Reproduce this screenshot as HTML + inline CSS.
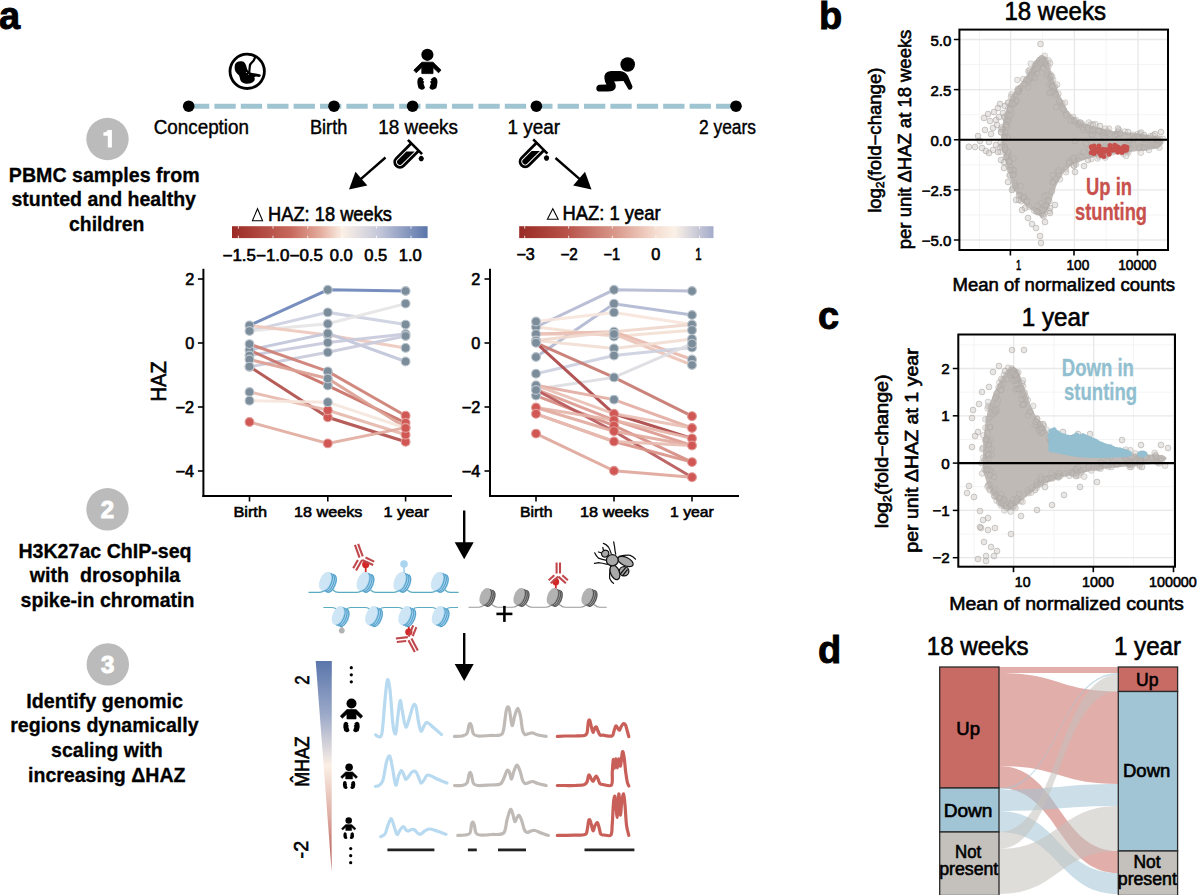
<!DOCTYPE html>
<html><head><meta charset="utf-8"><title>Figure</title>
<style>
html,body{margin:0;padding:0;background:#fff;width:1200px;height:895px;overflow:hidden}
svg{display:block;font-family:"Liberation Sans", sans-serif}
</style></head>
<body>
<svg width="1200" height="895" viewBox="0 0 1200 895">
<rect x="0" y="0" width="1200" height="895" fill="#fff"/>
<text x="-1.0" y="29.0" font-size="38" text-anchor="start" fill="#000" stroke="#000" stroke-width="0.9" font-weight="bold" >a</text>
<text x="819.0" y="29.0" font-size="38" text-anchor="start" fill="#000" stroke="#000" stroke-width="0.9" font-weight="bold" >b</text>
<text x="818.0" y="329.0" font-size="38" text-anchor="start" fill="#000" stroke="#000" stroke-width="0.9" font-weight="bold" >c</text>
<text x="818.0" y="663.0" font-size="38" text-anchor="start" fill="#000" stroke="#000" stroke-width="0.9" font-weight="bold" >d</text>
<line x1="188.00" y1="106.20" x2="736.00" y2="106.20" stroke="#9ec4d2" stroke-width="5" stroke-dasharray="21.3 5.1"/>
<circle cx="188.70" cy="106.20" r="5.8" fill="#000" />
<circle cx="334.00" cy="106.20" r="5.8" fill="#000" />
<circle cx="412.60" cy="106.20" r="5.8" fill="#000" />
<circle cx="536.40" cy="106.20" r="5.8" fill="#000" />
<circle cx="736.00" cy="106.20" r="5.8" fill="#000" />
<text x="153.7" y="134.0" font-size="19.5" text-anchor="start" fill="#000" stroke="#000" stroke-width="0.4" textLength="95.3" lengthAdjust="spacingAndGlyphs" >Conception</text>
<text x="310.0" y="134.0" font-size="19.5" text-anchor="start" fill="#000" stroke="#000" stroke-width="0.4" textLength="37.3" lengthAdjust="spacingAndGlyphs" >Birth</text>
<text x="378.3" y="134.0" font-size="19.5" text-anchor="start" fill="#000" stroke="#000" stroke-width="0.4" textLength="79.7" lengthAdjust="spacingAndGlyphs" >18 weeks</text>
<text x="507.5" y="134.0" font-size="19.5" text-anchor="start" fill="#000" stroke="#000" stroke-width="0.4" textLength="52.5" lengthAdjust="spacingAndGlyphs" >1 year</text>
<text x="699.0" y="134.0" font-size="19.5" text-anchor="start" fill="#000" stroke="#000" stroke-width="0.4" textLength="57.0" lengthAdjust="spacingAndGlyphs" >2 years</text>
<circle cx="247.2" cy="71.3" r="17.2" fill="none" stroke="#000" stroke-width="2.8"/>
<path d="M234.8,65.7 C235,62.5 238,61.2 241.8,61.3 C244.5,61.5 246,63.8 247,68.7 L248.1,70.9 L249.9,72.3 L252.1,73.1 L255.8,73.5 L259.5,74.2 C261.3,74.6 261.3,76.7 259.2,76.9 L255.8,76.5 L254.2,77.2 C255.2,78.6 254.8,80.5 253.6,81.6 C252,83.2 249,84 246.6,83.8 C244,83.7 241.5,82.5 240.7,80.8 C240,79.5 240,77.8 239.2,75.7 C238.5,74.8 236.5,73.5 235.5,71.6 C234.7,70 234.4,68 234.8,65.7 Z" fill="#000" stroke="none" stroke-width="1" />
<path d="M249.2,72.5 L249.8,66.1 C250,64.5 250.6,63.5 251.9,62.4 L253.7,60.5 L255.6,56.3" fill="none" stroke="#000" stroke-width="2.2" stroke-linejoin="round"/>
<circle cx="246.30" cy="72.60" r="0.5" fill="#fff" />
<circle cx="248.60" cy="74.40" r="0.45" fill="#fff" />
<g transform="translate(427.40 54.80) scale(1.0)"><circle cx="0" cy="0" r="6.1" fill="#000"/><path d="M-5.6,7.4 L5.6,7.4 L13.6,15.3 L11.2,18 L5.6,12.8 L5.6,18.8 L-5.6,18.8 L-5.6,12.8 L-11.2,18 L-13.6,15.3 Z" fill="#000" stroke="#000" stroke-width="0.8" stroke-linejoin="round"/><path d="M-9.6,24.3 Q-8,21.5 -5.6,22.6 L-3.6,24.6 L-4.6,25.4 L-3.2,27.3 L-4,28.4 L-2.4,33 Q-3.5,35.3 -6,35 L-8.8,33.4 Q-10.8,28 -9.6,24.3 Z" fill="#000"/><path d="M9.6,24.3 Q8,21.5 5.6,22.6 L3.2,24.6 L4.2,25.4 L2.6,27.3 L3.6,28.4 L2.0,33 Q3.1,35.3 5.6,35 L8.8,33.4 Q10.8,28 9.6,24.3 Z" fill="#000"/></g>
<circle cx="627.7" cy="64.5" r="7.3" fill="#000"/>
<path d="M604.5,79 Q603.5,71.5 611,71 L620,71 Q625.5,71.5 628,76 L632.5,86.5 Q632,90.5 628.5,89.5 L623.5,81 L614,81.5 Q616.5,84.5 615.5,88 Q614,91.5 608,91.5 L599,91.5 Q596.2,91.2 596.3,88 Q596.7,85 599.5,84.8 L606.5,84.6 Q604.8,82 604.5,79 Z" fill="#000" stroke="none" stroke-width="1" />
<g transform="translate(415.00 147.00) rotate(45)"><path d="M-5.2,0 L-5.2,21.3 A5.2,5.2 0 0 0 5.2,21.3 L5.2,0" fill="none" stroke="#000" stroke-width="2.8"/><path d="M-2.9,9.3 L2.9,3.5 L2.9,21.3 A2.9,2.9 0 0 1 -2.9,21.3 Z" fill="#000"/><line x1="-10" y1="0" x2="10" y2="0" stroke="#000" stroke-width="2.6"/><circle cx="12.6" cy="3.8" r="2.6" fill="#000"/></g>
<g transform="translate(540.30 146.50) rotate(45)"><path d="M-5.2,0 L-5.2,21.3 A5.2,5.2 0 0 0 5.2,21.3 L5.2,0" fill="none" stroke="#000" stroke-width="2.8"/><path d="M-2.9,9.3 L2.9,3.5 L2.9,21.3 A2.9,2.9 0 0 1 -2.9,21.3 Z" fill="#000"/><line x1="-10" y1="0" x2="10" y2="0" stroke="#000" stroke-width="2.6"/><circle cx="12.6" cy="3.8" r="2.6" fill="#000"/></g>
<line x1="385.50" y1="157.50" x2="359.90" y2="179.94" stroke="#000" stroke-width="2.4" />
<polygon points="349.00,189.50 355.47,171.86 367.34,185.39" fill="#000"/>
<line x1="555.50" y1="158.00" x2="580.59" y2="179.95" stroke="#000" stroke-width="2.4" />
<polygon points="591.50,189.50 573.16,185.41 585.01,171.86" fill="#000"/>
<line x1="464.20" y1="510.50" x2="464.20" y2="544.20" stroke="#000" stroke-width="2.4" />
<polygon points="464.20,559.20 454.70,542.20 473.70,542.20" fill="#000"/>
<line x1="464.20" y1="633.00" x2="464.20" y2="666.00" stroke="#000" stroke-width="2.4" />
<polygon points="464.20,681.00 454.70,664.00 473.70,664.00" fill="#000"/>
<circle cx="107.50" cy="139.00" r="21.2" fill="#bbbbbb" />
<path d="M107.7,130.1 L111.9,130.1 L111.9,147.6 L107.8,147.6 L107.8,135.8 L103.4,135.8 L103.4,132.6 Q107,132.3 107.7,130.1 Z" fill="#fff" stroke="none" stroke-width="1" />
<circle cx="107.50" cy="509.30" r="21.2" fill="#bbbbbb" />
<text x="107.5" y="517.9" font-size="24" text-anchor="middle" fill="#fff" stroke="#fff" stroke-width="1.0" font-weight="bold" >2</text>
<circle cx="107.80" cy="664.40" r="21.2" fill="#bbbbbb" />
<text x="107.8" y="673.0" font-size="24" text-anchor="middle" fill="#fff" stroke="#fff" stroke-width="1.0" font-weight="bold" >3</text>
<text x="8.8" y="181.9" font-size="20.5" text-anchor="start" fill="#000" stroke="#000" stroke-width="0.3" font-weight="bold" textLength="190.8" lengthAdjust="spacingAndGlyphs" >PBMC samples from</text>
<text x="11.4" y="206.4" font-size="20.5" text-anchor="start" fill="#000" stroke="#000" stroke-width="0.3" font-weight="bold" textLength="184.6" lengthAdjust="spacingAndGlyphs" >stunted and healthy</text>
<text x="69.1" y="231.4" font-size="20.5" text-anchor="start" fill="#000" stroke="#000" stroke-width="0.3" font-weight="bold" textLength="75.3" lengthAdjust="spacingAndGlyphs" >children</text>
<text x="18.4" y="557.8" font-size="20.5" text-anchor="start" fill="#000" stroke="#000" stroke-width="0.3" font-weight="bold" textLength="173.2" lengthAdjust="spacingAndGlyphs" >H3K27ac ChIP-seq</text>
<text x="29.8" y="582.2" font-size="20.5" text-anchor="start" fill="#000" stroke="#000" stroke-width="0.3" font-weight="bold" textLength="150.5" lengthAdjust="spacingAndGlyphs" >with&#160;&#160;drosophila</text>
<text x="20.6" y="606.8" font-size="20.5" text-anchor="start" fill="#000" stroke="#000" stroke-width="0.3" font-weight="bold" textLength="173.9" lengthAdjust="spacingAndGlyphs" >spike-in chromatin</text>
<text x="26.2" y="707.9" font-size="20.5" text-anchor="start" fill="#000" stroke="#000" stroke-width="0.3" font-weight="bold" textLength="156.7" lengthAdjust="spacingAndGlyphs" >Identify genomic</text>
<text x="10.2" y="732.4" font-size="20.5" text-anchor="start" fill="#000" stroke="#000" stroke-width="0.3" font-weight="bold" textLength="188.4" lengthAdjust="spacingAndGlyphs" >regions dynamically</text>
<text x="51.1" y="757.4" font-size="20.5" text-anchor="start" fill="#000" stroke="#000" stroke-width="0.3" font-weight="bold" textLength="111.7" lengthAdjust="spacingAndGlyphs" >scaling with</text>
<text x="28.0" y="781.9" font-size="20.5" text-anchor="start" fill="#000" stroke="#000" stroke-width="0.3" font-weight="bold" textLength="157.5" lengthAdjust="spacingAndGlyphs" >increasing &#916;HAZ</text>
<defs>
<linearGradient id="cb1" x1="0" x2="1" y1="0" y2="0">
<stop offset="0" stop-color="#9b2a25"/><stop offset="0.3" stop-color="#c7695c"/><stop offset="0.45" stop-color="#e3ab9c"/>
<stop offset="0.565" stop-color="#fbf0e6"/><stop offset="0.75" stop-color="#c5c8da"/><stop offset="1" stop-color="#5a75aa"/></linearGradient>
<linearGradient id="cb2" x1="0" x2="1" y1="0" y2="0">
<stop offset="0" stop-color="#992a24"/><stop offset="0.25" stop-color="#b8544b"/><stop offset="0.5" stop-color="#d99a8c"/>
<stop offset="0.7" stop-color="#f5dccf"/><stop offset="0.8" stop-color="#fbf1e7"/><stop offset="1" stop-color="#a4accb"/></linearGradient>
<linearGradient id="wedge" x1="0" x2="0" y1="0" y2="1">
<stop offset="0" stop-color="#5a76ab"/><stop offset="0.25" stop-color="#9aa8c8"/><stop offset="0.5" stop-color="#fbefe5"/>
<stop offset="0.75" stop-color="#dcaaa0"/><stop offset="1" stop-color="#b04a45"/></linearGradient>
</defs>
<rect x="232" y="226.2" width="195.6" height="11.9" fill="url(#cb1)"/>
<line x1="238.40" y1="226.20" x2="238.40" y2="228.60" stroke="#fff" stroke-width="0.8" />
<line x1="238.40" y1="235.70" x2="238.40" y2="238.10" stroke="#fff" stroke-width="0.8" />
<line x1="273.00" y1="226.20" x2="273.00" y2="228.60" stroke="#fff" stroke-width="0.8" />
<line x1="273.00" y1="235.70" x2="273.00" y2="238.10" stroke="#fff" stroke-width="0.8" />
<line x1="307.80" y1="226.20" x2="307.80" y2="228.60" stroke="#fff" stroke-width="0.8" />
<line x1="307.80" y1="235.70" x2="307.80" y2="238.10" stroke="#fff" stroke-width="0.8" />
<line x1="342.00" y1="226.20" x2="342.00" y2="228.60" stroke="#fff" stroke-width="0.8" />
<line x1="342.00" y1="235.70" x2="342.00" y2="238.10" stroke="#fff" stroke-width="0.8" />
<line x1="376.50" y1="226.20" x2="376.50" y2="228.60" stroke="#fff" stroke-width="0.8" />
<line x1="376.50" y1="235.70" x2="376.50" y2="238.10" stroke="#fff" stroke-width="0.8" />
<line x1="411.00" y1="226.20" x2="411.00" y2="228.60" stroke="#fff" stroke-width="0.8" />
<line x1="411.00" y1="235.70" x2="411.00" y2="238.10" stroke="#fff" stroke-width="0.8" />
<rect x="519.2" y="226.2" width="194.3" height="11.9" fill="url(#cb2)"/>
<line x1="524.70" y1="226.20" x2="524.70" y2="228.60" stroke="#fff" stroke-width="0.8" />
<line x1="524.70" y1="235.70" x2="524.70" y2="238.10" stroke="#fff" stroke-width="0.8" />
<line x1="568.70" y1="226.20" x2="568.70" y2="228.60" stroke="#fff" stroke-width="0.8" />
<line x1="568.70" y1="235.70" x2="568.70" y2="238.10" stroke="#fff" stroke-width="0.8" />
<line x1="612.30" y1="226.20" x2="612.30" y2="228.60" stroke="#fff" stroke-width="0.8" />
<line x1="612.30" y1="235.70" x2="612.30" y2="238.10" stroke="#fff" stroke-width="0.8" />
<line x1="655.90" y1="226.20" x2="655.90" y2="228.60" stroke="#fff" stroke-width="0.8" />
<line x1="655.90" y1="235.70" x2="655.90" y2="238.10" stroke="#fff" stroke-width="0.8" />
<line x1="699.60" y1="226.20" x2="699.60" y2="228.60" stroke="#fff" stroke-width="0.8" />
<line x1="699.60" y1="235.70" x2="699.60" y2="238.10" stroke="#fff" stroke-width="0.8" />
<path d="M257.5,208.7 L252.4,220.7 L262.6,220.7 Z" fill="none" stroke="#000" stroke-width="1.05" stroke-linejoin="miter"/>
<text x="268.1" y="220.6" font-size="20.9" text-anchor="start" fill="#000" stroke="#000" stroke-width="0.6" textLength="123.8" lengthAdjust="spacingAndGlyphs" >HAZ: 18 weeks</text>
<path d="M552.8,208.7 L547.4,219.2 L558.2,219.2 Z" fill="none" stroke="#000" stroke-width="1.05" stroke-linejoin="miter"/>
<text x="562.5" y="219.8" font-size="20.5" text-anchor="start" fill="#000" stroke="#000" stroke-width="0.6" textLength="98.1" lengthAdjust="spacingAndGlyphs" >HAZ: 1 year</text>
<text x="222.5" y="260.5" font-size="15.8" text-anchor="start" fill="#000" stroke="#000" stroke-width="0.6" textLength="33.5" lengthAdjust="spacingAndGlyphs" >&#8722;1.5</text>
<text x="256.0" y="260.5" font-size="15.8" text-anchor="start" fill="#000" stroke="#000" stroke-width="0.6" textLength="33.5" lengthAdjust="spacingAndGlyphs" >&#8722;1.0</text>
<text x="289.5" y="260.5" font-size="15.8" text-anchor="start" fill="#000" stroke="#000" stroke-width="0.6" textLength="33.5" lengthAdjust="spacingAndGlyphs" >&#8722;0.5</text>
<text x="329.8" y="260.5" font-size="15.8" text-anchor="start" fill="#000" stroke="#000" stroke-width="0.6" textLength="23.0" lengthAdjust="spacingAndGlyphs" >0.0</text>
<text x="364.3" y="260.5" font-size="15.8" text-anchor="start" fill="#000" stroke="#000" stroke-width="0.6" textLength="23.0" lengthAdjust="spacingAndGlyphs" >0.5</text>
<text x="398.8" y="260.5" font-size="15.8" text-anchor="start" fill="#000" stroke="#000" stroke-width="0.6" textLength="23.0" lengthAdjust="spacingAndGlyphs" >1.0</text>
<text x="516.4" y="260.0" font-size="15.8" text-anchor="start" fill="#000" stroke="#000" stroke-width="0.6" textLength="18.4" lengthAdjust="spacingAndGlyphs" >&#8722;3</text>
<text x="560.4" y="260.0" font-size="15.8" text-anchor="start" fill="#000" stroke="#000" stroke-width="0.6" textLength="17.4" lengthAdjust="spacingAndGlyphs" >&#8722;2</text>
<text x="603.5" y="260.0" font-size="15.8" text-anchor="start" fill="#000" stroke="#000" stroke-width="0.6" textLength="16.5" lengthAdjust="spacingAndGlyphs" >&#8722;1</text>
<text x="651.3" y="260.0" font-size="15.8" text-anchor="start" fill="#000" stroke="#000" stroke-width="0.6" textLength="9.1" lengthAdjust="spacingAndGlyphs" >0</text>
<text x="695.3" y="260.0" font-size="15.8" text-anchor="start" fill="#000" stroke="#000" stroke-width="0.6" textLength="6.4" lengthAdjust="spacingAndGlyphs" >1</text>
<line x1="203.40" y1="268.80" x2="203.40" y2="497.00" stroke="#000" stroke-width="2" />
<line x1="202.40" y1="496.00" x2="452.00" y2="496.00" stroke="#000" stroke-width="2" />
<line x1="197.90" y1="279.00" x2="203.40" y2="279.00" stroke="#000" stroke-width="1.6" />
<text x="194.2" y="285.0" font-size="16.3" text-anchor="end" fill="#000" stroke="#000" stroke-width="0.6" >2</text>
<line x1="197.90" y1="343.00" x2="203.40" y2="343.00" stroke="#000" stroke-width="1.6" />
<text x="194.2" y="349.0" font-size="16.3" text-anchor="end" fill="#000" stroke="#000" stroke-width="0.6" >0</text>
<line x1="197.90" y1="407.00" x2="203.40" y2="407.00" stroke="#000" stroke-width="1.6" />
<text x="194.2" y="413.0" font-size="16.3" text-anchor="end" fill="#000" stroke="#000" stroke-width="0.6" >&#8722;2</text>
<line x1="197.90" y1="471.00" x2="203.40" y2="471.00" stroke="#000" stroke-width="1.6" />
<text x="194.2" y="477.0" font-size="16.3" text-anchor="end" fill="#000" stroke="#000" stroke-width="0.6" >&#8722;4</text>
<line x1="249.50" y1="496.00" x2="249.50" y2="501.50" stroke="#000" stroke-width="1.6" />
<line x1="327.80" y1="496.00" x2="327.80" y2="501.50" stroke="#000" stroke-width="1.6" />
<line x1="405.60" y1="496.00" x2="405.60" y2="501.50" stroke="#000" stroke-width="1.6" />
<polyline points="249.5,325.4 327.8,289.8 405.6,291" fill="none" stroke="#6b84b8" stroke-width="3" stroke-opacity="0.92"/>
<polyline points="249.5,331 327.8,312.4 405.6,324.6" fill="none" stroke="#cdd0e0" stroke-width="3" stroke-opacity="0.92"/>
<polyline points="249.5,331 327.8,323.8 405.6,303.6" fill="none" stroke="#e6e4e4" stroke-width="3" stroke-opacity="0.92"/>
<polyline points="249.5,325.4 327.8,335 405.6,347.9" fill="none" stroke="#efc9bd" stroke-width="3" stroke-opacity="0.92"/>
<polyline points="249.5,350 327.8,333.3 405.6,361.5" fill="none" stroke="#c1c5da" stroke-width="3" stroke-opacity="0.92"/>
<polyline points="249.5,355.5 327.8,342.5 405.6,334" fill="none" stroke="#c8cadc" stroke-width="3" stroke-opacity="0.92"/>
<polyline points="249.5,366.9 327.8,352.3 405.6,336" fill="none" stroke="#c9cbdc" stroke-width="3" stroke-opacity="0.92"/>
<polyline points="249.5,344.1 327.8,371.4 405.6,415.7" fill="none" stroke="#cd7f74" stroke-width="3" stroke-opacity="0.92"/>
<polyline points="249.5,350 327.8,385.6 405.6,422.8" fill="none" stroke="#c87066" stroke-width="3" stroke-opacity="0.92"/>
<polyline points="249.5,359.5 327.8,378.5 405.6,427.6" fill="none" stroke="#dc9f93" stroke-width="3" stroke-opacity="0.92"/>
<polyline points="249.5,366.6 327.8,417.3 405.6,441.8" fill="none" stroke="#b04e4b" stroke-width="3" stroke-opacity="0.92"/>
<polyline points="249.5,392 327.8,410.2 405.6,434.7" fill="none" stroke="#e6b8ad" stroke-width="3" stroke-opacity="0.92"/>
<polyline points="249.5,400.7 327.8,402.2 405.6,428" fill="none" stroke="#f5e6dc" stroke-width="3" stroke-opacity="0.92"/>
<polyline points="249.5,422 327.8,443.4 405.6,427.6" fill="none" stroke="#e2aca1" stroke-width="3" stroke-opacity="0.92"/>
<circle cx="249.50" cy="325.40" r="4.4" fill="#7b8c9b" stroke="#bcc4cc" stroke-width="1.1"/>
<circle cx="327.80" cy="289.80" r="4.4" fill="#7b8c9b" stroke="#bcc4cc" stroke-width="1.1"/>
<circle cx="405.60" cy="291.00" r="4.4" fill="#7b8c9b" stroke="#bcc4cc" stroke-width="1.1"/>
<circle cx="249.50" cy="331.00" r="4.4" fill="#7b8c9b" stroke="#bcc4cc" stroke-width="1.1"/>
<circle cx="327.80" cy="312.40" r="4.4" fill="#7b8c9b" stroke="#bcc4cc" stroke-width="1.1"/>
<circle cx="405.60" cy="324.60" r="4.4" fill="#7b8c9b" stroke="#bcc4cc" stroke-width="1.1"/>
<circle cx="327.80" cy="323.80" r="4.4" fill="#7b8c9b" stroke="#bcc4cc" stroke-width="1.1"/>
<circle cx="405.60" cy="303.60" r="4.4" fill="#7b8c9b" stroke="#bcc4cc" stroke-width="1.1"/>
<circle cx="327.80" cy="335.00" r="4.4" fill="#7b8c9b" stroke="#bcc4cc" stroke-width="1.1"/>
<circle cx="405.60" cy="347.90" r="4.4" fill="#7b8c9b" stroke="#bcc4cc" stroke-width="1.1"/>
<circle cx="249.50" cy="350.00" r="4.4" fill="#7b8c9b" stroke="#bcc4cc" stroke-width="1.1"/>
<circle cx="327.80" cy="333.30" r="4.4" fill="#7b8c9b" stroke="#bcc4cc" stroke-width="1.1"/>
<circle cx="405.60" cy="361.50" r="4.4" fill="#7b8c9b" stroke="#bcc4cc" stroke-width="1.1"/>
<circle cx="249.50" cy="355.50" r="4.4" fill="#7b8c9b" stroke="#bcc4cc" stroke-width="1.1"/>
<circle cx="327.80" cy="342.50" r="4.4" fill="#7b8c9b" stroke="#bcc4cc" stroke-width="1.1"/>
<circle cx="405.60" cy="334.00" r="4.4" fill="#7b8c9b" stroke="#bcc4cc" stroke-width="1.1"/>
<circle cx="249.50" cy="366.90" r="4.4" fill="#7b8c9b" stroke="#bcc4cc" stroke-width="1.1"/>
<circle cx="327.80" cy="352.30" r="4.4" fill="#7b8c9b" stroke="#bcc4cc" stroke-width="1.1"/>
<circle cx="405.60" cy="336.00" r="4.4" fill="#7b8c9b" stroke="#bcc4cc" stroke-width="1.1"/>
<circle cx="249.50" cy="344.10" r="4.4" fill="#7b8c9b" stroke="#bcc4cc" stroke-width="1.1"/>
<circle cx="327.80" cy="371.40" r="4.4" fill="#7b8c9b" stroke="#bcc4cc" stroke-width="1.1"/>
<circle cx="405.60" cy="415.70" r="4.4" fill="#d05753" stroke="#e09a96" stroke-width="1.1"/>
<circle cx="327.80" cy="385.60" r="4.4" fill="#7b8c9b" stroke="#bcc4cc" stroke-width="1.1"/>
<circle cx="405.60" cy="422.80" r="4.4" fill="#d05753" stroke="#e09a96" stroke-width="1.1"/>
<circle cx="249.50" cy="359.50" r="4.4" fill="#7b8c9b" stroke="#bcc4cc" stroke-width="1.1"/>
<circle cx="327.80" cy="378.50" r="4.4" fill="#7b8c9b" stroke="#bcc4cc" stroke-width="1.1"/>
<circle cx="405.60" cy="427.60" r="4.4" fill="#d05753" stroke="#e09a96" stroke-width="1.1"/>
<circle cx="249.50" cy="366.60" r="4.4" fill="#7b8c9b" stroke="#bcc4cc" stroke-width="1.1"/>
<circle cx="327.80" cy="417.30" r="4.4" fill="#d05753" stroke="#e09a96" stroke-width="1.1"/>
<circle cx="405.60" cy="441.80" r="4.4" fill="#d05753" stroke="#e09a96" stroke-width="1.1"/>
<circle cx="249.50" cy="392.00" r="4.4" fill="#7b8c9b" stroke="#bcc4cc" stroke-width="1.1"/>
<circle cx="327.80" cy="410.20" r="4.4" fill="#d05753" stroke="#e09a96" stroke-width="1.1"/>
<circle cx="405.60" cy="434.70" r="4.4" fill="#d05753" stroke="#e09a96" stroke-width="1.1"/>
<circle cx="249.50" cy="400.70" r="4.4" fill="#7b8c9b" stroke="#bcc4cc" stroke-width="1.1"/>
<circle cx="327.80" cy="402.20" r="4.4" fill="#7b8c9b" stroke="#bcc4cc" stroke-width="1.1"/>
<circle cx="405.60" cy="428.00" r="4.4" fill="#d05753" stroke="#e09a96" stroke-width="1.1"/>
<circle cx="249.50" cy="422.00" r="4.4" fill="#d05753" stroke="#e09a96" stroke-width="1.1"/>
<circle cx="327.80" cy="443.40" r="4.4" fill="#d05753" stroke="#e09a96" stroke-width="1.1"/>
<line x1="490.00" y1="268.80" x2="490.00" y2="497.00" stroke="#000" stroke-width="2" />
<line x1="489.00" y1="496.00" x2="739.00" y2="496.00" stroke="#000" stroke-width="2" />
<line x1="484.50" y1="279.00" x2="490.00" y2="279.00" stroke="#000" stroke-width="1.6" />
<text x="480.3" y="285.0" font-size="16.3" text-anchor="end" fill="#000" stroke="#000" stroke-width="0.6" >2</text>
<line x1="484.50" y1="343.00" x2="490.00" y2="343.00" stroke="#000" stroke-width="1.6" />
<text x="480.3" y="349.0" font-size="16.3" text-anchor="end" fill="#000" stroke="#000" stroke-width="0.6" >0</text>
<line x1="484.50" y1="407.00" x2="490.00" y2="407.00" stroke="#000" stroke-width="1.6" />
<text x="480.3" y="413.0" font-size="16.3" text-anchor="end" fill="#000" stroke="#000" stroke-width="0.6" >&#8722;2</text>
<line x1="484.50" y1="471.00" x2="490.00" y2="471.00" stroke="#000" stroke-width="1.6" />
<text x="480.3" y="477.0" font-size="16.3" text-anchor="end" fill="#000" stroke="#000" stroke-width="0.6" >&#8722;4</text>
<line x1="536.00" y1="496.00" x2="536.00" y2="501.50" stroke="#000" stroke-width="1.6" />
<line x1="614.00" y1="496.00" x2="614.00" y2="501.50" stroke="#000" stroke-width="1.6" />
<line x1="692.00" y1="496.00" x2="692.00" y2="501.50" stroke="#000" stroke-width="1.6" />
<polyline points="536,327 614,289.8 692,291" fill="none" stroke="#b4bad3" stroke-width="3" stroke-opacity="0.92"/>
<polyline points="536,357 614,303.7 692,315" fill="none" stroke="#b0b7d1" stroke-width="3" stroke-opacity="0.92"/>
<polyline points="536,321.5 614,312.4 692,324.6" fill="none" stroke="#f6e5dc" stroke-width="3" stroke-opacity="0.92"/>
<polyline points="536,327 614,336.5 692,330.2" fill="none" stroke="#f3dfd4" stroke-width="3" stroke-opacity="0.92"/>
<polyline points="536,334 614,331.7 692,359.5" fill="none" stroke="#e8b9ab" stroke-width="3" stroke-opacity="0.92"/>
<polyline points="536,334 614,334 692,365" fill="none" stroke="#ebc3b7" stroke-width="3" stroke-opacity="0.92"/>
<polyline points="536,340.5 614,348.4 692,338.9" fill="none" stroke="#f2ddd4" stroke-width="3" stroke-opacity="0.92"/>
<polyline points="536,373.7 614,355.5 692,347.6" fill="none" stroke="#cdd0df" stroke-width="3" stroke-opacity="0.92"/>
<polyline points="536,389.3 614,377.4 692,343.6" fill="none" stroke="#dddde2" stroke-width="3" stroke-opacity="0.92"/>
<polyline points="536,342.8 614,377.4 692,416.2" fill="none" stroke="#c77a70" stroke-width="3" stroke-opacity="0.92"/>
<polyline points="536,342.8 614,413.8 692,438.4" fill="none" stroke="#ad4746" stroke-width="3" stroke-opacity="0.92"/>
<polyline points="536,385.3 614,399.6 692,428" fill="none" stroke="#e3ada2" stroke-width="3" stroke-opacity="0.92"/>
<polyline points="536,389.3 614,420.2 692,445.5" fill="none" stroke="#dc9a8f" stroke-width="3" stroke-opacity="0.92"/>
<polyline points="536,395.6 614,425.7 692,462.1" fill="none" stroke="#d68d83" stroke-width="3" stroke-opacity="0.92"/>
<polyline points="536,390 614,431.2 692,477.2" fill="none" stroke="#b9585a" stroke-width="3" stroke-opacity="0.92"/>
<polyline points="536,407.5 614,420.2 692,438.4" fill="none" stroke="#e6b5aa" stroke-width="3" stroke-opacity="0.92"/>
<polyline points="536,413.8 614,441.5 692,462.1" fill="none" stroke="#d99488" stroke-width="3" stroke-opacity="0.92"/>
<polyline points="536,407.5 614,431.2 692,445.5" fill="none" stroke="#e2aa9e" stroke-width="3" stroke-opacity="0.92"/>
<polyline points="536,433.6 614,470.8 692,477.2" fill="none" stroke="#e0a79c" stroke-width="3" stroke-opacity="0.92"/>
<polyline points="536,413.8 614,441.5 692,445.5" fill="none" stroke="#e8bcb1" stroke-width="3" stroke-opacity="0.92"/>
<polyline points="536,385.3 614,413.8 692,428" fill="none" stroke="#e9bfb4" stroke-width="3" stroke-opacity="0.92"/>
<polyline points="536,340.5 614,331.7 692,324.6" fill="none" stroke="#f0d8cd" stroke-width="3" stroke-opacity="0.92"/>
<circle cx="536.00" cy="327.00" r="4.4" fill="#7b8c9b" stroke="#bcc4cc" stroke-width="1.1"/>
<circle cx="614.00" cy="289.80" r="4.4" fill="#7b8c9b" stroke="#bcc4cc" stroke-width="1.1"/>
<circle cx="692.00" cy="291.00" r="4.4" fill="#7b8c9b" stroke="#bcc4cc" stroke-width="1.1"/>
<circle cx="536.00" cy="357.00" r="4.4" fill="#7b8c9b" stroke="#bcc4cc" stroke-width="1.1"/>
<circle cx="614.00" cy="303.70" r="4.4" fill="#7b8c9b" stroke="#bcc4cc" stroke-width="1.1"/>
<circle cx="692.00" cy="315.00" r="4.4" fill="#7b8c9b" stroke="#bcc4cc" stroke-width="1.1"/>
<circle cx="536.00" cy="321.50" r="4.4" fill="#7b8c9b" stroke="#bcc4cc" stroke-width="1.1"/>
<circle cx="614.00" cy="312.40" r="4.4" fill="#7b8c9b" stroke="#bcc4cc" stroke-width="1.1"/>
<circle cx="692.00" cy="324.60" r="4.4" fill="#7b8c9b" stroke="#bcc4cc" stroke-width="1.1"/>
<circle cx="614.00" cy="336.50" r="4.4" fill="#7b8c9b" stroke="#bcc4cc" stroke-width="1.1"/>
<circle cx="692.00" cy="330.20" r="4.4" fill="#7b8c9b" stroke="#bcc4cc" stroke-width="1.1"/>
<circle cx="536.00" cy="334.00" r="4.4" fill="#7b8c9b" stroke="#bcc4cc" stroke-width="1.1"/>
<circle cx="614.00" cy="331.70" r="4.4" fill="#7b8c9b" stroke="#bcc4cc" stroke-width="1.1"/>
<circle cx="692.00" cy="359.50" r="4.4" fill="#7b8c9b" stroke="#bcc4cc" stroke-width="1.1"/>
<circle cx="614.00" cy="334.00" r="4.4" fill="#7b8c9b" stroke="#bcc4cc" stroke-width="1.1"/>
<circle cx="692.00" cy="365.00" r="4.4" fill="#7b8c9b" stroke="#bcc4cc" stroke-width="1.1"/>
<circle cx="536.00" cy="340.50" r="4.4" fill="#7b8c9b" stroke="#bcc4cc" stroke-width="1.1"/>
<circle cx="614.00" cy="348.40" r="4.4" fill="#7b8c9b" stroke="#bcc4cc" stroke-width="1.1"/>
<circle cx="692.00" cy="338.90" r="4.4" fill="#7b8c9b" stroke="#bcc4cc" stroke-width="1.1"/>
<circle cx="536.00" cy="373.70" r="4.4" fill="#7b8c9b" stroke="#bcc4cc" stroke-width="1.1"/>
<circle cx="614.00" cy="355.50" r="4.4" fill="#7b8c9b" stroke="#bcc4cc" stroke-width="1.1"/>
<circle cx="692.00" cy="347.60" r="4.4" fill="#7b8c9b" stroke="#bcc4cc" stroke-width="1.1"/>
<circle cx="536.00" cy="389.30" r="4.4" fill="#7b8c9b" stroke="#bcc4cc" stroke-width="1.1"/>
<circle cx="614.00" cy="377.40" r="4.4" fill="#7b8c9b" stroke="#bcc4cc" stroke-width="1.1"/>
<circle cx="692.00" cy="343.60" r="4.4" fill="#7b8c9b" stroke="#bcc4cc" stroke-width="1.1"/>
<circle cx="536.00" cy="342.80" r="4.4" fill="#7b8c9b" stroke="#bcc4cc" stroke-width="1.1"/>
<circle cx="692.00" cy="416.20" r="4.4" fill="#d05753" stroke="#e09a96" stroke-width="1.1"/>
<circle cx="614.00" cy="413.80" r="4.4" fill="#d05753" stroke="#e09a96" stroke-width="1.1"/>
<circle cx="692.00" cy="438.40" r="4.4" fill="#d05753" stroke="#e09a96" stroke-width="1.1"/>
<circle cx="536.00" cy="385.30" r="4.4" fill="#7b8c9b" stroke="#bcc4cc" stroke-width="1.1"/>
<circle cx="614.00" cy="399.60" r="4.4" fill="#7b8c9b" stroke="#bcc4cc" stroke-width="1.1"/>
<circle cx="692.00" cy="428.00" r="4.4" fill="#d05753" stroke="#e09a96" stroke-width="1.1"/>
<circle cx="614.00" cy="420.20" r="4.4" fill="#d05753" stroke="#e09a96" stroke-width="1.1"/>
<circle cx="692.00" cy="445.50" r="4.4" fill="#d05753" stroke="#e09a96" stroke-width="1.1"/>
<circle cx="536.00" cy="395.60" r="4.4" fill="#7b8c9b" stroke="#bcc4cc" stroke-width="1.1"/>
<circle cx="614.00" cy="425.70" r="4.4" fill="#d05753" stroke="#e09a96" stroke-width="1.1"/>
<circle cx="692.00" cy="462.10" r="4.4" fill="#d05753" stroke="#e09a96" stroke-width="1.1"/>
<circle cx="536.00" cy="390.00" r="4.4" fill="#7b8c9b" stroke="#bcc4cc" stroke-width="1.1"/>
<circle cx="614.00" cy="431.20" r="4.4" fill="#d05753" stroke="#e09a96" stroke-width="1.1"/>
<circle cx="692.00" cy="477.20" r="4.4" fill="#d05753" stroke="#e09a96" stroke-width="1.1"/>
<circle cx="536.00" cy="407.50" r="4.4" fill="#d05753" stroke="#e09a96" stroke-width="1.1"/>
<circle cx="536.00" cy="413.80" r="4.4" fill="#d05753" stroke="#e09a96" stroke-width="1.1"/>
<circle cx="614.00" cy="441.50" r="4.4" fill="#d05753" stroke="#e09a96" stroke-width="1.1"/>
<circle cx="536.00" cy="433.60" r="4.4" fill="#d05753" stroke="#e09a96" stroke-width="1.1"/>
<circle cx="614.00" cy="470.80" r="4.4" fill="#d05753" stroke="#e09a96" stroke-width="1.1"/>
<text x="165.9" y="381.4" font-size="21.7" text-anchor="middle" fill="#000" stroke="#000" stroke-width="0.6" textLength="40.2" lengthAdjust="spacingAndGlyphs" transform="rotate(-90 165.9 381.4)" >HAZ</text>
<text x="233.4" y="517.4" font-size="15.5" text-anchor="start" fill="#000" stroke="#000" stroke-width="0.6" textLength="33.6" lengthAdjust="spacingAndGlyphs" >Birth</text>
<text x="294.1" y="517.4" font-size="15.5" text-anchor="start" fill="#000" stroke="#000" stroke-width="0.6" textLength="68.3" lengthAdjust="spacingAndGlyphs" >18 weeks</text>
<text x="383.4" y="517.4" font-size="15.5" text-anchor="start" fill="#000" stroke="#000" stroke-width="0.6" textLength="45.5" lengthAdjust="spacingAndGlyphs" >1 year</text>
<text x="520.0" y="517.4" font-size="15.5" text-anchor="start" fill="#000" stroke="#000" stroke-width="0.6" textLength="32.5" lengthAdjust="spacingAndGlyphs" >Birth</text>
<text x="580.0" y="517.4" font-size="15.5" text-anchor="start" fill="#000" stroke="#000" stroke-width="0.6" textLength="68.8" lengthAdjust="spacingAndGlyphs" >18 weeks</text>
<text x="670.0" y="517.4" font-size="15.5" text-anchor="start" fill="#000" stroke="#000" stroke-width="0.6" textLength="43.8" lengthAdjust="spacingAndGlyphs" >1 year</text>
<defs><clipPath id="clipb"><rect x="959.4" y="29.6" width="208.60000000000002" height="220.4"/></clipPath><clipPath id="clipc"><rect x="957.5" y="334.5" width="217.5" height="233"/></clipPath></defs>
<rect x="959.4" y="29.6" width="208.60000000000002" height="220.4" fill="#fff"/>
<line x1="979.40" y1="29.60" x2="979.40" y2="250.00" stroke="#f1f1f1" stroke-width="0.8" />
<line x1="1042.60" y1="29.60" x2="1042.60" y2="250.00" stroke="#f1f1f1" stroke-width="0.8" />
<line x1="1106.00" y1="29.60" x2="1106.00" y2="250.00" stroke="#f1f1f1" stroke-width="0.8" />
<line x1="959.40" y1="64.56" x2="1168.00" y2="64.56" stroke="#f1f1f1" stroke-width="0.8" />
<line x1="959.40" y1="114.69" x2="1168.00" y2="114.69" stroke="#f1f1f1" stroke-width="0.8" />
<line x1="959.40" y1="164.81" x2="1168.00" y2="164.81" stroke="#f1f1f1" stroke-width="0.8" />
<line x1="959.40" y1="214.94" x2="1168.00" y2="214.94" stroke="#f1f1f1" stroke-width="0.8" />
<line x1="1010.60" y1="29.60" x2="1010.60" y2="250.00" stroke="#e8e8e8" stroke-width="1.3" />
<line x1="1074.40" y1="29.60" x2="1074.40" y2="250.00" stroke="#e8e8e8" stroke-width="1.3" />
<line x1="1138.00" y1="29.60" x2="1138.00" y2="250.00" stroke="#e8e8e8" stroke-width="1.3" />
<line x1="959.40" y1="39.50" x2="1168.00" y2="39.50" stroke="#e8e8e8" stroke-width="1.3" />
<line x1="959.40" y1="89.62" x2="1168.00" y2="89.62" stroke="#e8e8e8" stroke-width="1.3" />
<line x1="959.40" y1="139.75" x2="1168.00" y2="139.75" stroke="#e8e8e8" stroke-width="1.3" />
<line x1="959.40" y1="189.88" x2="1168.00" y2="189.88" stroke="#e8e8e8" stroke-width="1.3" />
<line x1="959.40" y1="240.00" x2="1168.00" y2="240.00" stroke="#e8e8e8" stroke-width="1.3" />
<g clip-path="url(#clipb)">
<path d="M1003.0,139.0 L1003.5,128.0 L1005.0,120.0 L1008.0,110.0 L1011.0,100.0 L1016.0,92.0 L1021.0,85.0 L1026.0,79.0 L1031.0,71.0 L1035.0,64.0 L1039.0,58.5 L1042.0,56.5 L1045.0,58.0 L1048.0,66.0 L1052.6,81.7 L1058.0,95.0 L1066.0,111.0 L1076.7,122.0 L1090.0,127.0 L1114.0,132.6 L1141.0,135.3 L1158.0,138.0 L1162.0,143.0 L1158.0,147.0 L1130.0,150.5 L1100.0,154.0 L1085.0,158.0 L1072.0,163.0 L1062.0,172.0 L1055.0,185.0 L1050.0,200.0 L1046.0,210.0 L1042.0,216.0 L1037.0,212.0 L1030.0,207.0 L1022.0,200.0 L1015.0,188.0 L1010.0,172.0 L1006.0,158.0 L1003.0,146.0 Z" fill="#bfbab6" stroke="#bfbab6" stroke-width="3" stroke-linejoin="round"/>
<circle cx="1073.07" cy="117.03" r="2.9" fill="#bfbab6" fill-opacity="0.3" stroke="#aca7a3" stroke-opacity="0.55" stroke-width="0.8"/>
<circle cx="1008.28" cy="102.79" r="2.9" fill="#bfbab6" fill-opacity="0.3" stroke="#aca7a3" stroke-opacity="0.55" stroke-width="0.8"/>
<circle cx="1152.05" cy="145.58" r="2.9" fill="#bfbab6" fill-opacity="0.3" stroke="#aca7a3" stroke-opacity="0.55" stroke-width="0.8"/>
<circle cx="1159.53" cy="141.16" r="2.9" fill="#bfbab6" fill-opacity="0.3" stroke="#aca7a3" stroke-opacity="0.55" stroke-width="0.8"/>
<circle cx="1007.39" cy="120.67" r="2.9" fill="#bfbab6" fill-opacity="0.3" stroke="#aca7a3" stroke-opacity="0.55" stroke-width="0.8"/>
<circle cx="1014.97" cy="95.67" r="2.9" fill="#bfbab6" fill-opacity="0.3" stroke="#aca7a3" stroke-opacity="0.55" stroke-width="0.8"/>
<circle cx="1119.79" cy="134.01" r="2.9" fill="#bfbab6" fill-opacity="0.3" stroke="#aca7a3" stroke-opacity="0.55" stroke-width="0.8"/>
<circle cx="1047.32" cy="73.55" r="2.9" fill="#bfbab6" fill-opacity="0.3" stroke="#aca7a3" stroke-opacity="0.55" stroke-width="0.8"/>
<circle cx="1106.65" cy="155.22" r="2.9" fill="#bfbab6" fill-opacity="0.3" stroke="#aca7a3" stroke-opacity="0.55" stroke-width="0.8"/>
<circle cx="1105.44" cy="133.36" r="2.9" fill="#bfbab6" fill-opacity="0.3" stroke="#aca7a3" stroke-opacity="0.55" stroke-width="0.8"/>
<circle cx="1000.52" cy="151.76" r="2.9" fill="#bfbab6" fill-opacity="0.3" stroke="#aca7a3" stroke-opacity="0.55" stroke-width="0.8"/>
<circle cx="1062.50" cy="103.77" r="2.9" fill="#bfbab6" fill-opacity="0.3" stroke="#aca7a3" stroke-opacity="0.55" stroke-width="0.8"/>
<circle cx="1029.46" cy="72.94" r="2.9" fill="#bfbab6" fill-opacity="0.3" stroke="#aca7a3" stroke-opacity="0.55" stroke-width="0.8"/>
<circle cx="1043.56" cy="213.88" r="2.9" fill="#bfbab6" fill-opacity="0.3" stroke="#aca7a3" stroke-opacity="0.55" stroke-width="0.8"/>
<circle cx="1042.67" cy="62.04" r="2.9" fill="#bfbab6" fill-opacity="0.3" stroke="#aca7a3" stroke-opacity="0.55" stroke-width="0.8"/>
<circle cx="1093.33" cy="131.33" r="2.9" fill="#bfbab6" fill-opacity="0.3" stroke="#aca7a3" stroke-opacity="0.55" stroke-width="0.8"/>
<circle cx="1146.30" cy="147.86" r="2.9" fill="#bfbab6" fill-opacity="0.3" stroke="#aca7a3" stroke-opacity="0.55" stroke-width="0.8"/>
<circle cx="1046.36" cy="64.83" r="2.9" fill="#bfbab6" fill-opacity="0.3" stroke="#aca7a3" stroke-opacity="0.55" stroke-width="0.8"/>
<circle cx="1079.23" cy="156.27" r="2.9" fill="#bfbab6" fill-opacity="0.3" stroke="#aca7a3" stroke-opacity="0.55" stroke-width="0.8"/>
<circle cx="1127.37" cy="150.37" r="2.9" fill="#bfbab6" fill-opacity="0.3" stroke="#aca7a3" stroke-opacity="0.55" stroke-width="0.8"/>
<circle cx="1133.97" cy="137.64" r="2.9" fill="#bfbab6" fill-opacity="0.3" stroke="#aca7a3" stroke-opacity="0.55" stroke-width="0.8"/>
<circle cx="1074.00" cy="165.56" r="2.9" fill="#bfbab6" fill-opacity="0.3" stroke="#aca7a3" stroke-opacity="0.55" stroke-width="0.8"/>
<circle cx="1048.85" cy="84.55" r="2.9" fill="#bfbab6" fill-opacity="0.3" stroke="#aca7a3" stroke-opacity="0.55" stroke-width="0.8"/>
<circle cx="1023.86" cy="197.15" r="2.9" fill="#bfbab6" fill-opacity="0.3" stroke="#aca7a3" stroke-opacity="0.55" stroke-width="0.8"/>
<circle cx="1058.03" cy="172.30" r="2.9" fill="#bfbab6" fill-opacity="0.3" stroke="#aca7a3" stroke-opacity="0.55" stroke-width="0.8"/>
<circle cx="1017.39" cy="79.96" r="2.9" fill="#bfbab6" fill-opacity="0.3" stroke="#aca7a3" stroke-opacity="0.55" stroke-width="0.8"/>
<circle cx="1116.51" cy="134.29" r="2.9" fill="#bfbab6" fill-opacity="0.3" stroke="#aca7a3" stroke-opacity="0.55" stroke-width="0.8"/>
<circle cx="1151.68" cy="140.14" r="2.9" fill="#bfbab6" fill-opacity="0.3" stroke="#aca7a3" stroke-opacity="0.55" stroke-width="0.8"/>
<circle cx="1008.87" cy="120.48" r="2.9" fill="#bfbab6" fill-opacity="0.3" stroke="#aca7a3" stroke-opacity="0.55" stroke-width="0.8"/>
<circle cx="1133.00" cy="144.43" r="2.9" fill="#bfbab6" fill-opacity="0.3" stroke="#aca7a3" stroke-opacity="0.55" stroke-width="0.8"/>
<circle cx="1023.89" cy="196.93" r="2.9" fill="#bfbab6" fill-opacity="0.3" stroke="#aca7a3" stroke-opacity="0.55" stroke-width="0.8"/>
<circle cx="1123.29" cy="153.78" r="2.9" fill="#bfbab6" fill-opacity="0.3" stroke="#aca7a3" stroke-opacity="0.55" stroke-width="0.8"/>
<circle cx="1129.43" cy="143.86" r="2.9" fill="#bfbab6" fill-opacity="0.3" stroke="#aca7a3" stroke-opacity="0.55" stroke-width="0.8"/>
<circle cx="1008.40" cy="166.22" r="2.9" fill="#bfbab6" fill-opacity="0.3" stroke="#aca7a3" stroke-opacity="0.55" stroke-width="0.8"/>
<circle cx="1144.44" cy="137.88" r="2.9" fill="#bfbab6" fill-opacity="0.3" stroke="#aca7a3" stroke-opacity="0.55" stroke-width="0.8"/>
<circle cx="1069.32" cy="162.25" r="2.9" fill="#bfbab6" fill-opacity="0.3" stroke="#aca7a3" stroke-opacity="0.55" stroke-width="0.8"/>
<circle cx="1097.58" cy="158.47" r="2.9" fill="#bfbab6" fill-opacity="0.3" stroke="#aca7a3" stroke-opacity="0.55" stroke-width="0.8"/>
<circle cx="1059.73" cy="102.32" r="2.9" fill="#bfbab6" fill-opacity="0.3" stroke="#aca7a3" stroke-opacity="0.55" stroke-width="0.8"/>
<circle cx="1100.29" cy="131.24" r="2.9" fill="#bfbab6" fill-opacity="0.3" stroke="#aca7a3" stroke-opacity="0.55" stroke-width="0.8"/>
<circle cx="1138.35" cy="137.07" r="2.9" fill="#bfbab6" fill-opacity="0.3" stroke="#aca7a3" stroke-opacity="0.55" stroke-width="0.8"/>
<circle cx="1036.50" cy="63.25" r="2.9" fill="#bfbab6" fill-opacity="0.3" stroke="#aca7a3" stroke-opacity="0.55" stroke-width="0.8"/>
<circle cx="1051.99" cy="191.35" r="2.9" fill="#bfbab6" fill-opacity="0.3" stroke="#aca7a3" stroke-opacity="0.55" stroke-width="0.8"/>
<circle cx="1026.76" cy="80.37" r="2.9" fill="#bfbab6" fill-opacity="0.3" stroke="#aca7a3" stroke-opacity="0.55" stroke-width="0.8"/>
<circle cx="1021.41" cy="201.20" r="2.9" fill="#bfbab6" fill-opacity="0.3" stroke="#aca7a3" stroke-opacity="0.55" stroke-width="0.8"/>
<circle cx="1015.47" cy="102.01" r="2.9" fill="#bfbab6" fill-opacity="0.3" stroke="#aca7a3" stroke-opacity="0.55" stroke-width="0.8"/>
<circle cx="1019.47" cy="194.88" r="2.9" fill="#bfbab6" fill-opacity="0.3" stroke="#aca7a3" stroke-opacity="0.55" stroke-width="0.8"/>
<circle cx="1042.57" cy="215.12" r="2.9" fill="#bfbab6" fill-opacity="0.3" stroke="#aca7a3" stroke-opacity="0.55" stroke-width="0.8"/>
<circle cx="1114.92" cy="135.91" r="2.9" fill="#bfbab6" fill-opacity="0.3" stroke="#aca7a3" stroke-opacity="0.55" stroke-width="0.8"/>
<circle cx="1088.83" cy="122.55" r="2.9" fill="#bfbab6" fill-opacity="0.3" stroke="#aca7a3" stroke-opacity="0.55" stroke-width="0.8"/>
<circle cx="1036.82" cy="73.28" r="2.9" fill="#bfbab6" fill-opacity="0.3" stroke="#aca7a3" stroke-opacity="0.55" stroke-width="0.8"/>
<circle cx="1039.33" cy="60.21" r="2.9" fill="#bfbab6" fill-opacity="0.3" stroke="#aca7a3" stroke-opacity="0.55" stroke-width="0.8"/>
<circle cx="1150.26" cy="136.24" r="2.9" fill="#bfbab6" fill-opacity="0.3" stroke="#aca7a3" stroke-opacity="0.55" stroke-width="0.8"/>
<circle cx="1125.46" cy="149.50" r="2.9" fill="#bfbab6" fill-opacity="0.3" stroke="#aca7a3" stroke-opacity="0.55" stroke-width="0.8"/>
<circle cx="1116.95" cy="134.15" r="2.9" fill="#bfbab6" fill-opacity="0.3" stroke="#aca7a3" stroke-opacity="0.55" stroke-width="0.8"/>
<circle cx="1090.98" cy="134.42" r="2.9" fill="#bfbab6" fill-opacity="0.3" stroke="#aca7a3" stroke-opacity="0.55" stroke-width="0.8"/>
<circle cx="1074.25" cy="157.52" r="2.9" fill="#bfbab6" fill-opacity="0.3" stroke="#aca7a3" stroke-opacity="0.55" stroke-width="0.8"/>
<circle cx="1157.97" cy="140.51" r="2.9" fill="#bfbab6" fill-opacity="0.3" stroke="#aca7a3" stroke-opacity="0.55" stroke-width="0.8"/>
<circle cx="1011.48" cy="113.47" r="2.9" fill="#bfbab6" fill-opacity="0.3" stroke="#aca7a3" stroke-opacity="0.55" stroke-width="0.8"/>
<circle cx="1015.39" cy="187.82" r="2.9" fill="#bfbab6" fill-opacity="0.3" stroke="#aca7a3" stroke-opacity="0.55" stroke-width="0.8"/>
<circle cx="1041.22" cy="203.09" r="2.9" fill="#bfbab6" fill-opacity="0.3" stroke="#aca7a3" stroke-opacity="0.55" stroke-width="0.8"/>
<circle cx="1103.36" cy="132.74" r="2.9" fill="#bfbab6" fill-opacity="0.3" stroke="#aca7a3" stroke-opacity="0.55" stroke-width="0.8"/>
<circle cx="1102.89" cy="152.93" r="2.9" fill="#bfbab6" fill-opacity="0.3" stroke="#aca7a3" stroke-opacity="0.55" stroke-width="0.8"/>
<circle cx="1008.29" cy="108.16" r="2.9" fill="#bfbab6" fill-opacity="0.3" stroke="#aca7a3" stroke-opacity="0.55" stroke-width="0.8"/>
<circle cx="1034.92" cy="65.58" r="2.9" fill="#bfbab6" fill-opacity="0.3" stroke="#aca7a3" stroke-opacity="0.55" stroke-width="0.8"/>
<circle cx="1078.16" cy="124.09" r="2.9" fill="#bfbab6" fill-opacity="0.3" stroke="#aca7a3" stroke-opacity="0.55" stroke-width="0.8"/>
<circle cx="1032.82" cy="70.80" r="2.9" fill="#bfbab6" fill-opacity="0.3" stroke="#aca7a3" stroke-opacity="0.55" stroke-width="0.8"/>
<circle cx="1018.59" cy="91.67" r="2.9" fill="#bfbab6" fill-opacity="0.3" stroke="#aca7a3" stroke-opacity="0.55" stroke-width="0.8"/>
<circle cx="1022.31" cy="198.52" r="2.9" fill="#bfbab6" fill-opacity="0.3" stroke="#aca7a3" stroke-opacity="0.55" stroke-width="0.8"/>
<circle cx="1113.09" cy="152.24" r="2.9" fill="#bfbab6" fill-opacity="0.3" stroke="#aca7a3" stroke-opacity="0.55" stroke-width="0.8"/>
<circle cx="1082.21" cy="123.84" r="2.9" fill="#bfbab6" fill-opacity="0.3" stroke="#aca7a3" stroke-opacity="0.55" stroke-width="0.8"/>
<circle cx="1090.61" cy="124.68" r="2.9" fill="#bfbab6" fill-opacity="0.3" stroke="#aca7a3" stroke-opacity="0.55" stroke-width="0.8"/>
<circle cx="1000.70" cy="142.48" r="2.9" fill="#bfbab6" fill-opacity="0.3" stroke="#aca7a3" stroke-opacity="0.55" stroke-width="0.8"/>
<circle cx="1140.44" cy="137.94" r="2.9" fill="#bfbab6" fill-opacity="0.3" stroke="#aca7a3" stroke-opacity="0.55" stroke-width="0.8"/>
<circle cx="1018.37" cy="91.06" r="2.9" fill="#bfbab6" fill-opacity="0.3" stroke="#aca7a3" stroke-opacity="0.55" stroke-width="0.8"/>
<circle cx="1079.19" cy="125.06" r="2.9" fill="#bfbab6" fill-opacity="0.3" stroke="#aca7a3" stroke-opacity="0.55" stroke-width="0.8"/>
<circle cx="1030.84" cy="63.75" r="2.9" fill="#bfbab6" fill-opacity="0.3" stroke="#aca7a3" stroke-opacity="0.55" stroke-width="0.8"/>
<circle cx="1001.88" cy="127.03" r="2.9" fill="#bfbab6" fill-opacity="0.3" stroke="#aca7a3" stroke-opacity="0.55" stroke-width="0.8"/>
<circle cx="1032.48" cy="73.43" r="2.9" fill="#bfbab6" fill-opacity="0.3" stroke="#aca7a3" stroke-opacity="0.55" stroke-width="0.8"/>
<circle cx="1148.90" cy="150.03" r="2.9" fill="#bfbab6" fill-opacity="0.3" stroke="#aca7a3" stroke-opacity="0.55" stroke-width="0.8"/>
<circle cx="1004.83" cy="149.52" r="2.9" fill="#bfbab6" fill-opacity="0.3" stroke="#aca7a3" stroke-opacity="0.55" stroke-width="0.8"/>
<circle cx="1026.80" cy="201.25" r="2.9" fill="#bfbab6" fill-opacity="0.3" stroke="#aca7a3" stroke-opacity="0.55" stroke-width="0.8"/>
<circle cx="1090.50" cy="130.77" r="2.9" fill="#bfbab6" fill-opacity="0.3" stroke="#aca7a3" stroke-opacity="0.55" stroke-width="0.8"/>
<circle cx="1036.41" cy="63.81" r="2.9" fill="#bfbab6" fill-opacity="0.3" stroke="#aca7a3" stroke-opacity="0.55" stroke-width="0.8"/>
<circle cx="1046.40" cy="195.24" r="2.9" fill="#bfbab6" fill-opacity="0.3" stroke="#aca7a3" stroke-opacity="0.55" stroke-width="0.8"/>
<circle cx="1074.05" cy="120.19" r="2.9" fill="#bfbab6" fill-opacity="0.3" stroke="#aca7a3" stroke-opacity="0.55" stroke-width="0.8"/>
<circle cx="999.71" cy="147.45" r="2.9" fill="#bfbab6" fill-opacity="0.3" stroke="#aca7a3" stroke-opacity="0.55" stroke-width="0.8"/>
<circle cx="1029.22" cy="206.69" r="2.9" fill="#bfbab6" fill-opacity="0.3" stroke="#aca7a3" stroke-opacity="0.55" stroke-width="0.8"/>
<circle cx="1052.89" cy="175.52" r="2.9" fill="#bfbab6" fill-opacity="0.3" stroke="#aca7a3" stroke-opacity="0.55" stroke-width="0.8"/>
<circle cx="1046.54" cy="75.62" r="2.9" fill="#bfbab6" fill-opacity="0.3" stroke="#aca7a3" stroke-opacity="0.55" stroke-width="0.8"/>
<circle cx="1005.93" cy="124.77" r="2.9" fill="#bfbab6" fill-opacity="0.3" stroke="#aca7a3" stroke-opacity="0.55" stroke-width="0.8"/>
<circle cx="1005.94" cy="125.31" r="2.9" fill="#bfbab6" fill-opacity="0.3" stroke="#aca7a3" stroke-opacity="0.55" stroke-width="0.8"/>
<circle cx="1075.07" cy="162.50" r="2.9" fill="#bfbab6" fill-opacity="0.3" stroke="#aca7a3" stroke-opacity="0.55" stroke-width="0.8"/>
<circle cx="1013.44" cy="158.57" r="2.9" fill="#bfbab6" fill-opacity="0.3" stroke="#aca7a3" stroke-opacity="0.55" stroke-width="0.8"/>
<circle cx="1002.36" cy="145.04" r="2.9" fill="#bfbab6" fill-opacity="0.3" stroke="#aca7a3" stroke-opacity="0.55" stroke-width="0.8"/>
<circle cx="1009.62" cy="160.46" r="2.9" fill="#bfbab6" fill-opacity="0.3" stroke="#aca7a3" stroke-opacity="0.55" stroke-width="0.8"/>
<circle cx="1050.48" cy="74.52" r="2.9" fill="#bfbab6" fill-opacity="0.3" stroke="#aca7a3" stroke-opacity="0.55" stroke-width="0.8"/>
<circle cx="1045.41" cy="60.20" r="2.9" fill="#bfbab6" fill-opacity="0.3" stroke="#aca7a3" stroke-opacity="0.55" stroke-width="0.8"/>
<circle cx="1012.74" cy="188.34" r="2.9" fill="#bfbab6" fill-opacity="0.3" stroke="#aca7a3" stroke-opacity="0.55" stroke-width="0.8"/>
<circle cx="1037.58" cy="205.61" r="2.9" fill="#bfbab6" fill-opacity="0.3" stroke="#aca7a3" stroke-opacity="0.55" stroke-width="0.8"/>
<circle cx="1046.49" cy="206.16" r="2.9" fill="#bfbab6" fill-opacity="0.3" stroke="#aca7a3" stroke-opacity="0.55" stroke-width="0.8"/>
<circle cx="1016.52" cy="100.17" r="2.9" fill="#bfbab6" fill-opacity="0.3" stroke="#aca7a3" stroke-opacity="0.55" stroke-width="0.8"/>
<circle cx="1044.19" cy="196.24" r="2.9" fill="#bfbab6" fill-opacity="0.3" stroke="#aca7a3" stroke-opacity="0.55" stroke-width="0.8"/>
<circle cx="1053.17" cy="181.56" r="2.9" fill="#bfbab6" fill-opacity="0.3" stroke="#aca7a3" stroke-opacity="0.55" stroke-width="0.8"/>
<circle cx="1048.19" cy="201.13" r="2.9" fill="#bfbab6" fill-opacity="0.3" stroke="#aca7a3" stroke-opacity="0.55" stroke-width="0.8"/>
<circle cx="1076.12" cy="120.19" r="2.9" fill="#bfbab6" fill-opacity="0.3" stroke="#aca7a3" stroke-opacity="0.55" stroke-width="0.8"/>
<circle cx="1104.05" cy="137.47" r="2.9" fill="#bfbab6" fill-opacity="0.3" stroke="#aca7a3" stroke-opacity="0.55" stroke-width="0.8"/>
<circle cx="1108.99" cy="128.61" r="2.9" fill="#bfbab6" fill-opacity="0.3" stroke="#aca7a3" stroke-opacity="0.55" stroke-width="0.8"/>
<circle cx="1038.86" cy="63.75" r="2.9" fill="#bfbab6" fill-opacity="0.3" stroke="#aca7a3" stroke-opacity="0.55" stroke-width="0.8"/>
<circle cx="1023.33" cy="79.02" r="2.9" fill="#bfbab6" fill-opacity="0.3" stroke="#aca7a3" stroke-opacity="0.55" stroke-width="0.8"/>
<circle cx="1049.30" cy="211.01" r="2.9" fill="#bfbab6" fill-opacity="0.3" stroke="#aca7a3" stroke-opacity="0.55" stroke-width="0.8"/>
<circle cx="1028.40" cy="71.14" r="2.9" fill="#bfbab6" fill-opacity="0.3" stroke="#aca7a3" stroke-opacity="0.55" stroke-width="0.8"/>
<circle cx="1089.88" cy="149.45" r="2.9" fill="#bfbab6" fill-opacity="0.3" stroke="#aca7a3" stroke-opacity="0.55" stroke-width="0.8"/>
<circle cx="1082.53" cy="127.31" r="2.9" fill="#bfbab6" fill-opacity="0.3" stroke="#aca7a3" stroke-opacity="0.55" stroke-width="0.8"/>
<circle cx="1005.27" cy="131.90" r="2.9" fill="#bfbab6" fill-opacity="0.3" stroke="#aca7a3" stroke-opacity="0.55" stroke-width="0.8"/>
<circle cx="1008.28" cy="152.62" r="2.9" fill="#bfbab6" fill-opacity="0.3" stroke="#aca7a3" stroke-opacity="0.55" stroke-width="0.8"/>
<circle cx="1013.99" cy="170.43" r="2.9" fill="#bfbab6" fill-opacity="0.3" stroke="#aca7a3" stroke-opacity="0.55" stroke-width="0.8"/>
<circle cx="1124.75" cy="131.54" r="2.9" fill="#bfbab6" fill-opacity="0.3" stroke="#aca7a3" stroke-opacity="0.55" stroke-width="0.8"/>
<circle cx="1043.19" cy="68.34" r="2.9" fill="#bfbab6" fill-opacity="0.3" stroke="#aca7a3" stroke-opacity="0.55" stroke-width="0.8"/>
<circle cx="1052.63" cy="87.23" r="2.9" fill="#bfbab6" fill-opacity="0.3" stroke="#aca7a3" stroke-opacity="0.55" stroke-width="0.8"/>
<circle cx="1127.04" cy="151.35" r="2.9" fill="#bfbab6" fill-opacity="0.3" stroke="#aca7a3" stroke-opacity="0.55" stroke-width="0.8"/>
<circle cx="1053.37" cy="91.03" r="2.9" fill="#bfbab6" fill-opacity="0.3" stroke="#aca7a3" stroke-opacity="0.55" stroke-width="0.8"/>
<circle cx="1014.18" cy="182.76" r="2.9" fill="#bfbab6" fill-opacity="0.3" stroke="#aca7a3" stroke-opacity="0.55" stroke-width="0.8"/>
<circle cx="1083.37" cy="129.93" r="2.9" fill="#bfbab6" fill-opacity="0.3" stroke="#aca7a3" stroke-opacity="0.55" stroke-width="0.8"/>
<circle cx="1014.81" cy="185.58" r="2.9" fill="#bfbab6" fill-opacity="0.3" stroke="#aca7a3" stroke-opacity="0.55" stroke-width="0.8"/>
<circle cx="1118.05" cy="131.63" r="2.9" fill="#bfbab6" fill-opacity="0.3" stroke="#aca7a3" stroke-opacity="0.55" stroke-width="0.8"/>
<circle cx="1153.96" cy="144.35" r="2.9" fill="#bfbab6" fill-opacity="0.3" stroke="#aca7a3" stroke-opacity="0.55" stroke-width="0.8"/>
<circle cx="1159.43" cy="147.69" r="2.9" fill="#bfbab6" fill-opacity="0.3" stroke="#aca7a3" stroke-opacity="0.55" stroke-width="0.8"/>
<circle cx="1041.54" cy="58.18" r="2.9" fill="#bfbab6" fill-opacity="0.3" stroke="#aca7a3" stroke-opacity="0.55" stroke-width="0.8"/>
<circle cx="1004.07" cy="137.06" r="2.9" fill="#bfbab6" fill-opacity="0.3" stroke="#aca7a3" stroke-opacity="0.55" stroke-width="0.8"/>
<circle cx="1143.96" cy="138.95" r="2.9" fill="#bfbab6" fill-opacity="0.3" stroke="#aca7a3" stroke-opacity="0.55" stroke-width="0.8"/>
<circle cx="1058.62" cy="170.19" r="2.9" fill="#bfbab6" fill-opacity="0.3" stroke="#aca7a3" stroke-opacity="0.55" stroke-width="0.8"/>
<circle cx="1158.54" cy="143.12" r="2.9" fill="#bfbab6" fill-opacity="0.3" stroke="#aca7a3" stroke-opacity="0.55" stroke-width="0.8"/>
<circle cx="1142.36" cy="147.73" r="2.9" fill="#bfbab6" fill-opacity="0.3" stroke="#aca7a3" stroke-opacity="0.55" stroke-width="0.8"/>
<circle cx="1139.73" cy="146.47" r="2.9" fill="#bfbab6" fill-opacity="0.3" stroke="#aca7a3" stroke-opacity="0.55" stroke-width="0.8"/>
<circle cx="1051.76" cy="85.77" r="2.9" fill="#bfbab6" fill-opacity="0.3" stroke="#aca7a3" stroke-opacity="0.55" stroke-width="0.8"/>
<circle cx="1162.76" cy="138.75" r="2.9" fill="#bfbab6" fill-opacity="0.3" stroke="#aca7a3" stroke-opacity="0.55" stroke-width="0.8"/>
<circle cx="1139.23" cy="148.23" r="2.9" fill="#bfbab6" fill-opacity="0.3" stroke="#aca7a3" stroke-opacity="0.55" stroke-width="0.8"/>
<circle cx="1128.58" cy="141.09" r="2.9" fill="#bfbab6" fill-opacity="0.3" stroke="#aca7a3" stroke-opacity="0.55" stroke-width="0.8"/>
<circle cx="1113.33" cy="147.56" r="2.9" fill="#bfbab6" fill-opacity="0.3" stroke="#aca7a3" stroke-opacity="0.55" stroke-width="0.8"/>
<circle cx="1074.16" cy="160.44" r="2.9" fill="#bfbab6" fill-opacity="0.3" stroke="#aca7a3" stroke-opacity="0.55" stroke-width="0.8"/>
<circle cx="1133.39" cy="139.19" r="2.9" fill="#bfbab6" fill-opacity="0.3" stroke="#aca7a3" stroke-opacity="0.55" stroke-width="0.8"/>
<circle cx="1010.87" cy="167.19" r="2.9" fill="#bfbab6" fill-opacity="0.3" stroke="#aca7a3" stroke-opacity="0.55" stroke-width="0.8"/>
<circle cx="1073.94" cy="165.66" r="2.9" fill="#bfbab6" fill-opacity="0.3" stroke="#aca7a3" stroke-opacity="0.55" stroke-width="0.8"/>
<circle cx="1050.28" cy="92.41" r="2.9" fill="#bfbab6" fill-opacity="0.3" stroke="#aca7a3" stroke-opacity="0.55" stroke-width="0.8"/>
<circle cx="1140.91" cy="152.69" r="2.9" fill="#bfbab6" fill-opacity="0.3" stroke="#aca7a3" stroke-opacity="0.55" stroke-width="0.8"/>
<circle cx="1030.65" cy="77.93" r="2.9" fill="#bfbab6" fill-opacity="0.3" stroke="#aca7a3" stroke-opacity="0.55" stroke-width="0.8"/>
<circle cx="1025.08" cy="84.04" r="2.9" fill="#bfbab6" fill-opacity="0.3" stroke="#aca7a3" stroke-opacity="0.55" stroke-width="0.8"/>
<circle cx="1051.39" cy="81.52" r="2.9" fill="#bfbab6" fill-opacity="0.3" stroke="#aca7a3" stroke-opacity="0.55" stroke-width="0.8"/>
<circle cx="1013.82" cy="104.09" r="2.9" fill="#bfbab6" fill-opacity="0.3" stroke="#aca7a3" stroke-opacity="0.55" stroke-width="0.8"/>
<circle cx="1020.66" cy="186.21" r="2.9" fill="#bfbab6" fill-opacity="0.3" stroke="#aca7a3" stroke-opacity="0.55" stroke-width="0.8"/>
<circle cx="1034.39" cy="69.85" r="2.9" fill="#bfbab6" fill-opacity="0.3" stroke="#aca7a3" stroke-opacity="0.55" stroke-width="0.8"/>
<circle cx="1034.03" cy="76.56" r="2.9" fill="#bfbab6" fill-opacity="0.3" stroke="#aca7a3" stroke-opacity="0.55" stroke-width="0.8"/>
<circle cx="1018.90" cy="195.54" r="2.9" fill="#bfbab6" fill-opacity="0.3" stroke="#aca7a3" stroke-opacity="0.55" stroke-width="0.8"/>
<circle cx="1009.09" cy="161.92" r="2.9" fill="#bfbab6" fill-opacity="0.3" stroke="#aca7a3" stroke-opacity="0.55" stroke-width="0.8"/>
<circle cx="1105.24" cy="137.74" r="2.9" fill="#bfbab6" fill-opacity="0.3" stroke="#aca7a3" stroke-opacity="0.55" stroke-width="0.8"/>
<circle cx="1038.14" cy="211.86" r="2.9" fill="#bfbab6" fill-opacity="0.3" stroke="#aca7a3" stroke-opacity="0.55" stroke-width="0.8"/>
<circle cx="1038.05" cy="67.86" r="2.9" fill="#bfbab6" fill-opacity="0.3" stroke="#aca7a3" stroke-opacity="0.55" stroke-width="0.8"/>
<circle cx="1078.19" cy="122.66" r="2.9" fill="#bfbab6" fill-opacity="0.3" stroke="#aca7a3" stroke-opacity="0.55" stroke-width="0.8"/>
<circle cx="1042.45" cy="60.79" r="2.9" fill="#bfbab6" fill-opacity="0.3" stroke="#aca7a3" stroke-opacity="0.55" stroke-width="0.8"/>
<circle cx="1000.88" cy="129.05" r="2.9" fill="#bfbab6" fill-opacity="0.3" stroke="#aca7a3" stroke-opacity="0.55" stroke-width="0.8"/>
<circle cx="1142.96" cy="146.87" r="2.9" fill="#bfbab6" fill-opacity="0.3" stroke="#aca7a3" stroke-opacity="0.55" stroke-width="0.8"/>
<circle cx="1074.22" cy="121.32" r="2.9" fill="#bfbab6" fill-opacity="0.3" stroke="#aca7a3" stroke-opacity="0.55" stroke-width="0.8"/>
<circle cx="1107.88" cy="150.55" r="2.9" fill="#bfbab6" fill-opacity="0.3" stroke="#aca7a3" stroke-opacity="0.55" stroke-width="0.8"/>
<circle cx="1004.66" cy="146.13" r="2.9" fill="#bfbab6" fill-opacity="0.3" stroke="#aca7a3" stroke-opacity="0.55" stroke-width="0.8"/>
<circle cx="1049.32" cy="201.16" r="2.9" fill="#bfbab6" fill-opacity="0.3" stroke="#aca7a3" stroke-opacity="0.55" stroke-width="0.8"/>
<circle cx="1055.53" cy="93.54" r="2.9" fill="#bfbab6" fill-opacity="0.3" stroke="#aca7a3" stroke-opacity="0.55" stroke-width="0.8"/>
<circle cx="1006.29" cy="119.51" r="2.9" fill="#bfbab6" fill-opacity="0.3" stroke="#aca7a3" stroke-opacity="0.55" stroke-width="0.8"/>
<circle cx="1028.54" cy="81.71" r="2.9" fill="#bfbab6" fill-opacity="0.3" stroke="#aca7a3" stroke-opacity="0.55" stroke-width="0.8"/>
<circle cx="1119.02" cy="130.19" r="2.9" fill="#bfbab6" fill-opacity="0.3" stroke="#aca7a3" stroke-opacity="0.55" stroke-width="0.8"/>
<circle cx="1051.90" cy="91.22" r="2.9" fill="#bfbab6" fill-opacity="0.3" stroke="#aca7a3" stroke-opacity="0.55" stroke-width="0.8"/>
<circle cx="1029.60" cy="70.06" r="2.9" fill="#bfbab6" fill-opacity="0.3" stroke="#aca7a3" stroke-opacity="0.55" stroke-width="0.8"/>
<circle cx="1069.11" cy="161.20" r="2.9" fill="#bfbab6" fill-opacity="0.3" stroke="#aca7a3" stroke-opacity="0.55" stroke-width="0.8"/>
<circle cx="1011.61" cy="94.31" r="2.9" fill="#bfbab6" fill-opacity="0.3" stroke="#aca7a3" stroke-opacity="0.55" stroke-width="0.8"/>
<circle cx="1120.27" cy="133.22" r="2.9" fill="#bfbab6" fill-opacity="0.3" stroke="#aca7a3" stroke-opacity="0.55" stroke-width="0.8"/>
<circle cx="1007.92" cy="102.69" r="2.9" fill="#bfbab6" fill-opacity="0.3" stroke="#aca7a3" stroke-opacity="0.55" stroke-width="0.8"/>
<circle cx="1044.23" cy="206.34" r="2.9" fill="#bfbab6" fill-opacity="0.3" stroke="#aca7a3" stroke-opacity="0.55" stroke-width="0.8"/>
<circle cx="1012.92" cy="98.54" r="2.9" fill="#bfbab6" fill-opacity="0.3" stroke="#aca7a3" stroke-opacity="0.55" stroke-width="0.8"/>
<circle cx="1027.07" cy="201.36" r="2.9" fill="#bfbab6" fill-opacity="0.3" stroke="#aca7a3" stroke-opacity="0.55" stroke-width="0.8"/>
<circle cx="1134.23" cy="138.03" r="2.9" fill="#bfbab6" fill-opacity="0.3" stroke="#aca7a3" stroke-opacity="0.55" stroke-width="0.8"/>
<circle cx="1009.48" cy="175.41" r="2.9" fill="#bfbab6" fill-opacity="0.3" stroke="#aca7a3" stroke-opacity="0.55" stroke-width="0.8"/>
<circle cx="1058.37" cy="93.63" r="2.9" fill="#bfbab6" fill-opacity="0.3" stroke="#aca7a3" stroke-opacity="0.55" stroke-width="0.8"/>
<circle cx="1053.09" cy="79.86" r="2.9" fill="#bfbab6" fill-opacity="0.3" stroke="#aca7a3" stroke-opacity="0.55" stroke-width="0.8"/>
<circle cx="1020.21" cy="87.87" r="2.9" fill="#bfbab6" fill-opacity="0.3" stroke="#aca7a3" stroke-opacity="0.55" stroke-width="0.8"/>
<circle cx="1045.98" cy="62.71" r="2.9" fill="#bfbab6" fill-opacity="0.3" stroke="#aca7a3" stroke-opacity="0.55" stroke-width="0.8"/>
<circle cx="1066.06" cy="115.51" r="2.9" fill="#bfbab6" fill-opacity="0.3" stroke="#aca7a3" stroke-opacity="0.55" stroke-width="0.8"/>
<circle cx="1065.12" cy="102.66" r="2.9" fill="#bfbab6" fill-opacity="0.3" stroke="#aca7a3" stroke-opacity="0.55" stroke-width="0.8"/>
<circle cx="1157.66" cy="138.32" r="2.9" fill="#bfbab6" fill-opacity="0.3" stroke="#aca7a3" stroke-opacity="0.55" stroke-width="0.8"/>
<circle cx="1002.59" cy="129.80" r="2.9" fill="#bfbab6" fill-opacity="0.3" stroke="#aca7a3" stroke-opacity="0.55" stroke-width="0.8"/>
<circle cx="1057.08" cy="84.67" r="2.9" fill="#bfbab6" fill-opacity="0.3" stroke="#aca7a3" stroke-opacity="0.55" stroke-width="0.8"/>
<circle cx="1144.58" cy="147.61" r="2.9" fill="#bfbab6" fill-opacity="0.3" stroke="#aca7a3" stroke-opacity="0.55" stroke-width="0.8"/>
<circle cx="1040.56" cy="63.61" r="2.9" fill="#bfbab6" fill-opacity="0.3" stroke="#aca7a3" stroke-opacity="0.55" stroke-width="0.8"/>
<circle cx="1018.82" cy="88.85" r="2.9" fill="#bfbab6" fill-opacity="0.3" stroke="#aca7a3" stroke-opacity="0.55" stroke-width="0.8"/>
<circle cx="1038.95" cy="212.50" r="2.9" fill="#bfbab6" fill-opacity="0.3" stroke="#aca7a3" stroke-opacity="0.55" stroke-width="0.8"/>
<circle cx="1036.84" cy="211.71" r="2.9" fill="#bfbab6" fill-opacity="0.3" stroke="#aca7a3" stroke-opacity="0.55" stroke-width="0.8"/>
<circle cx="1102.98" cy="135.95" r="2.9" fill="#bfbab6" fill-opacity="0.3" stroke="#aca7a3" stroke-opacity="0.55" stroke-width="0.8"/>
<circle cx="1005.08" cy="147.40" r="2.9" fill="#bfbab6" fill-opacity="0.3" stroke="#aca7a3" stroke-opacity="0.55" stroke-width="0.8"/>
<circle cx="1080.15" cy="122.58" r="2.9" fill="#bfbab6" fill-opacity="0.3" stroke="#aca7a3" stroke-opacity="0.55" stroke-width="0.8"/>
<circle cx="1101.52" cy="148.47" r="2.9" fill="#bfbab6" fill-opacity="0.3" stroke="#aca7a3" stroke-opacity="0.55" stroke-width="0.8"/>
<circle cx="1109.53" cy="133.65" r="2.9" fill="#bfbab6" fill-opacity="0.3" stroke="#aca7a3" stroke-opacity="0.55" stroke-width="0.8"/>
<circle cx="1026.36" cy="79.72" r="2.9" fill="#bfbab6" fill-opacity="0.3" stroke="#aca7a3" stroke-opacity="0.55" stroke-width="0.8"/>
<circle cx="1011.31" cy="104.60" r="2.9" fill="#bfbab6" fill-opacity="0.3" stroke="#aca7a3" stroke-opacity="0.55" stroke-width="0.8"/>
<circle cx="1037.70" cy="66.62" r="2.9" fill="#bfbab6" fill-opacity="0.3" stroke="#aca7a3" stroke-opacity="0.55" stroke-width="0.8"/>
<circle cx="1011.06" cy="96.93" r="2.9" fill="#bfbab6" fill-opacity="0.3" stroke="#aca7a3" stroke-opacity="0.55" stroke-width="0.8"/>
<circle cx="1083.59" cy="151.90" r="2.9" fill="#bfbab6" fill-opacity="0.3" stroke="#aca7a3" stroke-opacity="0.55" stroke-width="0.8"/>
<circle cx="1059.44" cy="100.97" r="2.9" fill="#bfbab6" fill-opacity="0.3" stroke="#aca7a3" stroke-opacity="0.55" stroke-width="0.8"/>
<circle cx="1137.51" cy="134.12" r="2.9" fill="#bfbab6" fill-opacity="0.3" stroke="#aca7a3" stroke-opacity="0.55" stroke-width="0.8"/>
<circle cx="1036.20" cy="69.09" r="2.9" fill="#bfbab6" fill-opacity="0.3" stroke="#aca7a3" stroke-opacity="0.55" stroke-width="0.8"/>
<circle cx="1006.73" cy="157.74" r="2.9" fill="#bfbab6" fill-opacity="0.3" stroke="#aca7a3" stroke-opacity="0.55" stroke-width="0.8"/>
<circle cx="1008.06" cy="151.77" r="2.9" fill="#bfbab6" fill-opacity="0.3" stroke="#aca7a3" stroke-opacity="0.55" stroke-width="0.8"/>
<circle cx="1007.56" cy="155.52" r="2.9" fill="#bfbab6" fill-opacity="0.3" stroke="#aca7a3" stroke-opacity="0.55" stroke-width="0.8"/>
<circle cx="1066.29" cy="113.56" r="2.9" fill="#bfbab6" fill-opacity="0.3" stroke="#aca7a3" stroke-opacity="0.55" stroke-width="0.8"/>
<circle cx="1098.33" cy="130.38" r="2.9" fill="#bfbab6" fill-opacity="0.3" stroke="#aca7a3" stroke-opacity="0.55" stroke-width="0.8"/>
<circle cx="1144.50" cy="139.27" r="2.9" fill="#bfbab6" fill-opacity="0.3" stroke="#aca7a3" stroke-opacity="0.55" stroke-width="0.8"/>
<circle cx="1158.09" cy="140.57" r="2.9" fill="#bfbab6" fill-opacity="0.3" stroke="#aca7a3" stroke-opacity="0.55" stroke-width="0.8"/>
<circle cx="1004.72" cy="136.58" r="2.9" fill="#bfbab6" fill-opacity="0.3" stroke="#aca7a3" stroke-opacity="0.55" stroke-width="0.8"/>
<circle cx="1107.38" cy="131.35" r="2.9" fill="#bfbab6" fill-opacity="0.3" stroke="#aca7a3" stroke-opacity="0.55" stroke-width="0.8"/>
<circle cx="1004.72" cy="117.94" r="2.9" fill="#bfbab6" fill-opacity="0.3" stroke="#aca7a3" stroke-opacity="0.55" stroke-width="0.8"/>
<circle cx="1050.23" cy="77.74" r="2.9" fill="#bfbab6" fill-opacity="0.3" stroke="#aca7a3" stroke-opacity="0.55" stroke-width="0.8"/>
<circle cx="1126.70" cy="144.76" r="2.9" fill="#bfbab6" fill-opacity="0.3" stroke="#aca7a3" stroke-opacity="0.55" stroke-width="0.8"/>
<circle cx="1090.94" cy="153.98" r="2.9" fill="#bfbab6" fill-opacity="0.3" stroke="#aca7a3" stroke-opacity="0.55" stroke-width="0.8"/>
<circle cx="1065.80" cy="169.28" r="2.9" fill="#bfbab6" fill-opacity="0.3" stroke="#aca7a3" stroke-opacity="0.55" stroke-width="0.8"/>
<circle cx="1070.81" cy="120.85" r="2.9" fill="#bfbab6" fill-opacity="0.3" stroke="#aca7a3" stroke-opacity="0.55" stroke-width="0.8"/>
<circle cx="1002.05" cy="146.97" r="2.9" fill="#bfbab6" fill-opacity="0.3" stroke="#aca7a3" stroke-opacity="0.55" stroke-width="0.8"/>
<circle cx="1099.09" cy="156.44" r="2.9" fill="#bfbab6" fill-opacity="0.3" stroke="#aca7a3" stroke-opacity="0.55" stroke-width="0.8"/>
<circle cx="1004.40" cy="116.73" r="2.9" fill="#bfbab6" fill-opacity="0.3" stroke="#aca7a3" stroke-opacity="0.55" stroke-width="0.8"/>
<circle cx="1105.70" cy="146.71" r="2.9" fill="#bfbab6" fill-opacity="0.3" stroke="#aca7a3" stroke-opacity="0.55" stroke-width="0.8"/>
<circle cx="1059.12" cy="175.42" r="2.9" fill="#bfbab6" fill-opacity="0.3" stroke="#aca7a3" stroke-opacity="0.55" stroke-width="0.8"/>
<circle cx="1156.22" cy="144.66" r="2.9" fill="#bfbab6" fill-opacity="0.3" stroke="#aca7a3" stroke-opacity="0.55" stroke-width="0.8"/>
<circle cx="1160.01" cy="138.79" r="2.9" fill="#bfbab6" fill-opacity="0.3" stroke="#aca7a3" stroke-opacity="0.55" stroke-width="0.8"/>
<circle cx="1043.66" cy="209.83" r="2.9" fill="#bfbab6" fill-opacity="0.3" stroke="#aca7a3" stroke-opacity="0.55" stroke-width="0.8"/>
<circle cx="1128.38" cy="152.52" r="2.9" fill="#bfbab6" fill-opacity="0.3" stroke="#aca7a3" stroke-opacity="0.55" stroke-width="0.8"/>
<circle cx="1072.97" cy="158.18" r="2.9" fill="#bfbab6" fill-opacity="0.3" stroke="#aca7a3" stroke-opacity="0.55" stroke-width="0.8"/>
<circle cx="1050.90" cy="76.03" r="2.9" fill="#bfbab6" fill-opacity="0.3" stroke="#aca7a3" stroke-opacity="0.55" stroke-width="0.8"/>
<circle cx="1088.00" cy="127.54" r="2.9" fill="#bfbab6" fill-opacity="0.3" stroke="#aca7a3" stroke-opacity="0.55" stroke-width="0.8"/>
<circle cx="1017.77" cy="88.94" r="2.9" fill="#bfbab6" fill-opacity="0.3" stroke="#aca7a3" stroke-opacity="0.55" stroke-width="0.8"/>
<circle cx="1105.72" cy="148.73" r="2.9" fill="#bfbab6" fill-opacity="0.3" stroke="#aca7a3" stroke-opacity="0.55" stroke-width="0.8"/>
<circle cx="1106.69" cy="150.33" r="2.9" fill="#bfbab6" fill-opacity="0.3" stroke="#aca7a3" stroke-opacity="0.55" stroke-width="0.8"/>
<circle cx="1007.51" cy="137.53" r="2.9" fill="#bfbab6" fill-opacity="0.3" stroke="#aca7a3" stroke-opacity="0.55" stroke-width="0.8"/>
<circle cx="1046.33" cy="205.04" r="2.9" fill="#bfbab6" fill-opacity="0.3" stroke="#aca7a3" stroke-opacity="0.55" stroke-width="0.8"/>
<circle cx="1152.06" cy="142.89" r="2.9" fill="#bfbab6" fill-opacity="0.3" stroke="#aca7a3" stroke-opacity="0.55" stroke-width="0.8"/>
<circle cx="1091.38" cy="159.08" r="2.9" fill="#bfbab6" fill-opacity="0.3" stroke="#aca7a3" stroke-opacity="0.55" stroke-width="0.8"/>
<circle cx="1054.92" cy="86.50" r="2.9" fill="#bfbab6" fill-opacity="0.3" stroke="#aca7a3" stroke-opacity="0.55" stroke-width="0.8"/>
<circle cx="1012.16" cy="102.89" r="2.9" fill="#bfbab6" fill-opacity="0.3" stroke="#aca7a3" stroke-opacity="0.55" stroke-width="0.8"/>
<circle cx="1050.10" cy="63.03" r="2.9" fill="#bfbab6" fill-opacity="0.3" stroke="#aca7a3" stroke-opacity="0.55" stroke-width="0.8"/>
<circle cx="1060.02" cy="179.33" r="2.9" fill="#bfbab6" fill-opacity="0.3" stroke="#aca7a3" stroke-opacity="0.55" stroke-width="0.8"/>
<circle cx="1098.66" cy="131.07" r="2.9" fill="#bfbab6" fill-opacity="0.3" stroke="#aca7a3" stroke-opacity="0.55" stroke-width="0.8"/>
<circle cx="1146.67" cy="139.68" r="2.9" fill="#bfbab6" fill-opacity="0.3" stroke="#aca7a3" stroke-opacity="0.55" stroke-width="0.8"/>
<circle cx="1110.98" cy="146.81" r="2.9" fill="#bfbab6" fill-opacity="0.3" stroke="#aca7a3" stroke-opacity="0.55" stroke-width="0.8"/>
<circle cx="1098.74" cy="154.23" r="2.9" fill="#bfbab6" fill-opacity="0.3" stroke="#aca7a3" stroke-opacity="0.55" stroke-width="0.8"/>
<circle cx="1054.23" cy="87.73" r="2.9" fill="#bfbab6" fill-opacity="0.3" stroke="#aca7a3" stroke-opacity="0.55" stroke-width="0.8"/>
<circle cx="1055.29" cy="178.73" r="2.9" fill="#bfbab6" fill-opacity="0.3" stroke="#aca7a3" stroke-opacity="0.55" stroke-width="0.8"/>
<circle cx="1001.37" cy="132.62" r="2.9" fill="#bfbab6" fill-opacity="0.3" stroke="#aca7a3" stroke-opacity="0.55" stroke-width="0.8"/>
<circle cx="1010.21" cy="109.57" r="2.9" fill="#bfbab6" fill-opacity="0.3" stroke="#aca7a3" stroke-opacity="0.55" stroke-width="0.8"/>
<circle cx="1075.95" cy="164.32" r="2.9" fill="#bfbab6" fill-opacity="0.3" stroke="#aca7a3" stroke-opacity="0.55" stroke-width="0.8"/>
<circle cx="1081.92" cy="156.66" r="2.9" fill="#bfbab6" fill-opacity="0.3" stroke="#aca7a3" stroke-opacity="0.55" stroke-width="0.8"/>
<circle cx="1140.22" cy="133.45" r="2.9" fill="#bfbab6" fill-opacity="0.3" stroke="#aca7a3" stroke-opacity="0.55" stroke-width="0.8"/>
<circle cx="1141.17" cy="132.44" r="2.9" fill="#bfbab6" fill-opacity="0.3" stroke="#aca7a3" stroke-opacity="0.55" stroke-width="0.8"/>
<circle cx="1048.58" cy="60.38" r="2.9" fill="#bfbab6" fill-opacity="0.3" stroke="#aca7a3" stroke-opacity="0.55" stroke-width="0.8"/>
<circle cx="1004.97" cy="149.68" r="2.9" fill="#bfbab6" fill-opacity="0.3" stroke="#aca7a3" stroke-opacity="0.55" stroke-width="0.8"/>
<circle cx="1137.01" cy="136.61" r="2.9" fill="#bfbab6" fill-opacity="0.3" stroke="#aca7a3" stroke-opacity="0.55" stroke-width="0.8"/>
<circle cx="1043.65" cy="216.22" r="2.9" fill="#bfbab6" fill-opacity="0.3" stroke="#aca7a3" stroke-opacity="0.55" stroke-width="0.8"/>
<circle cx="1055.77" cy="95.12" r="2.9" fill="#bfbab6" fill-opacity="0.3" stroke="#aca7a3" stroke-opacity="0.55" stroke-width="0.8"/>
<circle cx="1048.38" cy="66.19" r="2.9" fill="#bfbab6" fill-opacity="0.3" stroke="#aca7a3" stroke-opacity="0.55" stroke-width="0.8"/>
<circle cx="1129.22" cy="148.43" r="2.9" fill="#bfbab6" fill-opacity="0.3" stroke="#aca7a3" stroke-opacity="0.55" stroke-width="0.8"/>
<circle cx="1034.96" cy="77.88" r="2.9" fill="#bfbab6" fill-opacity="0.3" stroke="#aca7a3" stroke-opacity="0.55" stroke-width="0.8"/>
<circle cx="1028.73" cy="79.43" r="2.9" fill="#bfbab6" fill-opacity="0.3" stroke="#aca7a3" stroke-opacity="0.55" stroke-width="0.8"/>
<circle cx="1036.49" cy="211.64" r="2.9" fill="#bfbab6" fill-opacity="0.3" stroke="#aca7a3" stroke-opacity="0.55" stroke-width="0.8"/>
<circle cx="1068.98" cy="163.26" r="2.9" fill="#bfbab6" fill-opacity="0.3" stroke="#aca7a3" stroke-opacity="0.55" stroke-width="0.8"/>
<circle cx="1052.18" cy="76.41" r="2.9" fill="#bfbab6" fill-opacity="0.3" stroke="#aca7a3" stroke-opacity="0.55" stroke-width="0.8"/>
<circle cx="1007.16" cy="127.13" r="2.9" fill="#bfbab6" fill-opacity="0.3" stroke="#aca7a3" stroke-opacity="0.55" stroke-width="0.8"/>
<circle cx="1007.64" cy="137.40" r="2.9" fill="#bfbab6" fill-opacity="0.3" stroke="#aca7a3" stroke-opacity="0.55" stroke-width="0.8"/>
<circle cx="1064.00" cy="109.99" r="2.9" fill="#bfbab6" fill-opacity="0.3" stroke="#aca7a3" stroke-opacity="0.55" stroke-width="0.8"/>
<circle cx="1031.17" cy="76.12" r="2.9" fill="#bfbab6" fill-opacity="0.3" stroke="#aca7a3" stroke-opacity="0.55" stroke-width="0.8"/>
<circle cx="1034.14" cy="210.61" r="2.9" fill="#bfbab6" fill-opacity="0.3" stroke="#aca7a3" stroke-opacity="0.55" stroke-width="0.8"/>
<circle cx="1004.51" cy="138.19" r="2.9" fill="#bfbab6" fill-opacity="0.3" stroke="#aca7a3" stroke-opacity="0.55" stroke-width="0.8"/>
<circle cx="1027.90" cy="87.43" r="2.9" fill="#bfbab6" fill-opacity="0.3" stroke="#aca7a3" stroke-opacity="0.55" stroke-width="0.8"/>
<circle cx="1013.72" cy="174.23" r="2.9" fill="#bfbab6" fill-opacity="0.3" stroke="#aca7a3" stroke-opacity="0.55" stroke-width="0.8"/>
<circle cx="1056.20" cy="107.05" r="2.9" fill="#bfbab6" fill-opacity="0.3" stroke="#aca7a3" stroke-opacity="0.55" stroke-width="0.8"/>
<circle cx="1092.44" cy="134.76" r="2.9" fill="#bfbab6" fill-opacity="0.3" stroke="#aca7a3" stroke-opacity="0.55" stroke-width="0.8"/>
<circle cx="1126.17" cy="155.88" r="2.9" fill="#bfbab6" fill-opacity="0.3" stroke="#aca7a3" stroke-opacity="0.55" stroke-width="0.8"/>
<circle cx="1087.19" cy="129.70" r="2.9" fill="#bfbab6" fill-opacity="0.3" stroke="#aca7a3" stroke-opacity="0.55" stroke-width="0.8"/>
<circle cx="1007.00" cy="115.15" r="2.9" fill="#bfbab6" fill-opacity="0.3" stroke="#aca7a3" stroke-opacity="0.55" stroke-width="0.8"/>
<circle cx="1017.38" cy="90.65" r="2.9" fill="#bfbab6" fill-opacity="0.3" stroke="#aca7a3" stroke-opacity="0.55" stroke-width="0.8"/>
<circle cx="1012.96" cy="169.70" r="2.9" fill="#bfbab6" fill-opacity="0.3" stroke="#aca7a3" stroke-opacity="0.55" stroke-width="0.8"/>
<circle cx="1052.36" cy="85.97" r="2.9" fill="#bfbab6" fill-opacity="0.3" stroke="#aca7a3" stroke-opacity="0.55" stroke-width="0.8"/>
<circle cx="1044.69" cy="55.80" r="2.9" fill="#bfbab6" fill-opacity="0.3" stroke="#aca7a3" stroke-opacity="0.55" stroke-width="0.8"/>
<circle cx="1095.51" cy="124.08" r="2.9" fill="#bfbab6" fill-opacity="0.3" stroke="#aca7a3" stroke-opacity="0.55" stroke-width="0.8"/>
<circle cx="1042.06" cy="210.35" r="2.9" fill="#bfbab6" fill-opacity="0.3" stroke="#aca7a3" stroke-opacity="0.55" stroke-width="0.8"/>
<circle cx="1105.17" cy="157.62" r="2.9" fill="#bfbab6" fill-opacity="0.3" stroke="#aca7a3" stroke-opacity="0.55" stroke-width="0.8"/>
<circle cx="1145.01" cy="143.64" r="2.9" fill="#bfbab6" fill-opacity="0.3" stroke="#aca7a3" stroke-opacity="0.55" stroke-width="0.8"/>
<circle cx="1066.00" cy="172.21" r="2.9" fill="#bfbab6" fill-opacity="0.3" stroke="#aca7a3" stroke-opacity="0.55" stroke-width="0.8"/>
<circle cx="1133.10" cy="134.62" r="2.9" fill="#bfbab6" fill-opacity="0.3" stroke="#aca7a3" stroke-opacity="0.55" stroke-width="0.8"/>
<circle cx="1052.85" cy="182.84" r="2.9" fill="#bfbab6" fill-opacity="0.3" stroke="#aca7a3" stroke-opacity="0.55" stroke-width="0.8"/>
<circle cx="1009.78" cy="115.60" r="2.9" fill="#bfbab6" fill-opacity="0.3" stroke="#aca7a3" stroke-opacity="0.55" stroke-width="0.8"/>
<circle cx="1010.24" cy="175.12" r="2.9" fill="#bfbab6" fill-opacity="0.3" stroke="#aca7a3" stroke-opacity="0.55" stroke-width="0.8"/>
<circle cx="1080.64" cy="122.66" r="2.9" fill="#bfbab6" fill-opacity="0.3" stroke="#aca7a3" stroke-opacity="0.55" stroke-width="0.8"/>
<circle cx="1062.44" cy="108.41" r="2.9" fill="#bfbab6" fill-opacity="0.3" stroke="#aca7a3" stroke-opacity="0.55" stroke-width="0.8"/>
<circle cx="1049.63" cy="92.99" r="2.9" fill="#bfbab6" fill-opacity="0.3" stroke="#aca7a3" stroke-opacity="0.55" stroke-width="0.8"/>
<circle cx="1091.63" cy="153.52" r="2.9" fill="#bfbab6" fill-opacity="0.3" stroke="#aca7a3" stroke-opacity="0.55" stroke-width="0.8"/>
<circle cx="1105.35" cy="128.64" r="2.9" fill="#bfbab6" fill-opacity="0.3" stroke="#aca7a3" stroke-opacity="0.55" stroke-width="0.8"/>
<circle cx="1040.50" cy="44.00" r="2.9" fill="#bfbab6" fill-opacity="0.35" stroke="#aca7a3" stroke-opacity="0.75" stroke-width="0.8"/>
<circle cx="968.80" cy="146.80" r="2.9" fill="#bfbab6" fill-opacity="0.35" stroke="#aca7a3" stroke-opacity="0.75" stroke-width="0.8"/>
<circle cx="978.00" cy="136.00" r="2.9" fill="#bfbab6" fill-opacity="0.35" stroke="#aca7a3" stroke-opacity="0.75" stroke-width="0.8"/>
<circle cx="982.00" cy="148.00" r="2.9" fill="#bfbab6" fill-opacity="0.35" stroke="#aca7a3" stroke-opacity="0.75" stroke-width="0.8"/>
<circle cx="986.00" cy="151.00" r="2.9" fill="#bfbab6" fill-opacity="0.35" stroke="#aca7a3" stroke-opacity="0.75" stroke-width="0.8"/>
<circle cx="989.00" cy="142.00" r="2.9" fill="#bfbab6" fill-opacity="0.35" stroke="#aca7a3" stroke-opacity="0.75" stroke-width="0.8"/>
<circle cx="993.00" cy="128.00" r="2.9" fill="#bfbab6" fill-opacity="0.35" stroke="#aca7a3" stroke-opacity="0.75" stroke-width="0.8"/>
<circle cx="996.00" cy="120.00" r="2.9" fill="#bfbab6" fill-opacity="0.35" stroke="#aca7a3" stroke-opacity="0.75" stroke-width="0.8"/>
<circle cx="999.00" cy="117.00" r="2.9" fill="#bfbab6" fill-opacity="0.35" stroke="#aca7a3" stroke-opacity="0.75" stroke-width="0.8"/>
<circle cx="996.00" cy="145.00" r="2.9" fill="#bfbab6" fill-opacity="0.35" stroke="#aca7a3" stroke-opacity="0.75" stroke-width="0.8"/>
<circle cx="1001.00" cy="132.00" r="2.9" fill="#bfbab6" fill-opacity="0.35" stroke="#aca7a3" stroke-opacity="0.75" stroke-width="0.8"/>
<circle cx="1144.00" cy="135.00" r="2.9" fill="#bfbab6" fill-opacity="0.35" stroke="#aca7a3" stroke-opacity="0.75" stroke-width="0.8"/>
<circle cx="1153.00" cy="135.50" r="2.9" fill="#bfbab6" fill-opacity="0.35" stroke="#aca7a3" stroke-opacity="0.75" stroke-width="0.8"/>
<circle cx="1161.00" cy="132.00" r="2.9" fill="#bfbab6" fill-opacity="0.35" stroke="#aca7a3" stroke-opacity="0.75" stroke-width="0.8"/>
<circle cx="1155.00" cy="134.00" r="2.9" fill="#bfbab6" fill-opacity="0.35" stroke="#aca7a3" stroke-opacity="0.75" stroke-width="0.8"/>
<circle cx="1118.00" cy="128.50" r="2.9" fill="#bfbab6" fill-opacity="0.35" stroke="#aca7a3" stroke-opacity="0.75" stroke-width="0.8"/>
<circle cx="1093.00" cy="124.50" r="2.9" fill="#bfbab6" fill-opacity="0.35" stroke="#aca7a3" stroke-opacity="0.75" stroke-width="0.8"/>
<circle cx="1100.00" cy="126.00" r="2.9" fill="#bfbab6" fill-opacity="0.35" stroke="#aca7a3" stroke-opacity="0.75" stroke-width="0.8"/>
<circle cx="1128.00" cy="132.00" r="2.9" fill="#bfbab6" fill-opacity="0.35" stroke="#aca7a3" stroke-opacity="0.75" stroke-width="0.8"/>
<circle cx="1086.00" cy="143.50" r="2.9" fill="#bfbab6" fill-opacity="0.35" stroke="#aca7a3" stroke-opacity="0.75" stroke-width="0.8"/>
<circle cx="1075.00" cy="141.00" r="2.9" fill="#bfbab6" fill-opacity="0.35" stroke="#aca7a3" stroke-opacity="0.75" stroke-width="0.8"/>
<circle cx="1036.00" cy="228.00" r="2.9" fill="#bfbab6" fill-opacity="0.35" stroke="#aca7a3" stroke-opacity="0.75" stroke-width="0.8"/>
<circle cx="1040.00" cy="236.00" r="2.9" fill="#bfbab6" fill-opacity="0.35" stroke="#aca7a3" stroke-opacity="0.75" stroke-width="0.8"/>
<circle cx="1041.00" cy="243.00" r="2.9" fill="#bfbab6" fill-opacity="0.35" stroke="#aca7a3" stroke-opacity="0.75" stroke-width="0.8"/>
<circle cx="1013.00" cy="175.00" r="2.9" fill="#bfbab6" fill-opacity="0.35" stroke="#aca7a3" stroke-opacity="0.75" stroke-width="0.8"/>
<circle cx="1010.00" cy="170.00" r="2.9" fill="#bfbab6" fill-opacity="0.35" stroke="#aca7a3" stroke-opacity="0.75" stroke-width="0.8"/>
<circle cx="1006.00" cy="157.00" r="2.9" fill="#bfbab6" fill-opacity="0.35" stroke="#aca7a3" stroke-opacity="0.75" stroke-width="0.8"/>
<circle cx="1004.00" cy="162.00" r="2.9" fill="#bfbab6" fill-opacity="0.35" stroke="#aca7a3" stroke-opacity="0.75" stroke-width="0.8"/>
<circle cx="1075.00" cy="172.00" r="2.9" fill="#bfbab6" fill-opacity="0.35" stroke="#aca7a3" stroke-opacity="0.75" stroke-width="0.8"/>
<circle cx="1084.00" cy="166.00" r="2.9" fill="#bfbab6" fill-opacity="0.35" stroke="#aca7a3" stroke-opacity="0.75" stroke-width="0.8"/>
<circle cx="1088.00" cy="160.00" r="2.9" fill="#bfbab6" fill-opacity="0.35" stroke="#aca7a3" stroke-opacity="0.75" stroke-width="0.8"/>
<circle cx="1025.00" cy="208.00" r="2.9" fill="#bfbab6" fill-opacity="0.35" stroke="#aca7a3" stroke-opacity="0.75" stroke-width="0.8"/>
<circle cx="1019.00" cy="200.00" r="2.9" fill="#bfbab6" fill-opacity="0.35" stroke="#aca7a3" stroke-opacity="0.75" stroke-width="0.8"/>
<circle cx="1050.00" cy="208.00" r="2.9" fill="#bfbab6" fill-opacity="0.35" stroke="#aca7a3" stroke-opacity="0.75" stroke-width="0.8"/>
<circle cx="1032.00" cy="224.00" r="2.9" fill="#bfbab6" fill-opacity="0.35" stroke="#aca7a3" stroke-opacity="0.75" stroke-width="0.8"/>
<circle cx="984.00" cy="118.00" r="2.9" fill="#bfbab6" fill-opacity="0.35" stroke="#aca7a3" stroke-opacity="0.75" stroke-width="0.8"/>
<circle cx="988.00" cy="114.00" r="2.9" fill="#bfbab6" fill-opacity="0.35" stroke="#aca7a3" stroke-opacity="0.75" stroke-width="0.8"/>
<circle cx="990.00" cy="121.00" r="2.9" fill="#bfbab6" fill-opacity="0.35" stroke="#aca7a3" stroke-opacity="0.75" stroke-width="0.8"/>
<circle cx="994.00" cy="112.00" r="2.9" fill="#bfbab6" fill-opacity="0.35" stroke="#aca7a3" stroke-opacity="0.75" stroke-width="0.8"/>
<circle cx="998.00" cy="108.00" r="2.9" fill="#bfbab6" fill-opacity="0.35" stroke="#aca7a3" stroke-opacity="0.75" stroke-width="0.8"/>
<circle cx="1000.00" cy="104.00" r="2.9" fill="#bfbab6" fill-opacity="0.35" stroke="#aca7a3" stroke-opacity="0.75" stroke-width="0.8"/>
<circle cx="985.00" cy="130.00" r="2.9" fill="#bfbab6" fill-opacity="0.35" stroke="#aca7a3" stroke-opacity="0.75" stroke-width="0.8"/>
<circle cx="991.00" cy="134.00" r="2.9" fill="#bfbab6" fill-opacity="0.35" stroke="#aca7a3" stroke-opacity="0.75" stroke-width="0.8"/>
<circle cx="997.00" cy="125.00" r="2.9" fill="#bfbab6" fill-opacity="0.35" stroke="#aca7a3" stroke-opacity="0.75" stroke-width="0.8"/>
<circle cx="1003.00" cy="113.00" r="2.9" fill="#bfbab6" fill-opacity="0.35" stroke="#aca7a3" stroke-opacity="0.75" stroke-width="0.8"/>
<circle cx="1005.00" cy="106.00" r="2.9" fill="#bfbab6" fill-opacity="0.35" stroke="#aca7a3" stroke-opacity="0.75" stroke-width="0.8"/>
<circle cx="980.00" cy="141.00" r="2.9" fill="#bfbab6" fill-opacity="0.35" stroke="#aca7a3" stroke-opacity="0.75" stroke-width="0.8"/>
<circle cx="975.00" cy="147.00" r="2.9" fill="#bfbab6" fill-opacity="0.35" stroke="#aca7a3" stroke-opacity="0.75" stroke-width="0.8"/>
<circle cx="989.00" cy="153.00" r="2.9" fill="#bfbab6" fill-opacity="0.35" stroke="#aca7a3" stroke-opacity="0.75" stroke-width="0.8"/>
<circle cx="993.00" cy="150.00" r="2.9" fill="#bfbab6" fill-opacity="0.35" stroke="#aca7a3" stroke-opacity="0.75" stroke-width="0.8"/>
<circle cx="998.00" cy="152.00" r="2.9" fill="#bfbab6" fill-opacity="0.35" stroke="#aca7a3" stroke-opacity="0.75" stroke-width="0.8"/>
<circle cx="1001.00" cy="160.00" r="2.9" fill="#bfbab6" fill-opacity="0.35" stroke="#aca7a3" stroke-opacity="0.75" stroke-width="0.8"/>
<circle cx="1004.00" cy="168.00" r="2.9" fill="#bfbab6" fill-opacity="0.35" stroke="#aca7a3" stroke-opacity="0.75" stroke-width="0.8"/>
<circle cx="1008.00" cy="182.00" r="2.9" fill="#bfbab6" fill-opacity="0.35" stroke="#aca7a3" stroke-opacity="0.75" stroke-width="0.8"/>
<circle cx="1012.00" cy="190.00" r="2.9" fill="#bfbab6" fill-opacity="0.35" stroke="#aca7a3" stroke-opacity="0.75" stroke-width="0.8"/>
<circle cx="1016.00" cy="200.00" r="2.9" fill="#bfbab6" fill-opacity="0.35" stroke="#aca7a3" stroke-opacity="0.75" stroke-width="0.8"/>
<circle cx="1022.00" cy="210.00" r="2.9" fill="#bfbab6" fill-opacity="0.35" stroke="#aca7a3" stroke-opacity="0.75" stroke-width="0.8"/>
<circle cx="1028.00" cy="218.00" r="2.9" fill="#bfbab6" fill-opacity="0.35" stroke="#aca7a3" stroke-opacity="0.75" stroke-width="0.8"/>
<circle cx="1045.00" cy="222.00" r="2.9" fill="#bfbab6" fill-opacity="0.35" stroke="#aca7a3" stroke-opacity="0.75" stroke-width="0.8"/>
<circle cx="1050.00" cy="213.00" r="2.9" fill="#bfbab6" fill-opacity="0.35" stroke="#aca7a3" stroke-opacity="0.75" stroke-width="0.8"/>
<circle cx="1055.00" cy="205.00" r="2.9" fill="#bfbab6" fill-opacity="0.35" stroke="#aca7a3" stroke-opacity="0.75" stroke-width="0.8"/>
</g>
<circle cx="1096.36" cy="149.88" r="2.5" fill="#c8514d" />
<circle cx="1108.89" cy="150.30" r="2.5" fill="#c8514d" />
<circle cx="1124.44" cy="150.22" r="2.5" fill="#c8514d" />
<circle cx="1097.31" cy="149.24" r="2.5" fill="#c8514d" />
<circle cx="1102.99" cy="150.62" r="2.5" fill="#c8514d" />
<circle cx="1111.65" cy="149.49" r="2.5" fill="#c8514d" />
<circle cx="1118.49" cy="147.23" r="2.5" fill="#c8514d" />
<circle cx="1104.32" cy="150.61" r="2.5" fill="#c8514d" />
<circle cx="1092.36" cy="148.71" r="2.5" fill="#c8514d" />
<circle cx="1109.13" cy="154.31" r="2.5" fill="#c8514d" />
<circle cx="1122.79" cy="148.79" r="2.5" fill="#c8514d" />
<circle cx="1105.19" cy="151.18" r="2.5" fill="#c8514d" />
<circle cx="1126.25" cy="150.30" r="2.5" fill="#c8514d" />
<circle cx="1091.23" cy="146.82" r="2.5" fill="#c8514d" />
<circle cx="1124.04" cy="146.38" r="2.5" fill="#c8514d" />
<circle cx="1104.88" cy="151.26" r="2.5" fill="#c8514d" />
<circle cx="1121.37" cy="151.19" r="2.5" fill="#c8514d" />
<circle cx="1094.14" cy="146.00" r="2.5" fill="#c8514d" />
<circle cx="1109.85" cy="148.77" r="2.5" fill="#c8514d" />
<circle cx="1114.60" cy="145.29" r="2.5" fill="#c8514d" />
<circle cx="1107.38" cy="150.11" r="2.5" fill="#c8514d" />
<circle cx="1098.84" cy="149.09" r="2.5" fill="#c8514d" />
<circle cx="1114.53" cy="148.49" r="2.5" fill="#c8514d" />
<circle cx="1114.18" cy="149.56" r="2.5" fill="#c8514d" />
<circle cx="1094.26" cy="151.14" r="2.5" fill="#c8514d" />
<circle cx="1104.75" cy="150.34" r="2.5" fill="#c8514d" />
<circle cx="1112.84" cy="150.17" r="2.5" fill="#c8514d" />
<circle cx="1126.44" cy="148.50" r="2.5" fill="#c8514d" />
<circle cx="1123.58" cy="147.34" r="2.5" fill="#c8514d" />
<circle cx="1126.50" cy="148.59" r="2.5" fill="#c8514d" />
<circle cx="1101.68" cy="152.36" r="2.5" fill="#c8514d" />
<circle cx="1105.96" cy="149.79" r="2.5" fill="#c8514d" />
<circle cx="1115.36" cy="149.76" r="2.5" fill="#c8514d" />
<circle cx="1102.85" cy="149.44" r="2.5" fill="#c8514d" />
<circle cx="1115.94" cy="149.64" r="2.5" fill="#c8514d" />
<circle cx="1109.19" cy="152.04" r="2.5" fill="#c8514d" />
<circle cx="1126.85" cy="147.27" r="2.5" fill="#c8514d" />
<circle cx="1098.41" cy="151.99" r="2.5" fill="#c8514d" />
<circle cx="1101.21" cy="151.33" r="2.5" fill="#c8514d" />
<circle cx="1098.49" cy="148.69" r="2.5" fill="#c8514d" />
<circle cx="1115.28" cy="149.60" r="2.5" fill="#c8514d" />
<circle cx="1098.09" cy="148.97" r="2.5" fill="#c8514d" />
<circle cx="1095.39" cy="149.87" r="2.5" fill="#c8514d" />
<circle cx="1124.13" cy="148.66" r="2.5" fill="#c8514d" />
<circle cx="1117.84" cy="152.37" r="2.5" fill="#c8514d" />
<circle cx="1097.05" cy="149.23" r="2.5" fill="#c8514d" />
<circle cx="1118.36" cy="150.97" r="2.5" fill="#c8514d" />
<circle cx="1104.21" cy="150.21" r="2.5" fill="#c8514d" />
<circle cx="1096.43" cy="150.60" r="2.5" fill="#c8514d" />
<circle cx="1126.31" cy="148.43" r="2.5" fill="#c8514d" />
<circle cx="1126.64" cy="148.80" r="2.5" fill="#c8514d" />
<circle cx="1121.24" cy="150.01" r="2.5" fill="#c8514d" />
<circle cx="1091.87" cy="147.92" r="2.5" fill="#c8514d" />
<circle cx="1097.33" cy="149.54" r="2.5" fill="#c8514d" />
<circle cx="1124.09" cy="150.09" r="2.5" fill="#c8514d" />
<circle cx="1119.13" cy="148.94" r="2.5" fill="#c8514d" />
<circle cx="1091.32" cy="152.78" r="2.5" fill="#c8514d" />
<circle cx="1118.40" cy="150.03" r="2.5" fill="#c8514d" />
<circle cx="1102.88" cy="149.79" r="2.5" fill="#c8514d" />
<circle cx="1099.96" cy="153.19" r="2.5" fill="#c8514d" />
<circle cx="1094.00" cy="153.50" r="2.5" fill="#c8514d" />
<circle cx="1101.00" cy="155.50" r="2.5" fill="#c8514d" />
<circle cx="1104.00" cy="156.50" r="2.5" fill="#c8514d" />
<circle cx="1099.00" cy="146.00" r="2.5" fill="#c8514d" />
<circle cx="1110.00" cy="145.50" r="2.5" fill="#c8514d" />
<circle cx="1116.00" cy="146.00" r="2.5" fill="#c8514d" />
<circle cx="1122.00" cy="152.50" r="2.5" fill="#c8514d" />
<circle cx="1126.00" cy="147.00" r="2.5" fill="#c8514d" />
<line x1="959.40" y1="139.80" x2="1168.00" y2="139.80" stroke="#000" stroke-width="2.1" />
<rect x="959.4" y="29.6" width="208.60000000000002" height="220.4" fill="none" stroke="#000" stroke-width="2"/>
<line x1="953.90" y1="39.50" x2="959.40" y2="39.50" stroke="#000" stroke-width="1.5" />
<text x="951.3" y="45.5" font-size="15" text-anchor="end" fill="#000" stroke="#000" stroke-width="0.6" >5.0</text>
<line x1="953.90" y1="89.62" x2="959.40" y2="89.62" stroke="#000" stroke-width="1.5" />
<text x="951.3" y="95.6" font-size="15" text-anchor="end" fill="#000" stroke="#000" stroke-width="0.6" >2.5</text>
<line x1="953.90" y1="139.75" x2="959.40" y2="139.75" stroke="#000" stroke-width="1.5" />
<text x="951.3" y="145.8" font-size="15" text-anchor="end" fill="#000" stroke="#000" stroke-width="0.6" >0.0</text>
<line x1="953.90" y1="189.88" x2="959.40" y2="189.88" stroke="#000" stroke-width="1.5" />
<text x="951.3" y="195.9" font-size="15" text-anchor="end" fill="#000" stroke="#000" stroke-width="0.6" >&#8722;2.5</text>
<line x1="953.90" y1="240.00" x2="959.40" y2="240.00" stroke="#000" stroke-width="1.5" />
<text x="951.3" y="246.0" font-size="15" text-anchor="end" fill="#000" stroke="#000" stroke-width="0.6" >&#8722;5.0</text>
<line x1="1010.40" y1="250.00" x2="1010.40" y2="255.50" stroke="#000" stroke-width="1.6" />
<text x="1016.0" y="269.5" font-size="15.2" text-anchor="start" fill="#000" stroke="#000" stroke-width="0.6" textLength="5.2" lengthAdjust="spacingAndGlyphs" >1</text>
<line x1="1074.00" y1="250.00" x2="1074.00" y2="255.50" stroke="#000" stroke-width="1.6" />
<text x="1066.5" y="269.5" font-size="15.2" text-anchor="start" fill="#000" stroke="#000" stroke-width="0.6" textLength="22.7" lengthAdjust="spacingAndGlyphs" >100</text>
<line x1="1137.50" y1="250.00" x2="1137.50" y2="255.50" stroke="#000" stroke-width="1.6" />
<text x="1118.2" y="269.5" font-size="15.2" text-anchor="start" fill="#000" stroke="#000" stroke-width="0.6" textLength="38.3" lengthAdjust="spacingAndGlyphs" >10000</text>
<text x="1004.4" y="20.0" font-size="25" text-anchor="start" fill="#000" stroke="#000" stroke-width="0.6" textLength="101.6" lengthAdjust="spacingAndGlyphs" >18 weeks</text>
<text x="952.5" y="290.5" font-size="18.8" text-anchor="start" fill="#000" stroke="#000" stroke-width="0.6" textLength="222.5" lengthAdjust="spacingAndGlyphs" >Mean of normalized counts</text>
<text x="880.9" y="140.2" font-size="17.5" text-anchor="middle" fill="#000" stroke="#000" stroke-width="0.6" textLength="145.3" lengthAdjust="spacingAndGlyphs" transform="rotate(-90 880.9 140.2)" >log<tspan font-size="11" dy="3">2</tspan><tspan dy="-3">(fold&#8722;change)</tspan></text>
<text x="910.6" y="139.4" font-size="17.5" text-anchor="middle" fill="#000" stroke="#000" stroke-width="0.6" textLength="219.5" lengthAdjust="spacingAndGlyphs" transform="rotate(-90 910.6 139.4)" >per unit &#916;HAZ at 18 weeks</text>
<text x="1086.0" y="195.0" font-size="23" text-anchor="start" fill="#c8514d" stroke="#c8514d" stroke-width="0.3" font-weight="bold" textLength="46.0" lengthAdjust="spacingAndGlyphs" >Up in</text>
<text x="1075.0" y="219.7" font-size="23" text-anchor="start" fill="#c8514d" stroke="#c8514d" stroke-width="0.3" font-weight="bold" textLength="72.0" lengthAdjust="spacingAndGlyphs" >stunting</text>
<rect x="958.3" y="334.5" width="216.70000000000005" height="232.20000000000005" fill="#fff"/>
<line x1="974.00" y1="334.50" x2="974.00" y2="566.70" stroke="#f1f1f1" stroke-width="0.8" />
<line x1="1054.00" y1="334.50" x2="1054.00" y2="566.70" stroke="#f1f1f1" stroke-width="0.8" />
<line x1="1133.50" y1="334.50" x2="1133.50" y2="566.70" stroke="#f1f1f1" stroke-width="0.8" />
<line x1="958.30" y1="344.85" x2="1175.00" y2="344.85" stroke="#f1f1f1" stroke-width="0.8" />
<line x1="958.30" y1="392.15" x2="1175.00" y2="392.15" stroke="#f1f1f1" stroke-width="0.8" />
<line x1="958.30" y1="439.45" x2="1175.00" y2="439.45" stroke="#f1f1f1" stroke-width="0.8" />
<line x1="958.30" y1="486.75" x2="1175.00" y2="486.75" stroke="#f1f1f1" stroke-width="0.8" />
<line x1="958.30" y1="534.05" x2="1175.00" y2="534.05" stroke="#f1f1f1" stroke-width="0.8" />
<line x1="1013.70" y1="334.50" x2="1013.70" y2="566.70" stroke="#e8e8e8" stroke-width="1.3" />
<line x1="1093.70" y1="334.50" x2="1093.70" y2="566.70" stroke="#e8e8e8" stroke-width="1.3" />
<line x1="1173.50" y1="334.50" x2="1173.50" y2="566.70" stroke="#e8e8e8" stroke-width="1.3" />
<line x1="958.30" y1="368.50" x2="1175.00" y2="368.50" stroke="#e8e8e8" stroke-width="1.3" />
<line x1="958.30" y1="415.80" x2="1175.00" y2="415.80" stroke="#e8e8e8" stroke-width="1.3" />
<line x1="958.30" y1="463.10" x2="1175.00" y2="463.10" stroke="#e8e8e8" stroke-width="1.3" />
<line x1="958.30" y1="510.40" x2="1175.00" y2="510.40" stroke="#e8e8e8" stroke-width="1.3" />
<line x1="958.30" y1="557.70" x2="1175.00" y2="557.70" stroke="#e8e8e8" stroke-width="1.3" />
<g clip-path="url(#clipc)">
<path d="M984.2,461.0 L985.0,440.0 L986.5,425.0 L989.0,412.0 L992.0,402.0 L996.0,392.0 L1000.0,384.0 L1004.0,377.0 L1007.5,371.5 L1010.5,368.5 L1013.0,368.0 L1016.0,370.5 L1019.0,377.0 L1022.0,386.0 L1025.0,395.0 L1029.0,405.0 L1033.0,414.0 L1038.0,421.0 L1045.0,430.0 L1050.0,438.0 L1070.0,445.0 L1088.0,448.0 L1110.0,452.0 L1128.0,454.5 L1150.0,456.0 L1162.4,456.5 L1165.0,458.3 L1160.0,462.0 L1141.0,463.6 L1101.0,467.6 L1061.4,475.6 L1040.0,483.6 L1024.0,496.9 L1012.0,507.0 L1008.2,509.0 L1000.2,504.8 L994.0,494.0 L989.6,486.2 L984.2,470.3 Z" fill="#bfbab6" stroke="#bfbab6" stroke-width="3" stroke-linejoin="round"/>
<circle cx="1040.41" cy="426.61" r="2.9" fill="#bfbab6" fill-opacity="0.3" stroke="#aca7a3" stroke-opacity="0.55" stroke-width="0.8"/>
<circle cx="1069.01" cy="472.78" r="2.9" fill="#bfbab6" fill-opacity="0.3" stroke="#aca7a3" stroke-opacity="0.55" stroke-width="0.8"/>
<circle cx="1003.55" cy="498.64" r="2.9" fill="#bfbab6" fill-opacity="0.3" stroke="#aca7a3" stroke-opacity="0.55" stroke-width="0.8"/>
<circle cx="991.18" cy="448.53" r="2.9" fill="#bfbab6" fill-opacity="0.3" stroke="#aca7a3" stroke-opacity="0.55" stroke-width="0.8"/>
<circle cx="1015.76" cy="389.43" r="2.9" fill="#bfbab6" fill-opacity="0.3" stroke="#aca7a3" stroke-opacity="0.55" stroke-width="0.8"/>
<circle cx="989.37" cy="484.26" r="2.9" fill="#bfbab6" fill-opacity="0.3" stroke="#aca7a3" stroke-opacity="0.55" stroke-width="0.8"/>
<circle cx="1070.37" cy="446.60" r="2.9" fill="#bfbab6" fill-opacity="0.3" stroke="#aca7a3" stroke-opacity="0.55" stroke-width="0.8"/>
<circle cx="1126.18" cy="452.76" r="2.9" fill="#bfbab6" fill-opacity="0.3" stroke="#aca7a3" stroke-opacity="0.55" stroke-width="0.8"/>
<circle cx="994.84" cy="496.60" r="2.9" fill="#bfbab6" fill-opacity="0.3" stroke="#aca7a3" stroke-opacity="0.55" stroke-width="0.8"/>
<circle cx="1078.70" cy="475.27" r="2.9" fill="#bfbab6" fill-opacity="0.3" stroke="#aca7a3" stroke-opacity="0.55" stroke-width="0.8"/>
<circle cx="1036.05" cy="485.64" r="2.9" fill="#bfbab6" fill-opacity="0.3" stroke="#aca7a3" stroke-opacity="0.55" stroke-width="0.8"/>
<circle cx="1040.75" cy="433.18" r="2.9" fill="#bfbab6" fill-opacity="0.3" stroke="#aca7a3" stroke-opacity="0.55" stroke-width="0.8"/>
<circle cx="1038.94" cy="429.80" r="2.9" fill="#bfbab6" fill-opacity="0.3" stroke="#aca7a3" stroke-opacity="0.55" stroke-width="0.8"/>
<circle cx="985.32" cy="419.31" r="2.9" fill="#bfbab6" fill-opacity="0.3" stroke="#aca7a3" stroke-opacity="0.55" stroke-width="0.8"/>
<circle cx="1014.10" cy="370.82" r="2.9" fill="#bfbab6" fill-opacity="0.3" stroke="#aca7a3" stroke-opacity="0.55" stroke-width="0.8"/>
<circle cx="989.88" cy="427.48" r="2.9" fill="#bfbab6" fill-opacity="0.3" stroke="#aca7a3" stroke-opacity="0.55" stroke-width="0.8"/>
<circle cx="988.73" cy="443.39" r="2.9" fill="#bfbab6" fill-opacity="0.3" stroke="#aca7a3" stroke-opacity="0.55" stroke-width="0.8"/>
<circle cx="986.72" cy="470.56" r="2.9" fill="#bfbab6" fill-opacity="0.3" stroke="#aca7a3" stroke-opacity="0.55" stroke-width="0.8"/>
<circle cx="1012.67" cy="507.34" r="2.9" fill="#bfbab6" fill-opacity="0.3" stroke="#aca7a3" stroke-opacity="0.55" stroke-width="0.8"/>
<circle cx="989.65" cy="417.44" r="2.9" fill="#bfbab6" fill-opacity="0.3" stroke="#aca7a3" stroke-opacity="0.55" stroke-width="0.8"/>
<circle cx="995.02" cy="412.49" r="2.9" fill="#bfbab6" fill-opacity="0.3" stroke="#aca7a3" stroke-opacity="0.55" stroke-width="0.8"/>
<circle cx="1101.60" cy="451.95" r="2.9" fill="#bfbab6" fill-opacity="0.3" stroke="#aca7a3" stroke-opacity="0.55" stroke-width="0.8"/>
<circle cx="1017.83" cy="388.92" r="2.9" fill="#bfbab6" fill-opacity="0.3" stroke="#aca7a3" stroke-opacity="0.55" stroke-width="0.8"/>
<circle cx="1111.39" cy="467.01" r="2.9" fill="#bfbab6" fill-opacity="0.3" stroke="#aca7a3" stroke-opacity="0.55" stroke-width="0.8"/>
<circle cx="1073.38" cy="474.07" r="2.9" fill="#bfbab6" fill-opacity="0.3" stroke="#aca7a3" stroke-opacity="0.55" stroke-width="0.8"/>
<circle cx="997.95" cy="400.29" r="2.9" fill="#bfbab6" fill-opacity="0.3" stroke="#aca7a3" stroke-opacity="0.55" stroke-width="0.8"/>
<circle cx="1027.77" cy="490.54" r="2.9" fill="#bfbab6" fill-opacity="0.3" stroke="#aca7a3" stroke-opacity="0.55" stroke-width="0.8"/>
<circle cx="1064.54" cy="440.98" r="2.9" fill="#bfbab6" fill-opacity="0.3" stroke="#aca7a3" stroke-opacity="0.55" stroke-width="0.8"/>
<circle cx="1078.14" cy="471.36" r="2.9" fill="#bfbab6" fill-opacity="0.3" stroke="#aca7a3" stroke-opacity="0.55" stroke-width="0.8"/>
<circle cx="1024.79" cy="392.76" r="2.9" fill="#bfbab6" fill-opacity="0.3" stroke="#aca7a3" stroke-opacity="0.55" stroke-width="0.8"/>
<circle cx="999.39" cy="382.56" r="2.9" fill="#bfbab6" fill-opacity="0.3" stroke="#aca7a3" stroke-opacity="0.55" stroke-width="0.8"/>
<circle cx="1041.69" cy="432.17" r="2.9" fill="#bfbab6" fill-opacity="0.3" stroke="#aca7a3" stroke-opacity="0.55" stroke-width="0.8"/>
<circle cx="1075.86" cy="444.12" r="2.9" fill="#bfbab6" fill-opacity="0.3" stroke="#aca7a3" stroke-opacity="0.55" stroke-width="0.8"/>
<circle cx="1020.42" cy="386.50" r="2.9" fill="#bfbab6" fill-opacity="0.3" stroke="#aca7a3" stroke-opacity="0.55" stroke-width="0.8"/>
<circle cx="1040.73" cy="476.49" r="2.9" fill="#bfbab6" fill-opacity="0.3" stroke="#aca7a3" stroke-opacity="0.55" stroke-width="0.8"/>
<circle cx="996.96" cy="409.84" r="2.9" fill="#bfbab6" fill-opacity="0.3" stroke="#aca7a3" stroke-opacity="0.55" stroke-width="0.8"/>
<circle cx="1116.35" cy="452.12" r="2.9" fill="#bfbab6" fill-opacity="0.3" stroke="#aca7a3" stroke-opacity="0.55" stroke-width="0.8"/>
<circle cx="1004.44" cy="499.39" r="2.9" fill="#bfbab6" fill-opacity="0.3" stroke="#aca7a3" stroke-opacity="0.55" stroke-width="0.8"/>
<circle cx="986.89" cy="440.03" r="2.9" fill="#bfbab6" fill-opacity="0.3" stroke="#aca7a3" stroke-opacity="0.55" stroke-width="0.8"/>
<circle cx="1011.65" cy="368.42" r="2.9" fill="#bfbab6" fill-opacity="0.3" stroke="#aca7a3" stroke-opacity="0.55" stroke-width="0.8"/>
<circle cx="992.40" cy="472.67" r="2.9" fill="#bfbab6" fill-opacity="0.3" stroke="#aca7a3" stroke-opacity="0.55" stroke-width="0.8"/>
<circle cx="1061.96" cy="447.19" r="2.9" fill="#bfbab6" fill-opacity="0.3" stroke="#aca7a3" stroke-opacity="0.55" stroke-width="0.8"/>
<circle cx="1016.90" cy="498.22" r="2.9" fill="#bfbab6" fill-opacity="0.3" stroke="#aca7a3" stroke-opacity="0.55" stroke-width="0.8"/>
<circle cx="1057.75" cy="476.09" r="2.9" fill="#bfbab6" fill-opacity="0.3" stroke="#aca7a3" stroke-opacity="0.55" stroke-width="0.8"/>
<circle cx="989.50" cy="489.01" r="2.9" fill="#bfbab6" fill-opacity="0.3" stroke="#aca7a3" stroke-opacity="0.55" stroke-width="0.8"/>
<circle cx="1139.70" cy="464.56" r="2.9" fill="#bfbab6" fill-opacity="0.3" stroke="#aca7a3" stroke-opacity="0.55" stroke-width="0.8"/>
<circle cx="1017.30" cy="379.95" r="2.9" fill="#bfbab6" fill-opacity="0.3" stroke="#aca7a3" stroke-opacity="0.55" stroke-width="0.8"/>
<circle cx="1016.61" cy="372.69" r="2.9" fill="#bfbab6" fill-opacity="0.3" stroke="#aca7a3" stroke-opacity="0.55" stroke-width="0.8"/>
<circle cx="1021.60" cy="399.41" r="2.9" fill="#bfbab6" fill-opacity="0.3" stroke="#aca7a3" stroke-opacity="0.55" stroke-width="0.8"/>
<circle cx="1013.30" cy="373.91" r="2.9" fill="#bfbab6" fill-opacity="0.3" stroke="#aca7a3" stroke-opacity="0.55" stroke-width="0.8"/>
<circle cx="987.89" cy="455.17" r="2.9" fill="#bfbab6" fill-opacity="0.3" stroke="#aca7a3" stroke-opacity="0.55" stroke-width="0.8"/>
<circle cx="1008.09" cy="367.76" r="2.9" fill="#bfbab6" fill-opacity="0.3" stroke="#aca7a3" stroke-opacity="0.55" stroke-width="0.8"/>
<circle cx="1040.20" cy="423.93" r="2.9" fill="#bfbab6" fill-opacity="0.3" stroke="#aca7a3" stroke-opacity="0.55" stroke-width="0.8"/>
<circle cx="1154.66" cy="452.91" r="2.9" fill="#bfbab6" fill-opacity="0.3" stroke="#aca7a3" stroke-opacity="0.55" stroke-width="0.8"/>
<circle cx="985.46" cy="427.81" r="2.9" fill="#bfbab6" fill-opacity="0.3" stroke="#aca7a3" stroke-opacity="0.55" stroke-width="0.8"/>
<circle cx="1155.63" cy="456.06" r="2.9" fill="#bfbab6" fill-opacity="0.3" stroke="#aca7a3" stroke-opacity="0.55" stroke-width="0.8"/>
<circle cx="1129.57" cy="464.65" r="2.9" fill="#bfbab6" fill-opacity="0.3" stroke="#aca7a3" stroke-opacity="0.55" stroke-width="0.8"/>
<circle cx="1100.12" cy="467.17" r="2.9" fill="#bfbab6" fill-opacity="0.3" stroke="#aca7a3" stroke-opacity="0.55" stroke-width="0.8"/>
<circle cx="1082.33" cy="449.08" r="2.9" fill="#bfbab6" fill-opacity="0.3" stroke="#aca7a3" stroke-opacity="0.55" stroke-width="0.8"/>
<circle cx="988.30" cy="485.02" r="2.9" fill="#bfbab6" fill-opacity="0.3" stroke="#aca7a3" stroke-opacity="0.55" stroke-width="0.8"/>
<circle cx="1037.22" cy="426.36" r="2.9" fill="#bfbab6" fill-opacity="0.3" stroke="#aca7a3" stroke-opacity="0.55" stroke-width="0.8"/>
<circle cx="1085.68" cy="450.22" r="2.9" fill="#bfbab6" fill-opacity="0.3" stroke="#aca7a3" stroke-opacity="0.55" stroke-width="0.8"/>
<circle cx="1020.69" cy="501.20" r="2.9" fill="#bfbab6" fill-opacity="0.3" stroke="#aca7a3" stroke-opacity="0.55" stroke-width="0.8"/>
<circle cx="1014.00" cy="370.86" r="2.9" fill="#bfbab6" fill-opacity="0.3" stroke="#aca7a3" stroke-opacity="0.55" stroke-width="0.8"/>
<circle cx="1083.18" cy="469.76" r="2.9" fill="#bfbab6" fill-opacity="0.3" stroke="#aca7a3" stroke-opacity="0.55" stroke-width="0.8"/>
<circle cx="1004.40" cy="505.64" r="2.9" fill="#bfbab6" fill-opacity="0.3" stroke="#aca7a3" stroke-opacity="0.55" stroke-width="0.8"/>
<circle cx="1089.83" cy="448.61" r="2.9" fill="#bfbab6" fill-opacity="0.3" stroke="#aca7a3" stroke-opacity="0.55" stroke-width="0.8"/>
<circle cx="1009.85" cy="503.47" r="2.9" fill="#bfbab6" fill-opacity="0.3" stroke="#aca7a3" stroke-opacity="0.55" stroke-width="0.8"/>
<circle cx="1108.83" cy="453.06" r="2.9" fill="#bfbab6" fill-opacity="0.3" stroke="#aca7a3" stroke-opacity="0.55" stroke-width="0.8"/>
<circle cx="1156.32" cy="457.34" r="2.9" fill="#bfbab6" fill-opacity="0.3" stroke="#aca7a3" stroke-opacity="0.55" stroke-width="0.8"/>
<circle cx="1128.75" cy="464.34" r="2.9" fill="#bfbab6" fill-opacity="0.3" stroke="#aca7a3" stroke-opacity="0.55" stroke-width="0.8"/>
<circle cx="1138.23" cy="461.72" r="2.9" fill="#bfbab6" fill-opacity="0.3" stroke="#aca7a3" stroke-opacity="0.55" stroke-width="0.8"/>
<circle cx="1061.82" cy="445.39" r="2.9" fill="#bfbab6" fill-opacity="0.3" stroke="#aca7a3" stroke-opacity="0.55" stroke-width="0.8"/>
<circle cx="1030.41" cy="411.98" r="2.9" fill="#bfbab6" fill-opacity="0.3" stroke="#aca7a3" stroke-opacity="0.55" stroke-width="0.8"/>
<circle cx="1140.43" cy="455.65" r="2.9" fill="#bfbab6" fill-opacity="0.3" stroke="#aca7a3" stroke-opacity="0.55" stroke-width="0.8"/>
<circle cx="1124.14" cy="456.09" r="2.9" fill="#bfbab6" fill-opacity="0.3" stroke="#aca7a3" stroke-opacity="0.55" stroke-width="0.8"/>
<circle cx="1044.86" cy="482.12" r="2.9" fill="#bfbab6" fill-opacity="0.3" stroke="#aca7a3" stroke-opacity="0.55" stroke-width="0.8"/>
<circle cx="996.23" cy="396.50" r="2.9" fill="#bfbab6" fill-opacity="0.3" stroke="#aca7a3" stroke-opacity="0.55" stroke-width="0.8"/>
<circle cx="989.99" cy="490.31" r="2.9" fill="#bfbab6" fill-opacity="0.3" stroke="#aca7a3" stroke-opacity="0.55" stroke-width="0.8"/>
<circle cx="987.68" cy="433.25" r="2.9" fill="#bfbab6" fill-opacity="0.3" stroke="#aca7a3" stroke-opacity="0.55" stroke-width="0.8"/>
<circle cx="1001.14" cy="494.15" r="2.9" fill="#bfbab6" fill-opacity="0.3" stroke="#aca7a3" stroke-opacity="0.55" stroke-width="0.8"/>
<circle cx="1139.65" cy="466.17" r="2.9" fill="#bfbab6" fill-opacity="0.3" stroke="#aca7a3" stroke-opacity="0.55" stroke-width="0.8"/>
<circle cx="1036.66" cy="487.84" r="2.9" fill="#bfbab6" fill-opacity="0.3" stroke="#aca7a3" stroke-opacity="0.55" stroke-width="0.8"/>
<circle cx="1022.97" cy="380.51" r="2.9" fill="#bfbab6" fill-opacity="0.3" stroke="#aca7a3" stroke-opacity="0.55" stroke-width="0.8"/>
<circle cx="1080.16" cy="445.18" r="2.9" fill="#bfbab6" fill-opacity="0.3" stroke="#aca7a3" stroke-opacity="0.55" stroke-width="0.8"/>
<circle cx="1012.98" cy="374.26" r="2.9" fill="#bfbab6" fill-opacity="0.3" stroke="#aca7a3" stroke-opacity="0.55" stroke-width="0.8"/>
<circle cx="1015.78" cy="380.72" r="2.9" fill="#bfbab6" fill-opacity="0.3" stroke="#aca7a3" stroke-opacity="0.55" stroke-width="0.8"/>
<circle cx="1069.30" cy="444.23" r="2.9" fill="#bfbab6" fill-opacity="0.3" stroke="#aca7a3" stroke-opacity="0.55" stroke-width="0.8"/>
<circle cx="995.09" cy="398.08" r="2.9" fill="#bfbab6" fill-opacity="0.3" stroke="#aca7a3" stroke-opacity="0.55" stroke-width="0.8"/>
<circle cx="1004.45" cy="510.42" r="2.9" fill="#bfbab6" fill-opacity="0.3" stroke="#aca7a3" stroke-opacity="0.55" stroke-width="0.8"/>
<circle cx="990.88" cy="440.04" r="2.9" fill="#bfbab6" fill-opacity="0.3" stroke="#aca7a3" stroke-opacity="0.55" stroke-width="0.8"/>
<circle cx="988.26" cy="441.14" r="2.9" fill="#bfbab6" fill-opacity="0.3" stroke="#aca7a3" stroke-opacity="0.55" stroke-width="0.8"/>
<circle cx="1031.26" cy="492.55" r="2.9" fill="#bfbab6" fill-opacity="0.3" stroke="#aca7a3" stroke-opacity="0.55" stroke-width="0.8"/>
<circle cx="1155.62" cy="455.17" r="2.9" fill="#bfbab6" fill-opacity="0.3" stroke="#aca7a3" stroke-opacity="0.55" stroke-width="0.8"/>
<circle cx="1135.66" cy="461.61" r="2.9" fill="#bfbab6" fill-opacity="0.3" stroke="#aca7a3" stroke-opacity="0.55" stroke-width="0.8"/>
<circle cx="1159.23" cy="463.31" r="2.9" fill="#bfbab6" fill-opacity="0.3" stroke="#aca7a3" stroke-opacity="0.55" stroke-width="0.8"/>
<circle cx="1090.34" cy="451.63" r="2.9" fill="#bfbab6" fill-opacity="0.3" stroke="#aca7a3" stroke-opacity="0.55" stroke-width="0.8"/>
<circle cx="1096.69" cy="453.71" r="2.9" fill="#bfbab6" fill-opacity="0.3" stroke="#aca7a3" stroke-opacity="0.55" stroke-width="0.8"/>
<circle cx="988.55" cy="448.89" r="2.9" fill="#bfbab6" fill-opacity="0.3" stroke="#aca7a3" stroke-opacity="0.55" stroke-width="0.8"/>
<circle cx="1019.12" cy="389.07" r="2.9" fill="#bfbab6" fill-opacity="0.3" stroke="#aca7a3" stroke-opacity="0.55" stroke-width="0.8"/>
<circle cx="1065.01" cy="473.93" r="2.9" fill="#bfbab6" fill-opacity="0.3" stroke="#aca7a3" stroke-opacity="0.55" stroke-width="0.8"/>
<circle cx="1010.81" cy="374.62" r="2.9" fill="#bfbab6" fill-opacity="0.3" stroke="#aca7a3" stroke-opacity="0.55" stroke-width="0.8"/>
<circle cx="1115.40" cy="453.11" r="2.9" fill="#bfbab6" fill-opacity="0.3" stroke="#aca7a3" stroke-opacity="0.55" stroke-width="0.8"/>
<circle cx="1093.31" cy="449.56" r="2.9" fill="#bfbab6" fill-opacity="0.3" stroke="#aca7a3" stroke-opacity="0.55" stroke-width="0.8"/>
<circle cx="993.31" cy="414.07" r="2.9" fill="#bfbab6" fill-opacity="0.3" stroke="#aca7a3" stroke-opacity="0.55" stroke-width="0.8"/>
<circle cx="985.34" cy="439.66" r="2.9" fill="#bfbab6" fill-opacity="0.3" stroke="#aca7a3" stroke-opacity="0.55" stroke-width="0.8"/>
<circle cx="1131.25" cy="467.05" r="2.9" fill="#bfbab6" fill-opacity="0.3" stroke="#aca7a3" stroke-opacity="0.55" stroke-width="0.8"/>
<circle cx="1058.37" cy="477.53" r="2.9" fill="#bfbab6" fill-opacity="0.3" stroke="#aca7a3" stroke-opacity="0.55" stroke-width="0.8"/>
<circle cx="1135.49" cy="453.38" r="2.9" fill="#bfbab6" fill-opacity="0.3" stroke="#aca7a3" stroke-opacity="0.55" stroke-width="0.8"/>
<circle cx="1066.18" cy="444.08" r="2.9" fill="#bfbab6" fill-opacity="0.3" stroke="#aca7a3" stroke-opacity="0.55" stroke-width="0.8"/>
<circle cx="987.49" cy="486.58" r="2.9" fill="#bfbab6" fill-opacity="0.3" stroke="#aca7a3" stroke-opacity="0.55" stroke-width="0.8"/>
<circle cx="981.53" cy="463.03" r="2.9" fill="#bfbab6" fill-opacity="0.3" stroke="#aca7a3" stroke-opacity="0.55" stroke-width="0.8"/>
<circle cx="1081.23" cy="470.81" r="2.9" fill="#bfbab6" fill-opacity="0.3" stroke="#aca7a3" stroke-opacity="0.55" stroke-width="0.8"/>
<circle cx="987.31" cy="469.55" r="2.9" fill="#bfbab6" fill-opacity="0.3" stroke="#aca7a3" stroke-opacity="0.55" stroke-width="0.8"/>
<circle cx="1125.76" cy="449.64" r="2.9" fill="#bfbab6" fill-opacity="0.3" stroke="#aca7a3" stroke-opacity="0.55" stroke-width="0.8"/>
<circle cx="1006.30" cy="379.38" r="2.9" fill="#bfbab6" fill-opacity="0.3" stroke="#aca7a3" stroke-opacity="0.55" stroke-width="0.8"/>
<circle cx="1052.63" cy="478.27" r="2.9" fill="#bfbab6" fill-opacity="0.3" stroke="#aca7a3" stroke-opacity="0.55" stroke-width="0.8"/>
<circle cx="1052.31" cy="440.86" r="2.9" fill="#bfbab6" fill-opacity="0.3" stroke="#aca7a3" stroke-opacity="0.55" stroke-width="0.8"/>
<circle cx="1069.33" cy="475.77" r="2.9" fill="#bfbab6" fill-opacity="0.3" stroke="#aca7a3" stroke-opacity="0.55" stroke-width="0.8"/>
<circle cx="1033.26" cy="405.95" r="2.9" fill="#bfbab6" fill-opacity="0.3" stroke="#aca7a3" stroke-opacity="0.55" stroke-width="0.8"/>
<circle cx="1039.89" cy="484.41" r="2.9" fill="#bfbab6" fill-opacity="0.3" stroke="#aca7a3" stroke-opacity="0.55" stroke-width="0.8"/>
<circle cx="996.52" cy="500.59" r="2.9" fill="#bfbab6" fill-opacity="0.3" stroke="#aca7a3" stroke-opacity="0.55" stroke-width="0.8"/>
<circle cx="1016.29" cy="375.35" r="2.9" fill="#bfbab6" fill-opacity="0.3" stroke="#aca7a3" stroke-opacity="0.55" stroke-width="0.8"/>
<circle cx="1043.90" cy="425.63" r="2.9" fill="#bfbab6" fill-opacity="0.3" stroke="#aca7a3" stroke-opacity="0.55" stroke-width="0.8"/>
<circle cx="985.75" cy="441.72" r="2.9" fill="#bfbab6" fill-opacity="0.3" stroke="#aca7a3" stroke-opacity="0.55" stroke-width="0.8"/>
<circle cx="993.16" cy="492.54" r="2.9" fill="#bfbab6" fill-opacity="0.3" stroke="#aca7a3" stroke-opacity="0.55" stroke-width="0.8"/>
<circle cx="1108.42" cy="466.70" r="2.9" fill="#bfbab6" fill-opacity="0.3" stroke="#aca7a3" stroke-opacity="0.55" stroke-width="0.8"/>
<circle cx="1053.66" cy="475.78" r="2.9" fill="#bfbab6" fill-opacity="0.3" stroke="#aca7a3" stroke-opacity="0.55" stroke-width="0.8"/>
<circle cx="997.25" cy="403.45" r="2.9" fill="#bfbab6" fill-opacity="0.3" stroke="#aca7a3" stroke-opacity="0.55" stroke-width="0.8"/>
<circle cx="1056.60" cy="442.71" r="2.9" fill="#bfbab6" fill-opacity="0.3" stroke="#aca7a3" stroke-opacity="0.55" stroke-width="0.8"/>
<circle cx="1013.25" cy="499.45" r="2.9" fill="#bfbab6" fill-opacity="0.3" stroke="#aca7a3" stroke-opacity="0.55" stroke-width="0.8"/>
<circle cx="1010.83" cy="504.38" r="2.9" fill="#bfbab6" fill-opacity="0.3" stroke="#aca7a3" stroke-opacity="0.55" stroke-width="0.8"/>
<circle cx="988.25" cy="405.98" r="2.9" fill="#bfbab6" fill-opacity="0.3" stroke="#aca7a3" stroke-opacity="0.55" stroke-width="0.8"/>
<circle cx="1074.35" cy="447.42" r="2.9" fill="#bfbab6" fill-opacity="0.3" stroke="#aca7a3" stroke-opacity="0.55" stroke-width="0.8"/>
<circle cx="1047.46" cy="478.37" r="2.9" fill="#bfbab6" fill-opacity="0.3" stroke="#aca7a3" stroke-opacity="0.55" stroke-width="0.8"/>
<circle cx="1165.08" cy="465.70" r="2.9" fill="#bfbab6" fill-opacity="0.3" stroke="#aca7a3" stroke-opacity="0.55" stroke-width="0.8"/>
<circle cx="1057.18" cy="441.81" r="2.9" fill="#bfbab6" fill-opacity="0.3" stroke="#aca7a3" stroke-opacity="0.55" stroke-width="0.8"/>
<circle cx="1010.59" cy="375.05" r="2.9" fill="#bfbab6" fill-opacity="0.3" stroke="#aca7a3" stroke-opacity="0.55" stroke-width="0.8"/>
<circle cx="1076.14" cy="476.14" r="2.9" fill="#bfbab6" fill-opacity="0.3" stroke="#aca7a3" stroke-opacity="0.55" stroke-width="0.8"/>
<circle cx="1025.85" cy="397.00" r="2.9" fill="#bfbab6" fill-opacity="0.3" stroke="#aca7a3" stroke-opacity="0.55" stroke-width="0.8"/>
<circle cx="1129.77" cy="466.93" r="2.9" fill="#bfbab6" fill-opacity="0.3" stroke="#aca7a3" stroke-opacity="0.55" stroke-width="0.8"/>
<circle cx="1116.59" cy="464.16" r="2.9" fill="#bfbab6" fill-opacity="0.3" stroke="#aca7a3" stroke-opacity="0.55" stroke-width="0.8"/>
<circle cx="1039.79" cy="424.55" r="2.9" fill="#bfbab6" fill-opacity="0.3" stroke="#aca7a3" stroke-opacity="0.55" stroke-width="0.8"/>
<circle cx="1000.83" cy="385.67" r="2.9" fill="#bfbab6" fill-opacity="0.3" stroke="#aca7a3" stroke-opacity="0.55" stroke-width="0.8"/>
<circle cx="1141.27" cy="459.00" r="2.9" fill="#bfbab6" fill-opacity="0.3" stroke="#aca7a3" stroke-opacity="0.55" stroke-width="0.8"/>
<circle cx="1006.71" cy="508.09" r="2.9" fill="#bfbab6" fill-opacity="0.3" stroke="#aca7a3" stroke-opacity="0.55" stroke-width="0.8"/>
<circle cx="996.38" cy="393.53" r="2.9" fill="#bfbab6" fill-opacity="0.3" stroke="#aca7a3" stroke-opacity="0.55" stroke-width="0.8"/>
<circle cx="982.11" cy="449.22" r="2.9" fill="#bfbab6" fill-opacity="0.3" stroke="#aca7a3" stroke-opacity="0.55" stroke-width="0.8"/>
<circle cx="986.56" cy="459.72" r="2.9" fill="#bfbab6" fill-opacity="0.3" stroke="#aca7a3" stroke-opacity="0.55" stroke-width="0.8"/>
<circle cx="1055.90" cy="440.54" r="2.9" fill="#bfbab6" fill-opacity="0.3" stroke="#aca7a3" stroke-opacity="0.55" stroke-width="0.8"/>
<circle cx="1016.32" cy="383.93" r="2.9" fill="#bfbab6" fill-opacity="0.3" stroke="#aca7a3" stroke-opacity="0.55" stroke-width="0.8"/>
<circle cx="1013.92" cy="374.05" r="2.9" fill="#bfbab6" fill-opacity="0.3" stroke="#aca7a3" stroke-opacity="0.55" stroke-width="0.8"/>
<circle cx="1137.24" cy="460.97" r="2.9" fill="#bfbab6" fill-opacity="0.3" stroke="#aca7a3" stroke-opacity="0.55" stroke-width="0.8"/>
<circle cx="994.22" cy="491.83" r="2.9" fill="#bfbab6" fill-opacity="0.3" stroke="#aca7a3" stroke-opacity="0.55" stroke-width="0.8"/>
<circle cx="1023.30" cy="392.29" r="2.9" fill="#bfbab6" fill-opacity="0.3" stroke="#aca7a3" stroke-opacity="0.55" stroke-width="0.8"/>
<circle cx="1130.03" cy="464.21" r="2.9" fill="#bfbab6" fill-opacity="0.3" stroke="#aca7a3" stroke-opacity="0.55" stroke-width="0.8"/>
<circle cx="1016.52" cy="501.98" r="2.9" fill="#bfbab6" fill-opacity="0.3" stroke="#aca7a3" stroke-opacity="0.55" stroke-width="0.8"/>
<circle cx="1023.89" cy="403.76" r="2.9" fill="#bfbab6" fill-opacity="0.3" stroke="#aca7a3" stroke-opacity="0.55" stroke-width="0.8"/>
<circle cx="988.13" cy="455.11" r="2.9" fill="#bfbab6" fill-opacity="0.3" stroke="#aca7a3" stroke-opacity="0.55" stroke-width="0.8"/>
<circle cx="1051.24" cy="443.04" r="2.9" fill="#bfbab6" fill-opacity="0.3" stroke="#aca7a3" stroke-opacity="0.55" stroke-width="0.8"/>
<circle cx="1125.53" cy="458.11" r="2.9" fill="#bfbab6" fill-opacity="0.3" stroke="#aca7a3" stroke-opacity="0.55" stroke-width="0.8"/>
<circle cx="1080.79" cy="472.48" r="2.9" fill="#bfbab6" fill-opacity="0.3" stroke="#aca7a3" stroke-opacity="0.55" stroke-width="0.8"/>
<circle cx="1024.06" cy="394.75" r="2.9" fill="#bfbab6" fill-opacity="0.3" stroke="#aca7a3" stroke-opacity="0.55" stroke-width="0.8"/>
<circle cx="1145.74" cy="457.69" r="2.9" fill="#bfbab6" fill-opacity="0.3" stroke="#aca7a3" stroke-opacity="0.55" stroke-width="0.8"/>
<circle cx="1080.46" cy="448.19" r="2.9" fill="#bfbab6" fill-opacity="0.3" stroke="#aca7a3" stroke-opacity="0.55" stroke-width="0.8"/>
<circle cx="1057.31" cy="476.56" r="2.9" fill="#bfbab6" fill-opacity="0.3" stroke="#aca7a3" stroke-opacity="0.55" stroke-width="0.8"/>
<circle cx="991.44" cy="454.79" r="2.9" fill="#bfbab6" fill-opacity="0.3" stroke="#aca7a3" stroke-opacity="0.55" stroke-width="0.8"/>
<circle cx="1001.05" cy="389.95" r="2.9" fill="#bfbab6" fill-opacity="0.3" stroke="#aca7a3" stroke-opacity="0.55" stroke-width="0.8"/>
<circle cx="1013.31" cy="373.58" r="2.9" fill="#bfbab6" fill-opacity="0.3" stroke="#aca7a3" stroke-opacity="0.55" stroke-width="0.8"/>
<circle cx="1127.97" cy="461.29" r="2.9" fill="#bfbab6" fill-opacity="0.3" stroke="#aca7a3" stroke-opacity="0.55" stroke-width="0.8"/>
<circle cx="1040.40" cy="483.02" r="2.9" fill="#bfbab6" fill-opacity="0.3" stroke="#aca7a3" stroke-opacity="0.55" stroke-width="0.8"/>
<circle cx="1037.02" cy="418.51" r="2.9" fill="#bfbab6" fill-opacity="0.3" stroke="#aca7a3" stroke-opacity="0.55" stroke-width="0.8"/>
<circle cx="983.19" cy="435.37" r="2.9" fill="#bfbab6" fill-opacity="0.3" stroke="#aca7a3" stroke-opacity="0.55" stroke-width="0.8"/>
<circle cx="1089.04" cy="465.29" r="2.9" fill="#bfbab6" fill-opacity="0.3" stroke="#aca7a3" stroke-opacity="0.55" stroke-width="0.8"/>
<circle cx="983.24" cy="457.63" r="2.9" fill="#bfbab6" fill-opacity="0.3" stroke="#aca7a3" stroke-opacity="0.55" stroke-width="0.8"/>
<circle cx="1110.58" cy="457.47" r="2.9" fill="#bfbab6" fill-opacity="0.3" stroke="#aca7a3" stroke-opacity="0.55" stroke-width="0.8"/>
<circle cx="1075.73" cy="469.22" r="2.9" fill="#bfbab6" fill-opacity="0.3" stroke="#aca7a3" stroke-opacity="0.55" stroke-width="0.8"/>
<circle cx="991.57" cy="406.61" r="2.9" fill="#bfbab6" fill-opacity="0.3" stroke="#aca7a3" stroke-opacity="0.55" stroke-width="0.8"/>
<circle cx="1023.05" cy="386.13" r="2.9" fill="#bfbab6" fill-opacity="0.3" stroke="#aca7a3" stroke-opacity="0.55" stroke-width="0.8"/>
<circle cx="1072.17" cy="472.52" r="2.9" fill="#bfbab6" fill-opacity="0.3" stroke="#aca7a3" stroke-opacity="0.55" stroke-width="0.8"/>
<circle cx="1100.59" cy="468.69" r="2.9" fill="#bfbab6" fill-opacity="0.3" stroke="#aca7a3" stroke-opacity="0.55" stroke-width="0.8"/>
<circle cx="1023.43" cy="404.94" r="2.9" fill="#bfbab6" fill-opacity="0.3" stroke="#aca7a3" stroke-opacity="0.55" stroke-width="0.8"/>
<circle cx="1157.29" cy="462.34" r="2.9" fill="#bfbab6" fill-opacity="0.3" stroke="#aca7a3" stroke-opacity="0.55" stroke-width="0.8"/>
<circle cx="1141.57" cy="454.99" r="2.9" fill="#bfbab6" fill-opacity="0.3" stroke="#aca7a3" stroke-opacity="0.55" stroke-width="0.8"/>
<circle cx="1022.45" cy="404.94" r="2.9" fill="#bfbab6" fill-opacity="0.3" stroke="#aca7a3" stroke-opacity="0.55" stroke-width="0.8"/>
<circle cx="1012.96" cy="381.03" r="2.9" fill="#bfbab6" fill-opacity="0.3" stroke="#aca7a3" stroke-opacity="0.55" stroke-width="0.8"/>
<circle cx="1014.03" cy="506.16" r="2.9" fill="#bfbab6" fill-opacity="0.3" stroke="#aca7a3" stroke-opacity="0.55" stroke-width="0.8"/>
<circle cx="1021.55" cy="388.74" r="2.9" fill="#bfbab6" fill-opacity="0.3" stroke="#aca7a3" stroke-opacity="0.55" stroke-width="0.8"/>
<circle cx="1075.88" cy="475.59" r="2.9" fill="#bfbab6" fill-opacity="0.3" stroke="#aca7a3" stroke-opacity="0.55" stroke-width="0.8"/>
<circle cx="1042.54" cy="431.86" r="2.9" fill="#bfbab6" fill-opacity="0.3" stroke="#aca7a3" stroke-opacity="0.55" stroke-width="0.8"/>
<circle cx="1011.96" cy="503.79" r="2.9" fill="#bfbab6" fill-opacity="0.3" stroke="#aca7a3" stroke-opacity="0.55" stroke-width="0.8"/>
<circle cx="1000.93" cy="505.55" r="2.9" fill="#bfbab6" fill-opacity="0.3" stroke="#aca7a3" stroke-opacity="0.55" stroke-width="0.8"/>
<circle cx="1133.71" cy="461.36" r="2.9" fill="#bfbab6" fill-opacity="0.3" stroke="#aca7a3" stroke-opacity="0.55" stroke-width="0.8"/>
<circle cx="989.84" cy="470.19" r="2.9" fill="#bfbab6" fill-opacity="0.3" stroke="#aca7a3" stroke-opacity="0.55" stroke-width="0.8"/>
<circle cx="1113.62" cy="451.68" r="2.9" fill="#bfbab6" fill-opacity="0.3" stroke="#aca7a3" stroke-opacity="0.55" stroke-width="0.8"/>
<circle cx="1019.32" cy="494.09" r="2.9" fill="#bfbab6" fill-opacity="0.3" stroke="#aca7a3" stroke-opacity="0.55" stroke-width="0.8"/>
<circle cx="1096.46" cy="451.65" r="2.9" fill="#bfbab6" fill-opacity="0.3" stroke="#aca7a3" stroke-opacity="0.55" stroke-width="0.8"/>
<circle cx="1034.80" cy="425.18" r="2.9" fill="#bfbab6" fill-opacity="0.3" stroke="#aca7a3" stroke-opacity="0.55" stroke-width="0.8"/>
<circle cx="1016.60" cy="377.31" r="2.9" fill="#bfbab6" fill-opacity="0.3" stroke="#aca7a3" stroke-opacity="0.55" stroke-width="0.8"/>
<circle cx="1001.83" cy="503.05" r="2.9" fill="#bfbab6" fill-opacity="0.3" stroke="#aca7a3" stroke-opacity="0.55" stroke-width="0.8"/>
<circle cx="998.55" cy="387.33" r="2.9" fill="#bfbab6" fill-opacity="0.3" stroke="#aca7a3" stroke-opacity="0.55" stroke-width="0.8"/>
<circle cx="996.22" cy="495.30" r="2.9" fill="#bfbab6" fill-opacity="0.3" stroke="#aca7a3" stroke-opacity="0.55" stroke-width="0.8"/>
<circle cx="1049.07" cy="438.54" r="2.9" fill="#bfbab6" fill-opacity="0.3" stroke="#aca7a3" stroke-opacity="0.55" stroke-width="0.8"/>
<circle cx="986.05" cy="439.27" r="2.9" fill="#bfbab6" fill-opacity="0.3" stroke="#aca7a3" stroke-opacity="0.55" stroke-width="0.8"/>
<circle cx="1101.24" cy="463.17" r="2.9" fill="#bfbab6" fill-opacity="0.3" stroke="#aca7a3" stroke-opacity="0.55" stroke-width="0.8"/>
<circle cx="1078.02" cy="467.42" r="2.9" fill="#bfbab6" fill-opacity="0.3" stroke="#aca7a3" stroke-opacity="0.55" stroke-width="0.8"/>
<circle cx="990.07" cy="426.95" r="2.9" fill="#bfbab6" fill-opacity="0.3" stroke="#aca7a3" stroke-opacity="0.55" stroke-width="0.8"/>
<circle cx="1036.88" cy="482.38" r="2.9" fill="#bfbab6" fill-opacity="0.3" stroke="#aca7a3" stroke-opacity="0.55" stroke-width="0.8"/>
<circle cx="1037.51" cy="484.77" r="2.9" fill="#bfbab6" fill-opacity="0.3" stroke="#aca7a3" stroke-opacity="0.55" stroke-width="0.8"/>
<circle cx="1017.14" cy="499.86" r="2.9" fill="#bfbab6" fill-opacity="0.3" stroke="#aca7a3" stroke-opacity="0.55" stroke-width="0.8"/>
<circle cx="999.12" cy="502.42" r="2.9" fill="#bfbab6" fill-opacity="0.3" stroke="#aca7a3" stroke-opacity="0.55" stroke-width="0.8"/>
<circle cx="1015.55" cy="374.19" r="2.9" fill="#bfbab6" fill-opacity="0.3" stroke="#aca7a3" stroke-opacity="0.55" stroke-width="0.8"/>
<circle cx="988.06" cy="401.89" r="2.9" fill="#bfbab6" fill-opacity="0.3" stroke="#aca7a3" stroke-opacity="0.55" stroke-width="0.8"/>
<circle cx="1041.10" cy="482.83" r="2.9" fill="#bfbab6" fill-opacity="0.3" stroke="#aca7a3" stroke-opacity="0.55" stroke-width="0.8"/>
<circle cx="1132.22" cy="464.78" r="2.9" fill="#bfbab6" fill-opacity="0.3" stroke="#aca7a3" stroke-opacity="0.55" stroke-width="0.8"/>
<circle cx="1028.10" cy="415.34" r="2.9" fill="#bfbab6" fill-opacity="0.3" stroke="#aca7a3" stroke-opacity="0.55" stroke-width="0.8"/>
<circle cx="987.63" cy="408.39" r="2.9" fill="#bfbab6" fill-opacity="0.3" stroke="#aca7a3" stroke-opacity="0.55" stroke-width="0.8"/>
<circle cx="1018.27" cy="372.51" r="2.9" fill="#bfbab6" fill-opacity="0.3" stroke="#aca7a3" stroke-opacity="0.55" stroke-width="0.8"/>
<circle cx="1040.90" cy="428.00" r="2.9" fill="#bfbab6" fill-opacity="0.3" stroke="#aca7a3" stroke-opacity="0.55" stroke-width="0.8"/>
<circle cx="1025.25" cy="398.96" r="2.9" fill="#bfbab6" fill-opacity="0.3" stroke="#aca7a3" stroke-opacity="0.55" stroke-width="0.8"/>
<circle cx="1029.78" cy="411.86" r="2.9" fill="#bfbab6" fill-opacity="0.3" stroke="#aca7a3" stroke-opacity="0.55" stroke-width="0.8"/>
<circle cx="1039.78" cy="430.00" r="2.9" fill="#bfbab6" fill-opacity="0.3" stroke="#aca7a3" stroke-opacity="0.55" stroke-width="0.8"/>
<circle cx="993.88" cy="477.14" r="2.9" fill="#bfbab6" fill-opacity="0.3" stroke="#aca7a3" stroke-opacity="0.55" stroke-width="0.8"/>
<circle cx="1140.33" cy="462.03" r="2.9" fill="#bfbab6" fill-opacity="0.3" stroke="#aca7a3" stroke-opacity="0.55" stroke-width="0.8"/>
<circle cx="988.88" cy="444.91" r="2.9" fill="#bfbab6" fill-opacity="0.3" stroke="#aca7a3" stroke-opacity="0.55" stroke-width="0.8"/>
<circle cx="1060.39" cy="476.04" r="2.9" fill="#bfbab6" fill-opacity="0.3" stroke="#aca7a3" stroke-opacity="0.55" stroke-width="0.8"/>
<circle cx="1050.10" cy="440.66" r="2.9" fill="#bfbab6" fill-opacity="0.3" stroke="#aca7a3" stroke-opacity="0.55" stroke-width="0.8"/>
<circle cx="1014.95" cy="380.14" r="2.9" fill="#bfbab6" fill-opacity="0.3" stroke="#aca7a3" stroke-opacity="0.55" stroke-width="0.8"/>
<circle cx="1022.59" cy="501.82" r="2.9" fill="#bfbab6" fill-opacity="0.3" stroke="#aca7a3" stroke-opacity="0.55" stroke-width="0.8"/>
<circle cx="1003.88" cy="374.76" r="2.9" fill="#bfbab6" fill-opacity="0.3" stroke="#aca7a3" stroke-opacity="0.55" stroke-width="0.8"/>
<circle cx="984.32" cy="460.32" r="2.9" fill="#bfbab6" fill-opacity="0.3" stroke="#aca7a3" stroke-opacity="0.55" stroke-width="0.8"/>
<circle cx="982.07" cy="473.46" r="2.9" fill="#bfbab6" fill-opacity="0.3" stroke="#aca7a3" stroke-opacity="0.55" stroke-width="0.8"/>
<circle cx="989.03" cy="458.89" r="2.9" fill="#bfbab6" fill-opacity="0.3" stroke="#aca7a3" stroke-opacity="0.55" stroke-width="0.8"/>
<circle cx="1048.24" cy="479.12" r="2.9" fill="#bfbab6" fill-opacity="0.3" stroke="#aca7a3" stroke-opacity="0.55" stroke-width="0.8"/>
<circle cx="1012.32" cy="372.45" r="2.9" fill="#bfbab6" fill-opacity="0.3" stroke="#aca7a3" stroke-opacity="0.55" stroke-width="0.8"/>
<circle cx="1032.10" cy="488.33" r="2.9" fill="#bfbab6" fill-opacity="0.3" stroke="#aca7a3" stroke-opacity="0.55" stroke-width="0.8"/>
<circle cx="1027.76" cy="400.15" r="2.9" fill="#bfbab6" fill-opacity="0.3" stroke="#aca7a3" stroke-opacity="0.55" stroke-width="0.8"/>
<circle cx="1017.05" cy="378.41" r="2.9" fill="#bfbab6" fill-opacity="0.3" stroke="#aca7a3" stroke-opacity="0.55" stroke-width="0.8"/>
<circle cx="1097.58" cy="465.38" r="2.9" fill="#bfbab6" fill-opacity="0.3" stroke="#aca7a3" stroke-opacity="0.55" stroke-width="0.8"/>
<circle cx="1130.81" cy="463.13" r="2.9" fill="#bfbab6" fill-opacity="0.3" stroke="#aca7a3" stroke-opacity="0.55" stroke-width="0.8"/>
<circle cx="988.17" cy="418.86" r="2.9" fill="#bfbab6" fill-opacity="0.3" stroke="#aca7a3" stroke-opacity="0.55" stroke-width="0.8"/>
<circle cx="1051.54" cy="473.19" r="2.9" fill="#bfbab6" fill-opacity="0.3" stroke="#aca7a3" stroke-opacity="0.55" stroke-width="0.8"/>
<circle cx="1135.12" cy="460.92" r="2.9" fill="#bfbab6" fill-opacity="0.3" stroke="#aca7a3" stroke-opacity="0.55" stroke-width="0.8"/>
<circle cx="1074.92" cy="445.08" r="2.9" fill="#bfbab6" fill-opacity="0.3" stroke="#aca7a3" stroke-opacity="0.55" stroke-width="0.8"/>
<circle cx="1010.69" cy="511.67" r="2.9" fill="#bfbab6" fill-opacity="0.3" stroke="#aca7a3" stroke-opacity="0.55" stroke-width="0.8"/>
<circle cx="983.18" cy="447.75" r="2.9" fill="#bfbab6" fill-opacity="0.3" stroke="#aca7a3" stroke-opacity="0.55" stroke-width="0.8"/>
<circle cx="1015.60" cy="374.39" r="2.9" fill="#bfbab6" fill-opacity="0.3" stroke="#aca7a3" stroke-opacity="0.55" stroke-width="0.8"/>
<circle cx="1130.30" cy="450.14" r="2.9" fill="#bfbab6" fill-opacity="0.3" stroke="#aca7a3" stroke-opacity="0.55" stroke-width="0.8"/>
<circle cx="1067.03" cy="443.93" r="2.9" fill="#bfbab6" fill-opacity="0.3" stroke="#aca7a3" stroke-opacity="0.55" stroke-width="0.8"/>
<circle cx="1108.55" cy="454.64" r="2.9" fill="#bfbab6" fill-opacity="0.3" stroke="#aca7a3" stroke-opacity="0.55" stroke-width="0.8"/>
<circle cx="1145.79" cy="457.08" r="2.9" fill="#bfbab6" fill-opacity="0.3" stroke="#aca7a3" stroke-opacity="0.55" stroke-width="0.8"/>
<circle cx="1125.25" cy="458.96" r="2.9" fill="#bfbab6" fill-opacity="0.3" stroke="#aca7a3" stroke-opacity="0.55" stroke-width="0.8"/>
<circle cx="1051.01" cy="440.74" r="2.9" fill="#bfbab6" fill-opacity="0.3" stroke="#aca7a3" stroke-opacity="0.55" stroke-width="0.8"/>
<circle cx="1028.42" cy="493.15" r="2.9" fill="#bfbab6" fill-opacity="0.3" stroke="#aca7a3" stroke-opacity="0.55" stroke-width="0.8"/>
<circle cx="1117.45" cy="464.36" r="2.9" fill="#bfbab6" fill-opacity="0.3" stroke="#aca7a3" stroke-opacity="0.55" stroke-width="0.8"/>
<circle cx="1097.07" cy="452.91" r="2.9" fill="#bfbab6" fill-opacity="0.3" stroke="#aca7a3" stroke-opacity="0.55" stroke-width="0.8"/>
<circle cx="1059.20" cy="473.46" r="2.9" fill="#bfbab6" fill-opacity="0.3" stroke="#aca7a3" stroke-opacity="0.55" stroke-width="0.8"/>
<circle cx="1109.24" cy="454.09" r="2.9" fill="#bfbab6" fill-opacity="0.3" stroke="#aca7a3" stroke-opacity="0.55" stroke-width="0.8"/>
<circle cx="1010.86" cy="506.06" r="2.9" fill="#bfbab6" fill-opacity="0.3" stroke="#aca7a3" stroke-opacity="0.55" stroke-width="0.8"/>
<circle cx="1037.13" cy="419.23" r="2.9" fill="#bfbab6" fill-opacity="0.3" stroke="#aca7a3" stroke-opacity="0.55" stroke-width="0.8"/>
<circle cx="1096.13" cy="467.97" r="2.9" fill="#bfbab6" fill-opacity="0.3" stroke="#aca7a3" stroke-opacity="0.55" stroke-width="0.8"/>
<circle cx="1003.64" cy="383.38" r="2.9" fill="#bfbab6" fill-opacity="0.3" stroke="#aca7a3" stroke-opacity="0.55" stroke-width="0.8"/>
<circle cx="1021.76" cy="395.01" r="2.9" fill="#bfbab6" fill-opacity="0.3" stroke="#aca7a3" stroke-opacity="0.55" stroke-width="0.8"/>
<circle cx="1001.13" cy="378.96" r="2.9" fill="#bfbab6" fill-opacity="0.3" stroke="#aca7a3" stroke-opacity="0.55" stroke-width="0.8"/>
<circle cx="1046.44" cy="429.79" r="2.9" fill="#bfbab6" fill-opacity="0.3" stroke="#aca7a3" stroke-opacity="0.55" stroke-width="0.8"/>
<circle cx="1084.20" cy="476.67" r="2.9" fill="#bfbab6" fill-opacity="0.3" stroke="#aca7a3" stroke-opacity="0.55" stroke-width="0.8"/>
<circle cx="990.40" cy="408.16" r="2.9" fill="#bfbab6" fill-opacity="0.3" stroke="#aca7a3" stroke-opacity="0.55" stroke-width="0.8"/>
<circle cx="1068.86" cy="446.51" r="2.9" fill="#bfbab6" fill-opacity="0.3" stroke="#aca7a3" stroke-opacity="0.55" stroke-width="0.8"/>
<circle cx="984.43" cy="469.48" r="2.9" fill="#bfbab6" fill-opacity="0.3" stroke="#aca7a3" stroke-opacity="0.55" stroke-width="0.8"/>
<circle cx="1094.60" cy="455.17" r="2.9" fill="#bfbab6" fill-opacity="0.3" stroke="#aca7a3" stroke-opacity="0.55" stroke-width="0.8"/>
<circle cx="1013.07" cy="371.14" r="2.9" fill="#bfbab6" fill-opacity="0.3" stroke="#aca7a3" stroke-opacity="0.55" stroke-width="0.8"/>
<circle cx="1015.20" cy="374.77" r="2.9" fill="#bfbab6" fill-opacity="0.3" stroke="#aca7a3" stroke-opacity="0.55" stroke-width="0.8"/>
<circle cx="1071.77" cy="444.02" r="2.9" fill="#bfbab6" fill-opacity="0.3" stroke="#aca7a3" stroke-opacity="0.55" stroke-width="0.8"/>
<circle cx="1051.22" cy="478.44" r="2.9" fill="#bfbab6" fill-opacity="0.3" stroke="#aca7a3" stroke-opacity="0.55" stroke-width="0.8"/>
<circle cx="1100.71" cy="462.14" r="2.9" fill="#bfbab6" fill-opacity="0.3" stroke="#aca7a3" stroke-opacity="0.55" stroke-width="0.8"/>
<circle cx="1110.08" cy="453.54" r="2.9" fill="#bfbab6" fill-opacity="0.3" stroke="#aca7a3" stroke-opacity="0.55" stroke-width="0.8"/>
<circle cx="1001.09" cy="390.24" r="2.9" fill="#bfbab6" fill-opacity="0.3" stroke="#aca7a3" stroke-opacity="0.55" stroke-width="0.8"/>
<circle cx="1076.18" cy="469.32" r="2.9" fill="#bfbab6" fill-opacity="0.3" stroke="#aca7a3" stroke-opacity="0.55" stroke-width="0.8"/>
<circle cx="1003.11" cy="500.89" r="2.9" fill="#bfbab6" fill-opacity="0.3" stroke="#aca7a3" stroke-opacity="0.55" stroke-width="0.8"/>
<circle cx="1072.64" cy="473.39" r="2.9" fill="#bfbab6" fill-opacity="0.3" stroke="#aca7a3" stroke-opacity="0.55" stroke-width="0.8"/>
<circle cx="1088.38" cy="448.98" r="2.9" fill="#bfbab6" fill-opacity="0.3" stroke="#aca7a3" stroke-opacity="0.55" stroke-width="0.8"/>
<circle cx="1015.49" cy="507.91" r="2.9" fill="#bfbab6" fill-opacity="0.3" stroke="#aca7a3" stroke-opacity="0.55" stroke-width="0.8"/>
<circle cx="1058.75" cy="473.18" r="2.9" fill="#bfbab6" fill-opacity="0.3" stroke="#aca7a3" stroke-opacity="0.55" stroke-width="0.8"/>
<circle cx="1107.81" cy="460.18" r="2.9" fill="#bfbab6" fill-opacity="0.3" stroke="#aca7a3" stroke-opacity="0.55" stroke-width="0.8"/>
<circle cx="1127.96" cy="461.06" r="2.9" fill="#bfbab6" fill-opacity="0.3" stroke="#aca7a3" stroke-opacity="0.55" stroke-width="0.8"/>
<circle cx="1135.19" cy="463.37" r="2.9" fill="#bfbab6" fill-opacity="0.3" stroke="#aca7a3" stroke-opacity="0.55" stroke-width="0.8"/>
<circle cx="995.11" cy="411.73" r="2.9" fill="#bfbab6" fill-opacity="0.3" stroke="#aca7a3" stroke-opacity="0.55" stroke-width="0.8"/>
<circle cx="1091.29" cy="470.45" r="2.9" fill="#bfbab6" fill-opacity="0.3" stroke="#aca7a3" stroke-opacity="0.55" stroke-width="0.8"/>
<circle cx="1134.42" cy="462.75" r="2.9" fill="#bfbab6" fill-opacity="0.3" stroke="#aca7a3" stroke-opacity="0.55" stroke-width="0.8"/>
<circle cx="1106.37" cy="449.88" r="2.9" fill="#bfbab6" fill-opacity="0.3" stroke="#aca7a3" stroke-opacity="0.55" stroke-width="0.8"/>
<circle cx="1138.27" cy="458.81" r="2.9" fill="#bfbab6" fill-opacity="0.3" stroke="#aca7a3" stroke-opacity="0.55" stroke-width="0.8"/>
<circle cx="994.12" cy="495.74" r="2.9" fill="#bfbab6" fill-opacity="0.3" stroke="#aca7a3" stroke-opacity="0.55" stroke-width="0.8"/>
<circle cx="1011.89" cy="373.11" r="2.9" fill="#bfbab6" fill-opacity="0.3" stroke="#aca7a3" stroke-opacity="0.55" stroke-width="0.8"/>
<circle cx="1070.85" cy="450.73" r="2.9" fill="#bfbab6" fill-opacity="0.3" stroke="#aca7a3" stroke-opacity="0.55" stroke-width="0.8"/>
<circle cx="1123.98" cy="454.68" r="2.9" fill="#bfbab6" fill-opacity="0.3" stroke="#aca7a3" stroke-opacity="0.55" stroke-width="0.8"/>
<circle cx="1152.01" cy="457.71" r="2.9" fill="#bfbab6" fill-opacity="0.3" stroke="#aca7a3" stroke-opacity="0.55" stroke-width="0.8"/>
<circle cx="1002.58" cy="379.84" r="2.9" fill="#bfbab6" fill-opacity="0.3" stroke="#aca7a3" stroke-opacity="0.55" stroke-width="0.8"/>
<circle cx="1138.96" cy="462.26" r="2.9" fill="#bfbab6" fill-opacity="0.3" stroke="#aca7a3" stroke-opacity="0.55" stroke-width="0.8"/>
<circle cx="994.49" cy="409.78" r="2.9" fill="#bfbab6" fill-opacity="0.3" stroke="#aca7a3" stroke-opacity="0.55" stroke-width="0.8"/>
<circle cx="1088.37" cy="467.01" r="2.9" fill="#bfbab6" fill-opacity="0.3" stroke="#aca7a3" stroke-opacity="0.55" stroke-width="0.8"/>
<circle cx="1135.42" cy="459.89" r="2.9" fill="#bfbab6" fill-opacity="0.3" stroke="#aca7a3" stroke-opacity="0.55" stroke-width="0.8"/>
<circle cx="1140.35" cy="460.89" r="2.9" fill="#bfbab6" fill-opacity="0.3" stroke="#aca7a3" stroke-opacity="0.55" stroke-width="0.8"/>
<circle cx="1083.00" cy="446.84" r="2.9" fill="#bfbab6" fill-opacity="0.3" stroke="#aca7a3" stroke-opacity="0.55" stroke-width="0.8"/>
<circle cx="1105.78" cy="464.99" r="2.9" fill="#bfbab6" fill-opacity="0.3" stroke="#aca7a3" stroke-opacity="0.55" stroke-width="0.8"/>
<circle cx="1073.48" cy="446.99" r="2.9" fill="#bfbab6" fill-opacity="0.3" stroke="#aca7a3" stroke-opacity="0.55" stroke-width="0.8"/>
<circle cx="987.13" cy="469.15" r="2.9" fill="#bfbab6" fill-opacity="0.3" stroke="#aca7a3" stroke-opacity="0.55" stroke-width="0.8"/>
<circle cx="1055.42" cy="439.26" r="2.9" fill="#bfbab6" fill-opacity="0.3" stroke="#aca7a3" stroke-opacity="0.55" stroke-width="0.8"/>
<circle cx="1077.31" cy="446.95" r="2.9" fill="#bfbab6" fill-opacity="0.3" stroke="#aca7a3" stroke-opacity="0.55" stroke-width="0.8"/>
<circle cx="988.51" cy="454.18" r="2.9" fill="#bfbab6" fill-opacity="0.3" stroke="#aca7a3" stroke-opacity="0.55" stroke-width="0.8"/>
<circle cx="1098.76" cy="467.98" r="2.9" fill="#bfbab6" fill-opacity="0.3" stroke="#aca7a3" stroke-opacity="0.55" stroke-width="0.8"/>
<circle cx="1053.00" cy="440.84" r="2.9" fill="#bfbab6" fill-opacity="0.3" stroke="#aca7a3" stroke-opacity="0.55" stroke-width="0.8"/>
<circle cx="1076.65" cy="473.02" r="2.9" fill="#bfbab6" fill-opacity="0.3" stroke="#aca7a3" stroke-opacity="0.55" stroke-width="0.8"/>
<circle cx="995.26" cy="489.23" r="2.9" fill="#bfbab6" fill-opacity="0.3" stroke="#aca7a3" stroke-opacity="0.55" stroke-width="0.8"/>
<circle cx="1045.75" cy="479.50" r="2.9" fill="#bfbab6" fill-opacity="0.3" stroke="#aca7a3" stroke-opacity="0.55" stroke-width="0.8"/>
<circle cx="1073.25" cy="446.71" r="2.9" fill="#bfbab6" fill-opacity="0.3" stroke="#aca7a3" stroke-opacity="0.55" stroke-width="0.8"/>
<circle cx="1058.59" cy="476.58" r="2.9" fill="#bfbab6" fill-opacity="0.3" stroke="#aca7a3" stroke-opacity="0.55" stroke-width="0.8"/>
<circle cx="1041.16" cy="479.33" r="2.9" fill="#bfbab6" fill-opacity="0.3" stroke="#aca7a3" stroke-opacity="0.55" stroke-width="0.8"/>
<circle cx="1161.71" cy="460.33" r="2.9" fill="#bfbab6" fill-opacity="0.3" stroke="#aca7a3" stroke-opacity="0.55" stroke-width="0.8"/>
<circle cx="1022.09" cy="382.96" r="2.9" fill="#bfbab6" fill-opacity="0.3" stroke="#aca7a3" stroke-opacity="0.55" stroke-width="0.8"/>
<circle cx="1129.57" cy="462.64" r="2.9" fill="#bfbab6" fill-opacity="0.3" stroke="#aca7a3" stroke-opacity="0.55" stroke-width="0.8"/>
<circle cx="1012.00" cy="350.00" r="2.9" fill="#bfbab6" fill-opacity="0.35" stroke="#aca7a3" stroke-opacity="0.75" stroke-width="0.8"/>
<circle cx="1024.00" cy="350.00" r="2.9" fill="#bfbab6" fill-opacity="0.35" stroke="#aca7a3" stroke-opacity="0.75" stroke-width="0.8"/>
<circle cx="999.00" cy="366.00" r="2.9" fill="#bfbab6" fill-opacity="0.35" stroke="#aca7a3" stroke-opacity="0.75" stroke-width="0.8"/>
<circle cx="993.00" cy="372.00" r="2.9" fill="#bfbab6" fill-opacity="0.35" stroke="#aca7a3" stroke-opacity="0.75" stroke-width="0.8"/>
<circle cx="989.00" cy="387.00" r="2.9" fill="#bfbab6" fill-opacity="0.35" stroke="#aca7a3" stroke-opacity="0.75" stroke-width="0.8"/>
<circle cx="982.00" cy="392.00" r="2.9" fill="#bfbab6" fill-opacity="0.35" stroke="#aca7a3" stroke-opacity="0.75" stroke-width="0.8"/>
<circle cx="979.00" cy="404.00" r="2.9" fill="#bfbab6" fill-opacity="0.35" stroke="#aca7a3" stroke-opacity="0.75" stroke-width="0.8"/>
<circle cx="973.00" cy="410.00" r="2.9" fill="#bfbab6" fill-opacity="0.35" stroke="#aca7a3" stroke-opacity="0.75" stroke-width="0.8"/>
<circle cx="972.00" cy="418.00" r="2.9" fill="#bfbab6" fill-opacity="0.35" stroke="#aca7a3" stroke-opacity="0.75" stroke-width="0.8"/>
<circle cx="978.00" cy="432.00" r="2.9" fill="#bfbab6" fill-opacity="0.35" stroke="#aca7a3" stroke-opacity="0.75" stroke-width="0.8"/>
<circle cx="975.00" cy="436.00" r="2.9" fill="#bfbab6" fill-opacity="0.35" stroke="#aca7a3" stroke-opacity="0.75" stroke-width="0.8"/>
<circle cx="972.00" cy="447.00" r="2.9" fill="#bfbab6" fill-opacity="0.35" stroke="#aca7a3" stroke-opacity="0.75" stroke-width="0.8"/>
<circle cx="1005.00" cy="371.00" r="2.9" fill="#bfbab6" fill-opacity="0.35" stroke="#aca7a3" stroke-opacity="0.75" stroke-width="0.8"/>
<circle cx="974.00" cy="497.00" r="2.9" fill="#bfbab6" fill-opacity="0.35" stroke="#aca7a3" stroke-opacity="0.75" stroke-width="0.8"/>
<circle cx="967.00" cy="493.00" r="2.9" fill="#bfbab6" fill-opacity="0.35" stroke="#aca7a3" stroke-opacity="0.75" stroke-width="0.8"/>
<circle cx="969.00" cy="486.00" r="2.9" fill="#bfbab6" fill-opacity="0.35" stroke="#aca7a3" stroke-opacity="0.75" stroke-width="0.8"/>
<circle cx="980.00" cy="511.00" r="2.9" fill="#bfbab6" fill-opacity="0.35" stroke="#aca7a3" stroke-opacity="0.75" stroke-width="0.8"/>
<circle cx="988.00" cy="518.00" r="2.9" fill="#bfbab6" fill-opacity="0.35" stroke="#aca7a3" stroke-opacity="0.75" stroke-width="0.8"/>
<circle cx="983.00" cy="520.00" r="2.9" fill="#bfbab6" fill-opacity="0.35" stroke="#aca7a3" stroke-opacity="0.75" stroke-width="0.8"/>
<circle cx="981.00" cy="528.00" r="2.9" fill="#bfbab6" fill-opacity="0.35" stroke="#aca7a3" stroke-opacity="0.75" stroke-width="0.8"/>
<circle cx="984.00" cy="542.00" r="2.9" fill="#bfbab6" fill-opacity="0.35" stroke="#aca7a3" stroke-opacity="0.75" stroke-width="0.8"/>
<circle cx="980.00" cy="527.00" r="2.9" fill="#bfbab6" fill-opacity="0.35" stroke="#aca7a3" stroke-opacity="0.75" stroke-width="0.8"/>
<circle cx="988.00" cy="530.00" r="2.9" fill="#bfbab6" fill-opacity="0.35" stroke="#aca7a3" stroke-opacity="0.75" stroke-width="0.8"/>
<circle cx="995.00" cy="528.00" r="2.9" fill="#bfbab6" fill-opacity="0.35" stroke="#aca7a3" stroke-opacity="0.75" stroke-width="0.8"/>
<circle cx="991.00" cy="547.00" r="2.9" fill="#bfbab6" fill-opacity="0.35" stroke="#aca7a3" stroke-opacity="0.75" stroke-width="0.8"/>
<circle cx="997.00" cy="551.00" r="2.9" fill="#bfbab6" fill-opacity="0.35" stroke="#aca7a3" stroke-opacity="0.75" stroke-width="0.8"/>
<circle cx="994.00" cy="556.00" r="2.9" fill="#bfbab6" fill-opacity="0.35" stroke="#aca7a3" stroke-opacity="0.75" stroke-width="0.8"/>
<circle cx="986.00" cy="556.00" r="2.9" fill="#bfbab6" fill-opacity="0.35" stroke="#aca7a3" stroke-opacity="0.75" stroke-width="0.8"/>
<circle cx="1011.00" cy="534.00" r="2.9" fill="#bfbab6" fill-opacity="0.35" stroke="#aca7a3" stroke-opacity="0.75" stroke-width="0.8"/>
<circle cx="1021.00" cy="516.00" r="2.9" fill="#bfbab6" fill-opacity="0.35" stroke="#aca7a3" stroke-opacity="0.75" stroke-width="0.8"/>
<circle cx="1037.00" cy="510.00" r="2.9" fill="#bfbab6" fill-opacity="0.35" stroke="#aca7a3" stroke-opacity="0.75" stroke-width="0.8"/>
<circle cx="1052.00" cy="505.00" r="2.9" fill="#bfbab6" fill-opacity="0.35" stroke="#aca7a3" stroke-opacity="0.75" stroke-width="0.8"/>
<circle cx="1064.00" cy="495.00" r="2.9" fill="#bfbab6" fill-opacity="0.35" stroke="#aca7a3" stroke-opacity="0.75" stroke-width="0.8"/>
<circle cx="1080.00" cy="487.00" r="2.9" fill="#bfbab6" fill-opacity="0.35" stroke="#aca7a3" stroke-opacity="0.75" stroke-width="0.8"/>
<circle cx="1097.00" cy="482.00" r="2.9" fill="#bfbab6" fill-opacity="0.35" stroke="#aca7a3" stroke-opacity="0.75" stroke-width="0.8"/>
<circle cx="1142.00" cy="467.00" r="2.9" fill="#bfbab6" fill-opacity="0.35" stroke="#aca7a3" stroke-opacity="0.75" stroke-width="0.8"/>
<circle cx="1168.00" cy="448.00" r="2.9" fill="#bfbab6" fill-opacity="0.35" stroke="#aca7a3" stroke-opacity="0.75" stroke-width="0.8"/>
<circle cx="1161.00" cy="445.00" r="2.9" fill="#bfbab6" fill-opacity="0.35" stroke="#aca7a3" stroke-opacity="0.75" stroke-width="0.8"/>
<circle cx="1122.00" cy="440.00" r="2.9" fill="#bfbab6" fill-opacity="0.35" stroke="#aca7a3" stroke-opacity="0.75" stroke-width="0.8"/>
<circle cx="1141.00" cy="445.00" r="2.9" fill="#bfbab6" fill-opacity="0.35" stroke="#aca7a3" stroke-opacity="0.75" stroke-width="0.8"/>
<circle cx="1075.00" cy="437.00" r="2.9" fill="#bfbab6" fill-opacity="0.35" stroke="#aca7a3" stroke-opacity="0.75" stroke-width="0.8"/>
<circle cx="1078.00" cy="434.00" r="2.9" fill="#bfbab6" fill-opacity="0.35" stroke="#aca7a3" stroke-opacity="0.75" stroke-width="0.8"/>
<circle cx="1090.00" cy="434.00" r="2.9" fill="#bfbab6" fill-opacity="0.35" stroke="#aca7a3" stroke-opacity="0.75" stroke-width="0.8"/>
<circle cx="1063.00" cy="432.00" r="2.9" fill="#bfbab6" fill-opacity="0.35" stroke="#aca7a3" stroke-opacity="0.75" stroke-width="0.8"/>
<circle cx="1042.00" cy="428.00" r="2.9" fill="#bfbab6" fill-opacity="0.35" stroke="#aca7a3" stroke-opacity="0.75" stroke-width="0.8"/>
<circle cx="1036.00" cy="422.00" r="2.9" fill="#bfbab6" fill-opacity="0.35" stroke="#aca7a3" stroke-opacity="0.75" stroke-width="0.8"/>
<circle cx="1043.00" cy="424.00" r="2.9" fill="#bfbab6" fill-opacity="0.35" stroke="#aca7a3" stroke-opacity="0.75" stroke-width="0.8"/>
<circle cx="986.00" cy="561.00" r="2.9" fill="#bfbab6" fill-opacity="0.35" stroke="#aca7a3" stroke-opacity="0.75" stroke-width="0.8"/>
<circle cx="978.00" cy="559.00" r="2.9" fill="#bfbab6" fill-opacity="0.35" stroke="#aca7a3" stroke-opacity="0.75" stroke-width="0.8"/>
<circle cx="1035.00" cy="490.00" r="2.9" fill="#bfbab6" fill-opacity="0.35" stroke="#aca7a3" stroke-opacity="0.75" stroke-width="0.8"/>
<circle cx="1045.00" cy="487.00" r="2.9" fill="#bfbab6" fill-opacity="0.35" stroke="#aca7a3" stroke-opacity="0.75" stroke-width="0.8"/>
<circle cx="1000.00" cy="498.00" r="2.9" fill="#bfbab6" fill-opacity="0.35" stroke="#aca7a3" stroke-opacity="0.75" stroke-width="0.8"/>
<circle cx="990.00" cy="475.00" r="2.9" fill="#bfbab6" fill-opacity="0.35" stroke="#aca7a3" stroke-opacity="0.75" stroke-width="0.8"/>
</g>
<path d="M1049.2,433.0 L1051.0,429.5 L1054.0,428.5 L1057.0,431.0 L1060.0,433.5 L1064.0,434.5 L1070.0,436.0 L1074.0,435.0 L1077.0,433.5 L1080.0,435.5 L1083.0,434.0 L1087.0,436.0 L1092.0,438.0 L1097.0,440.0 L1100.0,442.0 L1105.0,444.0 L1110.0,445.5 L1115.0,447.5 L1120.0,448.5 L1125.0,450.0 L1130.0,451.5 L1131.0,455.5 L1126.7,456.2 L1110.0,457.0 L1094.0,457.3 L1080.0,456.5 L1072.5,455.6 L1060.0,453.0 L1049.2,451.0 Z" fill="#93bfd0" stroke="#93bfd0" stroke-width="1.5" stroke-linejoin="round"/>
<ellipse cx="1142.3" cy="454" rx="5.2" ry="3.4" fill="#93bfd0"/>
<circle cx="1049.84" cy="435.18" r="2.5" fill="#93bfd0" />
<circle cx="1050.94" cy="431.05" r="2.5" fill="#93bfd0" />
<circle cx="1054.10" cy="429.85" r="2.5" fill="#93bfd0" />
<circle cx="1057.67" cy="432.63" r="2.5" fill="#93bfd0" />
<circle cx="1060.70" cy="435.02" r="2.5" fill="#93bfd0" />
<circle cx="1063.75" cy="436.00" r="2.5" fill="#93bfd0" />
<circle cx="1069.85" cy="437.42" r="2.5" fill="#93bfd0" />
<circle cx="1073.01" cy="437.07" r="2.5" fill="#93bfd0" />
<circle cx="1076.56" cy="434.99" r="2.5" fill="#93bfd0" />
<circle cx="1079.60" cy="437.28" r="2.5" fill="#93bfd0" />
<circle cx="1082.86" cy="435.96" r="2.5" fill="#93bfd0" />
<circle cx="1087.32" cy="437.63" r="2.5" fill="#93bfd0" />
<circle cx="1092.86" cy="440.23" r="2.5" fill="#93bfd0" />
<circle cx="1096.11" cy="442.19" r="2.5" fill="#93bfd0" />
<circle cx="1100.81" cy="444.14" r="2.5" fill="#93bfd0" />
<circle cx="1104.28" cy="446.20" r="2.5" fill="#93bfd0" />
<circle cx="1110.27" cy="446.72" r="2.5" fill="#93bfd0" />
<circle cx="1114.02" cy="449.84" r="2.5" fill="#93bfd0" />
<circle cx="1120.31" cy="450.00" r="2.5" fill="#93bfd0" />
<circle cx="1124.20" cy="451.37" r="2.5" fill="#93bfd0" />
<circle cx="1129.47" cy="453.63" r="2.5" fill="#93bfd0" />
<line x1="958.30" y1="463.10" x2="1175.00" y2="463.10" stroke="#000" stroke-width="2.1" />
<rect x="958.3" y="334.5" width="216.70000000000005" height="232.20000000000005" fill="none" stroke="#000" stroke-width="2"/>
<line x1="952.80" y1="368.50" x2="958.30" y2="368.50" stroke="#000" stroke-width="1.5" />
<text x="949.8" y="374.1" font-size="15.2" text-anchor="end" fill="#000" stroke="#000" stroke-width="0.6" >2</text>
<line x1="952.80" y1="415.80" x2="958.30" y2="415.80" stroke="#000" stroke-width="1.5" />
<text x="949.8" y="421.4" font-size="15.2" text-anchor="end" fill="#000" stroke="#000" stroke-width="0.6" >1</text>
<line x1="952.80" y1="463.10" x2="958.30" y2="463.10" stroke="#000" stroke-width="1.5" />
<text x="949.8" y="468.7" font-size="15.2" text-anchor="end" fill="#000" stroke="#000" stroke-width="0.6" >0</text>
<line x1="952.80" y1="510.40" x2="958.30" y2="510.40" stroke="#000" stroke-width="1.5" />
<text x="949.8" y="516.0" font-size="15.2" text-anchor="end" fill="#000" stroke="#000" stroke-width="0.6" >&#8722;1</text>
<line x1="952.80" y1="557.70" x2="958.30" y2="557.70" stroke="#000" stroke-width="1.5" />
<text x="949.8" y="563.3" font-size="15.2" text-anchor="end" fill="#000" stroke="#000" stroke-width="0.6" >&#8722;2</text>
<line x1="1013.50" y1="566.70" x2="1013.50" y2="572.20" stroke="#000" stroke-width="1.6" />
<text x="1014.8" y="587.1" font-size="15.2" text-anchor="start" fill="#000" stroke="#000" stroke-width="0.6" textLength="15.7" lengthAdjust="spacingAndGlyphs" >10</text>
<line x1="1093.30" y1="566.70" x2="1093.30" y2="572.20" stroke="#000" stroke-width="1.6" />
<text x="1081.9" y="587.1" font-size="15.2" text-anchor="start" fill="#000" stroke="#000" stroke-width="0.6" textLength="32.0" lengthAdjust="spacingAndGlyphs" >1000</text>
<line x1="1173.50" y1="566.70" x2="1173.50" y2="572.20" stroke="#000" stroke-width="1.6" />
<text x="1149.0" y="587.1" font-size="15.2" text-anchor="start" fill="#000" stroke="#000" stroke-width="0.6" textLength="47.8" lengthAdjust="spacingAndGlyphs" >100000</text>
<text x="1021.7" y="325.6" font-size="25" text-anchor="start" fill="#000" stroke="#000" stroke-width="0.6" textLength="67.3" lengthAdjust="spacingAndGlyphs" >1 year</text>
<text x="949.2" y="609.8" font-size="18.8" text-anchor="start" fill="#000" stroke="#000" stroke-width="0.6" textLength="234.6" lengthAdjust="spacingAndGlyphs" >Mean of normalized counts</text>
<text x="887.7" y="451.3" font-size="17.5" text-anchor="middle" fill="#000" stroke="#000" stroke-width="0.6" textLength="153.7" lengthAdjust="spacingAndGlyphs" transform="rotate(-90 887.7 451.3)" >log<tspan font-size="11" dy="3">2</tspan><tspan dy="-3">(fold&#8722;change)</tspan></text>
<text x="918.0" y="450.5" font-size="17.5" text-anchor="middle" fill="#000" stroke="#000" stroke-width="0.6" textLength="204.5" lengthAdjust="spacingAndGlyphs" transform="rotate(-90 918.0 450.5)" >per unit &#916;HAZ at 1 year</text>
<text x="1061.8" y="375.6" font-size="23" text-anchor="start" fill="#91bfd0" stroke="#91bfd0" stroke-width="0.3" font-weight="bold" textLength="72.1" lengthAdjust="spacingAndGlyphs" >Down in</text>
<text x="1064.0" y="400.1" font-size="23" text-anchor="start" fill="#91bfd0" stroke="#91bfd0" stroke-width="0.3" font-weight="bold" textLength="73.1" lengthAdjust="spacingAndGlyphs" >stunting</text>
<path d="M999,667 C1058.65,667 1058.65,667 1118.3,667 L1118.3,673 C1058.65,673 1058.65,673 999,673 Z" fill="#c86b65" stroke="none" stroke-width="1" fill-opacity="0.55"/>
<path d="M999,673 C1058.65,673 1058.65,691.5 1118.3,691.5 L1118.3,784 C1058.65,784 1058.65,766 999,766 Z" fill="#c86b65" stroke="none" stroke-width="1" fill-opacity="0.55"/>
<path d="M999,766 C1058.65,766 1058.65,851 1118.3,851 L1118.3,873 C1058.65,873 1058.65,788 999,788 Z" fill="#c86b65" stroke="none" stroke-width="1" fill-opacity="0.55"/>
<path d="M999,788 C1058.65,788 1058.65,673 1118.3,673 L1118.3,674.7 C1058.65,674.7 1058.65,789.7 999,789.7 Z" fill="#a2c5d5" stroke="none" stroke-width="1" fill-opacity="0.55"/>
<path d="M999,789.7 C1058.65,789.7 1058.65,784 1118.3,784 L1118.3,806 C1058.65,806 1058.65,811 999,811 Z" fill="#a2c5d5" stroke="none" stroke-width="1" fill-opacity="0.55"/>
<path d="M999,811 C1058.65,811 1058.65,873 1118.3,873 L1118.3,894 C1058.65,894 1058.65,832 999,832 Z" fill="#a2c5d5" stroke="none" stroke-width="1" fill-opacity="0.55"/>
<path d="M999,832 C1058.65,832 1058.65,674.7 1118.3,674.7 L1118.3,691.5 C1058.65,691.5 1058.65,849 999,849 Z" fill="#c4c1bc" stroke="none" stroke-width="1" fill-opacity="0.55"/>
<path d="M999,849 C1058.65,849 1058.65,806 1118.3,806 L1118.3,851 C1058.65,851 1058.65,894 999,894 Z" fill="#c4c1bc" stroke="none" stroke-width="1" fill-opacity="0.55"/>
<rect x="939.7" y="667" width="59.3" height="121.0" fill="#c86b65" stroke="#2a2a2a" stroke-width="1.3"/>
<rect x="939.7" y="788" width="59.3" height="44.0" fill="#a2c5d5" stroke="#2a2a2a" stroke-width="1.3"/>
<rect x="939.7" y="832" width="59.3" height="63.5" fill="#c4c1bc" stroke="#2a2a2a" stroke-width="1.3"/>
<rect x="1118.3" y="667" width="59.3" height="24.5" fill="#c86b65" stroke="#2a2a2a" stroke-width="1.3"/>
<rect x="1118.3" y="691.5" width="59.3" height="159.5" fill="#a2c5d5" stroke="#2a2a2a" stroke-width="1.3"/>
<rect x="1118.3" y="851" width="59.3" height="44.5" fill="#c4c1bc" stroke="#2a2a2a" stroke-width="1.3"/>
<text x="926.8" y="655.0" font-size="25.8" text-anchor="start" fill="#000" stroke="#000" stroke-width="0.6" textLength="101.7" lengthAdjust="spacingAndGlyphs" >18 weeks</text>
<text x="1114.0" y="655.0" font-size="25.8" text-anchor="start" fill="#000" stroke="#000" stroke-width="0.6" textLength="67.0" lengthAdjust="spacingAndGlyphs" >1 year</text>
<text x="956.3" y="734.8" font-size="17.5" text-anchor="start" fill="#000" stroke="#000" stroke-width="0.6" textLength="23.6" lengthAdjust="spacingAndGlyphs" >Up</text>
<text x="943.7" y="817.0" font-size="17.5" text-anchor="start" fill="#000" stroke="#000" stroke-width="0.6" textLength="48.8" lengthAdjust="spacingAndGlyphs" >Down</text>
<text x="955.0" y="858.3" font-size="17.5" text-anchor="start" fill="#000" stroke="#000" stroke-width="0.6" textLength="26.2" lengthAdjust="spacingAndGlyphs" >Not</text>
<text x="939.2" y="875.3" font-size="17.5" text-anchor="start" fill="#000" stroke="#000" stroke-width="0.6" textLength="59.1" lengthAdjust="spacingAndGlyphs" >present</text>
<text x="1136.1" y="686.3" font-size="17.5" text-anchor="start" fill="#000" stroke="#000" stroke-width="0.6" textLength="22.4" lengthAdjust="spacingAndGlyphs" >Up</text>
<text x="1123.0" y="776.9" font-size="17.5" text-anchor="start" fill="#000" stroke="#000" stroke-width="0.6" textLength="47.3" lengthAdjust="spacingAndGlyphs" >Down</text>
<text x="1133.5" y="867.5" font-size="17.5" text-anchor="start" fill="#000" stroke="#000" stroke-width="0.6" textLength="27.1" lengthAdjust="spacingAndGlyphs" >Not</text>
<text x="1117.8" y="884.5" font-size="17.5" text-anchor="start" fill="#000" stroke="#000" stroke-width="0.6" textLength="59.0" lengthAdjust="spacingAndGlyphs" >present</text>
<path d="M308.5,592.4 L319.3,592.4 C324.3,592.4 325.3,588.4 329.3,588.4 C333.3,588.4 333.3,592.4 338.3,592.4 L356.9,592.4 C361.9,592.4 362.9,588.4 366.9,588.4 C370.9,588.4 370.9,592.4 375.9,592.4 L393.7,592.4 C398.7,592.4 399.7,588.4 403.7,588.4 C407.7,588.4 407.7,592.4 412.7,592.4 L431.2,592.4 C436.2,592.4 437.2,588.4 441.2,588.4 C445.2,588.4 445.2,592.4 450.2,592.4 L458.6,592.4" fill="none" stroke="#5aabbf" stroke-width="1.2" />
<path d="M323.4,607.5 L332,607.5 C337,607.5 337,611.5 341,611.5 C345,611.5 346,607.5 351,607.5 L365.4,607.5 C370.4,607.5 370.4,611.5 374.4,611.5 C378.4,611.5 379.4,607.5 384.4,607.5 L398.6,607.5 C403.6,607.5 403.6,611.5 407.6,611.5 C411.6,611.5 412.6,607.5 417.6,607.5 L432,607.5 C437,607.5 437,611.5 441,611.5 C445,611.5 446,607.5 451,607.5 L458,607.5" fill="none" stroke="#5aabbf" stroke-width="1.2" />
<line x1="365.70" y1="564.60" x2="365.70" y2="573.00" stroke="#d02a2a" stroke-width="1.8" />
<circle cx="365.70" cy="564.60" r="3.6" fill="#d42727" />
<line x1="404.00" y1="564.00" x2="404.00" y2="573.00" stroke="#a9d5ef" stroke-width="1.8" />
<circle cx="404.00" cy="564.00" r="3.8" fill="#a9d5ef" />
<line x1="341.80" y1="630.60" x2="341.80" y2="623.00" stroke="#b3b3b3" stroke-width="1.8" />
<circle cx="341.80" cy="630.60" r="2.9" fill="#b3b3b3" />
<line x1="408.80" y1="632.00" x2="408.80" y2="625.00" stroke="#d02a2a" stroke-width="1.8" />
<circle cx="408.80" cy="632.00" r="3.6" fill="#d42727" />
<g transform="translate(325.10 581.20) rotate(22) scale(1.0)"><ellipse cx="6.3" cy="0" rx="5.3" ry="9.8" fill="#9fd0ec"/><rect x="0" y="-9.8" width="6.3" height="19.6" fill="#9fd0ec"/><path d="M2.3,-9.6 A5.3,9.8 0 0 1 2.3,9.6" fill="none" stroke="#4f9cc6" stroke-width="0.95"/><path d="M4.4,-9.6 A5.3,9.8 0 0 1 4.4,9.6" fill="none" stroke="#4f9cc6" stroke-width="0.95"/><path d="M6.3,-9.6 A5.3,9.8 0 0 1 6.3,9.6" fill="none" stroke="#4f9cc6" stroke-width="0.95"/><ellipse cx="0" cy="0" rx="5.3" ry="9.8" fill="#cde5f5"/></g>
<g transform="translate(362.70 581.20) rotate(22) scale(1.0)"><ellipse cx="6.3" cy="0" rx="5.3" ry="9.8" fill="#9fd0ec"/><rect x="0" y="-9.8" width="6.3" height="19.6" fill="#9fd0ec"/><path d="M2.3,-9.6 A5.3,9.8 0 0 1 2.3,9.6" fill="none" stroke="#4f9cc6" stroke-width="0.95"/><path d="M4.4,-9.6 A5.3,9.8 0 0 1 4.4,9.6" fill="none" stroke="#4f9cc6" stroke-width="0.95"/><path d="M6.3,-9.6 A5.3,9.8 0 0 1 6.3,9.6" fill="none" stroke="#4f9cc6" stroke-width="0.95"/><ellipse cx="0" cy="0" rx="5.3" ry="9.8" fill="#cde5f5"/></g>
<g transform="translate(399.50 581.20) rotate(22) scale(1.0)"><ellipse cx="6.3" cy="0" rx="5.3" ry="9.8" fill="#9fd0ec"/><rect x="0" y="-9.8" width="6.3" height="19.6" fill="#9fd0ec"/><path d="M2.3,-9.6 A5.3,9.8 0 0 1 2.3,9.6" fill="none" stroke="#4f9cc6" stroke-width="0.95"/><path d="M4.4,-9.6 A5.3,9.8 0 0 1 4.4,9.6" fill="none" stroke="#4f9cc6" stroke-width="0.95"/><path d="M6.3,-9.6 A5.3,9.8 0 0 1 6.3,9.6" fill="none" stroke="#4f9cc6" stroke-width="0.95"/><ellipse cx="0" cy="0" rx="5.3" ry="9.8" fill="#cde5f5"/></g>
<g transform="translate(437.00 581.20) rotate(22) scale(1.0)"><ellipse cx="6.3" cy="0" rx="5.3" ry="9.8" fill="#9fd0ec"/><rect x="0" y="-9.8" width="6.3" height="19.6" fill="#9fd0ec"/><path d="M2.3,-9.6 A5.3,9.8 0 0 1 2.3,9.6" fill="none" stroke="#4f9cc6" stroke-width="0.95"/><path d="M4.4,-9.6 A5.3,9.8 0 0 1 4.4,9.6" fill="none" stroke="#4f9cc6" stroke-width="0.95"/><path d="M6.3,-9.6 A5.3,9.8 0 0 1 6.3,9.6" fill="none" stroke="#4f9cc6" stroke-width="0.95"/><ellipse cx="0" cy="0" rx="5.3" ry="9.8" fill="#cde5f5"/></g>
<g transform="translate(337.80 615.40) rotate(22) scale(1.0)"><ellipse cx="6.3" cy="0" rx="5.3" ry="9.8" fill="#9fd0ec"/><rect x="0" y="-9.8" width="6.3" height="19.6" fill="#9fd0ec"/><path d="M2.3,-9.6 A5.3,9.8 0 0 1 2.3,9.6" fill="none" stroke="#4f9cc6" stroke-width="0.95"/><path d="M4.4,-9.6 A5.3,9.8 0 0 1 4.4,9.6" fill="none" stroke="#4f9cc6" stroke-width="0.95"/><path d="M6.3,-9.6 A5.3,9.8 0 0 1 6.3,9.6" fill="none" stroke="#4f9cc6" stroke-width="0.95"/><ellipse cx="0" cy="0" rx="5.3" ry="9.8" fill="#cde5f5"/></g>
<g transform="translate(371.20 615.40) rotate(22) scale(1.0)"><ellipse cx="6.3" cy="0" rx="5.3" ry="9.8" fill="#9fd0ec"/><rect x="0" y="-9.8" width="6.3" height="19.6" fill="#9fd0ec"/><path d="M2.3,-9.6 A5.3,9.8 0 0 1 2.3,9.6" fill="none" stroke="#4f9cc6" stroke-width="0.95"/><path d="M4.4,-9.6 A5.3,9.8 0 0 1 4.4,9.6" fill="none" stroke="#4f9cc6" stroke-width="0.95"/><path d="M6.3,-9.6 A5.3,9.8 0 0 1 6.3,9.6" fill="none" stroke="#4f9cc6" stroke-width="0.95"/><ellipse cx="0" cy="0" rx="5.3" ry="9.8" fill="#cde5f5"/></g>
<g transform="translate(404.40 615.40) rotate(22) scale(1.0)"><ellipse cx="6.3" cy="0" rx="5.3" ry="9.8" fill="#9fd0ec"/><rect x="0" y="-9.8" width="6.3" height="19.6" fill="#9fd0ec"/><path d="M2.3,-9.6 A5.3,9.8 0 0 1 2.3,9.6" fill="none" stroke="#4f9cc6" stroke-width="0.95"/><path d="M4.4,-9.6 A5.3,9.8 0 0 1 4.4,9.6" fill="none" stroke="#4f9cc6" stroke-width="0.95"/><path d="M6.3,-9.6 A5.3,9.8 0 0 1 6.3,9.6" fill="none" stroke="#4f9cc6" stroke-width="0.95"/><ellipse cx="0" cy="0" rx="5.3" ry="9.8" fill="#cde5f5"/></g>
<g transform="translate(437.80 615.40) rotate(22) scale(1.0)"><ellipse cx="6.3" cy="0" rx="5.3" ry="9.8" fill="#9fd0ec"/><rect x="0" y="-9.8" width="6.3" height="19.6" fill="#9fd0ec"/><path d="M2.3,-9.6 A5.3,9.8 0 0 1 2.3,9.6" fill="none" stroke="#4f9cc6" stroke-width="0.95"/><path d="M4.4,-9.6 A5.3,9.8 0 0 1 4.4,9.6" fill="none" stroke="#4f9cc6" stroke-width="0.95"/><path d="M6.3,-9.6 A5.3,9.8 0 0 1 6.3,9.6" fill="none" stroke="#4f9cc6" stroke-width="0.95"/><ellipse cx="0" cy="0" rx="5.3" ry="9.8" fill="#cde5f5"/></g>
<g transform="translate(361.50 558.00) rotate(-20) scale(1.0)" stroke="#c0474b" stroke-width="2.1" fill="none" stroke-linecap="butt"><line x1="-1.7" y1="-1" x2="-1.7" y2="-14.5"/><line x1="1.7" y1="-1" x2="1.7" y2="-14.5"/><line x1="-0.18" y1="2.11" x2="-9.38" y2="9.83"/><line x1="-4.03" y1="0.64" x2="-11.31" y2="6.75"/><line x1="-0.00" y1="2.12" x2="8.49" y2="10.61"/><line x1="3.96" y1="0.99" x2="10.68" y2="7.71"/></g>
<g transform="translate(409.50 638.50) rotate(152) scale(1.0)" stroke="#c0474b" stroke-width="2.1" fill="none" stroke-linecap="butt"><line x1="-1.7" y1="-1" x2="-1.7" y2="-14.5"/><line x1="1.7" y1="-1" x2="1.7" y2="-14.5"/><line x1="-0.18" y1="2.11" x2="-9.38" y2="9.83"/><line x1="-4.03" y1="0.64" x2="-11.31" y2="6.75"/><line x1="0.83" y1="1.95" x2="11.96" y2="6.45"/><line x1="4.03" y1="-0.64" x2="12.84" y2="2.92"/></g>
<path d="M468.5,607.2 L478.7,607.2 C483.7,607.2 484.7,603.2 488.7,603.2 C492.7,603.2 492.7,607.2 497.7,607.2 L512.7,607.2 C517.7,607.2 518.7,603.2 522.7,603.2 C526.7,603.2 526.7,607.2 531.7,607.2 L546,607.2 C551,607.2 552,603.2 556,603.2 C560,603.2 560,607.2 565,607.2 L580.7,607.2 C585.7,607.2 586.7,603.2 590.7,603.2 C594.7,603.2 594.7,607.2 599.7,607.2 L606.7,607.2" fill="none" stroke="#9a9a9a" stroke-width="1.1" />
<line x1="555.80" y1="582.00" x2="555.80" y2="591.00" stroke="#d02a2a" stroke-width="1.8" />
<circle cx="555.80" cy="582.00" r="3.4" fill="#d42727" />
<g transform="translate(484.90 596.40) rotate(22) scale(0.9)"><ellipse cx="6.3" cy="0" rx="5.3" ry="9.8" fill="#9b9b9b"/><rect x="0" y="-9.8" width="6.3" height="19.6" fill="#9b9b9b"/><path d="M2.3,-9.6 A5.3,9.8 0 0 1 2.3,9.6" fill="none" stroke="#4a4a4a" stroke-width="0.95"/><path d="M4.4,-9.6 A5.3,9.8 0 0 1 4.4,9.6" fill="none" stroke="#4a4a4a" stroke-width="0.95"/><path d="M6.3,-9.6 A5.3,9.8 0 0 1 6.3,9.6" fill="none" stroke="#4a4a4a" stroke-width="0.95"/><ellipse cx="0" cy="0" rx="5.3" ry="9.8" fill="#b2b2b2"/></g>
<g transform="translate(518.90 596.40) rotate(22) scale(0.9)"><ellipse cx="6.3" cy="0" rx="5.3" ry="9.8" fill="#9b9b9b"/><rect x="0" y="-9.8" width="6.3" height="19.6" fill="#9b9b9b"/><path d="M2.3,-9.6 A5.3,9.8 0 0 1 2.3,9.6" fill="none" stroke="#4a4a4a" stroke-width="0.95"/><path d="M4.4,-9.6 A5.3,9.8 0 0 1 4.4,9.6" fill="none" stroke="#4a4a4a" stroke-width="0.95"/><path d="M6.3,-9.6 A5.3,9.8 0 0 1 6.3,9.6" fill="none" stroke="#4a4a4a" stroke-width="0.95"/><ellipse cx="0" cy="0" rx="5.3" ry="9.8" fill="#b2b2b2"/></g>
<g transform="translate(552.20 596.40) rotate(22) scale(0.9)"><ellipse cx="6.3" cy="0" rx="5.3" ry="9.8" fill="#9b9b9b"/><rect x="0" y="-9.8" width="6.3" height="19.6" fill="#9b9b9b"/><path d="M2.3,-9.6 A5.3,9.8 0 0 1 2.3,9.6" fill="none" stroke="#4a4a4a" stroke-width="0.95"/><path d="M4.4,-9.6 A5.3,9.8 0 0 1 4.4,9.6" fill="none" stroke="#4a4a4a" stroke-width="0.95"/><path d="M6.3,-9.6 A5.3,9.8 0 0 1 6.3,9.6" fill="none" stroke="#4a4a4a" stroke-width="0.95"/><ellipse cx="0" cy="0" rx="5.3" ry="9.8" fill="#b2b2b2"/></g>
<g transform="translate(586.90 596.40) rotate(22) scale(0.9)"><ellipse cx="6.3" cy="0" rx="5.3" ry="9.8" fill="#9b9b9b"/><rect x="0" y="-9.8" width="6.3" height="19.6" fill="#9b9b9b"/><path d="M2.3,-9.6 A5.3,9.8 0 0 1 2.3,9.6" fill="none" stroke="#4a4a4a" stroke-width="0.95"/><path d="M4.4,-9.6 A5.3,9.8 0 0 1 4.4,9.6" fill="none" stroke="#4a4a4a" stroke-width="0.95"/><path d="M6.3,-9.6 A5.3,9.8 0 0 1 6.3,9.6" fill="none" stroke="#4a4a4a" stroke-width="0.95"/><ellipse cx="0" cy="0" rx="5.3" ry="9.8" fill="#b2b2b2"/></g>
<g transform="translate(558.30 574.50) rotate(0) scale(1.0)" stroke="#c0474b" stroke-width="2.1" fill="none" stroke-linecap="butt"><line x1="-1.7" y1="-1" x2="-1.7" y2="-12"/><line x1="1.7" y1="-1" x2="1.7" y2="-12"/><line x1="-0.11" y1="2.12" x2="-7.54" y2="8.81"/><line x1="-4.01" y1="0.78" x2="-9.58" y2="5.80"/><line x1="0.11" y1="2.12" x2="7.54" y2="8.81"/><line x1="4.01" y1="0.78" x2="9.58" y2="5.80"/></g>
<line x1="496.40" y1="613.90" x2="512.40" y2="613.90" stroke="#000" stroke-width="2.6" />
<line x1="504.40" y1="605.90" x2="504.40" y2="621.90" stroke="#000" stroke-width="2.6" />
<g stroke="#111" stroke-width="1.25" fill="#a9a9a9" stroke-linecap="round" stroke-linejoin="round">
<path d="M611.2,553.6 Q609.5,548.5 608.4,547 Q606,544 603.4,543.3 M615.7,554.2 Q614.8,550 614.6,547 Q614,544 613.7,541.9 M606.8,560.3 Q602,559.5 598.4,558.1 Q596,556 594.7,552.8 M607.3,564.3 Q602,563 598.4,562.6 Q596,563 594.5,563.4 M619,556.4 Q625,555 630.2,555.3 Q633.5,556.5 635.5,559.2 M610.1,569.3 Q609.5,574 609.6,578.2 Q611,581.5 613.5,583.3 M603.5,550.5 L602.8,547.5 M601.5,552.8 L598.4,552" fill="none"/>
<ellipse cx="625.5" cy="561.5" rx="8.3" ry="4.2" transform="rotate(25 625.5 561.5)"/>
<ellipse cx="624.1" cy="571.2" rx="4.8" ry="4.6"/>
<path d="M620.8,573.5 L625.5,567.8 M622.8,575.5 L627.2,569.8" fill="none"/>
<ellipse cx="614.9" cy="572.4" rx="4.4" ry="7.6" transform="rotate(-22 614.9 572.4)"/>
<ellipse cx="612.3" cy="560.3" rx="5.9" ry="5.6"/>
<ellipse cx="605.2" cy="553.6" rx="3.7" ry="3.3" transform="rotate(-30 605.2 553.6)"/>
</g>
<polygon points="315.7,661 331.8,661 331.6,871" fill="url(#wedge)"/>
<text x="308.5" y="680.0" font-size="19.5" text-anchor="middle" fill="#000" stroke="#000" stroke-width="0.6" textLength="9.3" lengthAdjust="spacingAndGlyphs" transform="rotate(-90 308.5 680.0)" >2</text>
<text x="308.5" y="849.6" font-size="19.5" text-anchor="middle" fill="#000" stroke="#000" stroke-width="0.6" textLength="17.6" lengthAdjust="spacingAndGlyphs" transform="rotate(-90 308.5 849.6)" >-2</text>
<text x="308.5" y="761.5" font-size="19.5" text-anchor="middle" fill="#000" stroke="#000" stroke-width="0.6" textLength="50.5" lengthAdjust="spacingAndGlyphs" transform="rotate(-90 308.5 761.5)" >M&#770;HAZ</text>
<circle cx="351.30" cy="667.70" r="1.6" fill="#000" />
<circle cx="351.30" cy="674.80" r="1.6" fill="#000" />
<circle cx="351.30" cy="681.80" r="1.6" fill="#000" />
<circle cx="350.70" cy="848.60" r="1.6" fill="#000" />
<circle cx="350.70" cy="855.70" r="1.6" fill="#000" />
<circle cx="350.70" cy="862.70" r="1.6" fill="#000" />
<g transform="translate(351.50 703.50) scale(0.82)"><circle cx="0" cy="0" r="6.1" fill="#000"/><path d="M-5.6,7.4 L5.6,7.4 L13.6,15.3 L11.2,18 L5.6,12.8 L5.6,18.8 L-5.6,18.8 L-5.6,12.8 L-11.2,18 L-13.6,15.3 Z" fill="#000" stroke="#000" stroke-width="0.8" stroke-linejoin="round"/><path d="M-9.6,24.3 Q-8,21.5 -5.6,22.6 L-3.6,24.6 L-4.6,25.4 L-3.2,27.3 L-4,28.4 L-2.4,33 Q-3.5,35.3 -6,35 L-8.8,33.4 Q-10.8,28 -9.6,24.3 Z" fill="#000"/><path d="M9.6,24.3 Q8,21.5 5.6,22.6 L3.2,24.6 L4.2,25.4 L2.6,27.3 L3.6,28.4 L2.0,33 Q3.1,35.3 5.6,35 L8.8,33.4 Q10.8,28 9.6,24.3 Z" fill="#000"/></g>
<g transform="translate(349.10 767.30) scale(0.62)"><circle cx="0" cy="0" r="6.1" fill="#000"/><path d="M-5.6,7.4 L5.6,7.4 L13.6,15.3 L11.2,18 L5.6,12.8 L5.6,18.8 L-5.6,18.8 L-5.6,12.8 L-11.2,18 L-13.6,15.3 Z" fill="#000" stroke="#000" stroke-width="0.8" stroke-linejoin="round"/><path d="M-9.6,24.3 Q-8,21.5 -5.6,22.6 L-3.6,24.6 L-4.6,25.4 L-3.2,27.3 L-4,28.4 L-2.4,33 Q-3.5,35.3 -6,35 L-8.8,33.4 Q-10.8,28 -9.6,24.3 Z" fill="#000"/><path d="M9.6,24.3 Q8,21.5 5.6,22.6 L3.2,24.6 L4.2,25.4 L2.6,27.3 L3.6,28.4 L2.0,33 Q3.1,35.3 5.6,35 L8.8,33.4 Q10.8,28 9.6,24.3 Z" fill="#000"/></g>
<g transform="translate(348.70 820.50) scale(0.53)"><circle cx="0" cy="0" r="6.1" fill="#000"/><path d="M-5.6,7.4 L5.6,7.4 L13.6,15.3 L11.2,18 L5.6,12.8 L5.6,18.8 L-5.6,18.8 L-5.6,12.8 L-11.2,18 L-13.6,15.3 Z" fill="#000" stroke="#000" stroke-width="0.8" stroke-linejoin="round"/><path d="M-9.6,24.3 Q-8,21.5 -5.6,22.6 L-3.6,24.6 L-4.6,25.4 L-3.2,27.3 L-4,28.4 L-2.4,33 Q-3.5,35.3 -6,35 L-8.8,33.4 Q-10.8,28 -9.6,24.3 Z" fill="#000"/><path d="M9.6,24.3 Q8,21.5 5.6,22.6 L3.2,24.6 L4.2,25.4 L2.6,27.3 L3.6,28.4 L2.0,33 Q3.1,35.3 5.6,35 L8.8,33.4 Q10.8,28 9.6,24.3 Z" fill="#000"/></g>
<path d="M375.60,734.80 C376.08,735.08 377.43,736.80 378.50,736.50 C379.57,736.20 380.92,739.08 382.00,733.00 C383.08,726.92 384.10,708.83 385.00,700.00 C385.90,691.17 386.57,681.67 387.40,680.00 C388.23,678.33 389.07,682.50 390.00,690.00 C390.93,697.50 392.05,717.75 393.00,725.00 C393.95,732.25 394.87,735.17 395.70,733.50 C396.53,731.83 397.25,720.50 398.00,715.00 C398.75,709.50 399.45,701.00 400.20,700.50 C400.95,700.00 401.57,707.58 402.50,712.00 C403.43,716.42 404.55,726.33 405.80,727.00 C407.05,727.67 408.80,719.50 410.00,716.00 C411.20,712.50 412.03,707.67 413.00,706.00 C413.97,704.33 414.88,703.33 415.80,706.00 C416.72,708.67 417.63,717.80 418.50,722.00 C419.37,726.20 420.08,730.53 421.00,731.20 C421.92,731.87 423.00,727.45 424.00,726.00 C425.00,724.55 425.33,722.17 427.00,722.50 C428.67,722.83 431.58,726.00 434.00,728.00 C436.42,730.00 440.25,733.42 441.50,734.50" fill="none" stroke="#b8daf0" stroke-width="3.2" stroke-linecap="round" stroke-linejoin="round"/>
<path d="M375.60,786.30 C376.17,786.17 377.77,786.55 379.00,785.50 C380.23,784.45 381.75,783.92 383.00,780.00 C384.25,776.08 385.38,766.00 386.50,762.00 C387.62,758.00 388.70,755.00 389.70,756.00 C390.70,757.00 391.50,763.17 392.50,768.00 C393.50,772.83 394.70,783.67 395.70,785.00 C396.70,786.33 397.57,778.40 398.50,776.00 C399.43,773.60 400.47,770.93 401.30,770.60 C402.13,770.27 402.75,772.52 403.50,774.00 C404.25,775.48 404.88,779.17 405.80,779.50 C406.72,779.83 407.97,777.25 409.00,776.00 C410.03,774.75 410.87,772.72 412.00,772.00 C413.13,771.28 414.72,770.87 415.80,771.70 C416.88,772.53 417.63,775.12 418.50,777.00 C419.37,778.88 420.08,782.50 421.00,783.00 C421.92,783.50 422.83,781.33 424.00,780.00 C425.17,778.67 425.83,775.17 428.00,775.00 C430.17,774.83 433.83,777.67 437.00,779.00 C440.17,780.33 445.33,782.33 447.00,783.00" fill="none" stroke="#b8daf0" stroke-width="3.2" stroke-linecap="round" stroke-linejoin="round"/>
<path d="M380.70,836.60 C381.42,836.17 383.78,835.93 385.00,834.00 C386.22,832.07 386.97,827.55 388.00,825.00 C389.03,822.45 390.20,818.53 391.20,818.70 C392.20,818.87 393.03,823.37 394.00,826.00 C394.97,828.63 396.00,833.83 397.00,834.50 C398.00,835.17 398.92,831.33 400.00,830.00 C401.08,828.67 402.50,826.50 403.50,826.50 C404.50,826.50 405.25,829.25 406.00,830.00 C406.75,830.75 407.08,831.08 408.00,831.00 C408.92,830.92 410.38,829.67 411.50,829.50 C412.62,829.33 413.70,829.42 414.70,830.00 C415.70,830.58 416.57,832.28 417.50,833.00 C418.43,833.72 419.22,834.55 420.30,834.30 C421.38,834.05 422.52,832.38 424.00,831.50 C425.48,830.62 427.03,829.08 429.20,829.00 C431.37,828.92 434.20,830.12 437.00,831.00 C439.80,831.88 444.50,833.75 446.00,834.30" fill="none" stroke="#b8daf0" stroke-width="3.2" stroke-linecap="round" stroke-linejoin="round"/>
<path d="M454.50,736.40 C455.75,736.33 459.92,736.48 462.00,736.00 C464.08,735.52 465.83,735.33 467.00,733.50 C468.17,731.67 468.47,726.65 469.00,725.00 C469.53,723.35 469.78,723.43 470.20,723.60 C470.62,723.77 470.95,724.27 471.50,726.00 C472.05,727.73 472.42,732.33 473.50,734.00 C474.58,735.67 475.25,735.75 478.00,736.00 C480.75,736.25 486.28,735.67 490.00,735.50 C493.72,735.33 498.05,735.92 500.30,735.00 C502.55,734.08 502.55,733.83 503.50,730.00 C504.45,726.17 505.30,715.83 506.00,712.00 C506.70,708.17 507.12,707.33 507.70,707.00 C508.28,706.67 508.77,706.92 509.50,710.00 C510.23,713.08 511.23,724.50 512.10,725.50 C512.97,726.50 513.77,718.85 514.70,716.00 C515.63,713.15 516.73,708.40 517.70,708.40 C518.67,708.40 519.70,712.40 520.50,716.00 C521.30,719.60 521.77,726.92 522.50,730.00 C523.23,733.08 523.82,733.92 524.90,734.50 C525.98,735.08 527.70,733.75 529.00,733.50 C530.30,733.25 531.20,732.75 532.70,733.00 C534.20,733.25 535.77,734.43 538.00,735.00 C540.23,735.57 544.75,736.17 546.10,736.40" fill="none" stroke="#bfbab6" stroke-width="3.2" stroke-linecap="round" stroke-linejoin="round"/>
<path d="M454.50,785.50 C455.75,785.50 459.92,785.92 462.00,785.50 C464.08,785.08 465.83,784.83 467.00,783.00 C468.17,781.17 468.47,776.28 469.00,774.50 C469.53,772.72 469.78,772.22 470.20,772.30 C470.62,772.38 470.95,773.13 471.50,775.00 C472.05,776.87 472.42,781.75 473.50,783.50 C474.58,785.25 475.25,785.25 478.00,785.50 C480.75,785.75 486.28,785.25 490.00,785.00 C493.72,784.75 497.97,785.17 500.30,784.00 C502.63,782.83 502.88,780.23 504.00,778.00 C505.12,775.77 506.08,771.52 507.00,770.60 C507.92,769.68 508.75,771.10 509.50,772.50 C510.25,773.90 510.75,779.25 511.50,779.00 C512.25,778.75 513.08,773.30 514.00,771.00 C514.92,768.70 516.00,765.20 517.00,765.20 C518.00,765.20 519.08,768.53 520.00,771.00 C520.92,773.47 521.68,777.92 522.50,780.00 C523.32,782.08 523.82,783.08 524.90,783.50 C525.98,783.92 527.70,782.83 529.00,782.50 C530.30,782.17 531.20,781.33 532.70,781.50 C534.20,781.67 535.77,782.83 538.00,783.50 C540.23,784.17 544.75,785.17 546.10,785.50" fill="none" stroke="#bfbab6" stroke-width="3.2" stroke-linecap="round" stroke-linejoin="round"/>
<path d="M457.80,835.40 C459.00,835.33 462.97,835.40 465.00,835.00 C467.03,834.60 468.92,834.75 470.00,833.00 C471.08,831.25 471.03,826.33 471.50,824.50 C471.97,822.67 472.33,821.92 472.80,822.00 C473.27,822.08 473.77,823.17 474.30,825.00 C474.83,826.83 475.05,831.33 476.00,833.00 C476.95,834.67 477.33,834.75 480.00,835.00 C482.67,835.25 488.07,834.83 492.00,834.50 C495.93,834.17 501.10,835.42 503.60,833.00 C506.10,830.58 505.88,823.88 507.00,820.00 C508.12,816.12 509.38,810.87 510.30,809.70 C511.22,808.53 511.75,811.03 512.50,813.00 C513.25,814.97 514.08,820.67 514.80,821.50 C515.52,822.33 516.13,819.03 516.80,818.00 C517.47,816.97 518.02,814.97 518.80,815.30 C519.58,815.63 520.55,817.55 521.50,820.00 C522.45,822.45 523.57,827.92 524.50,830.00 C525.43,832.08 526.02,832.33 527.10,832.50 C528.18,832.67 529.68,831.33 531.00,831.00 C532.32,830.67 533.33,830.17 535.00,830.50 C536.67,830.83 538.78,832.18 541.00,833.00 C543.22,833.82 547.08,835.00 548.30,835.40" fill="none" stroke="#bfbab6" stroke-width="3.2" stroke-linecap="round" stroke-linejoin="round"/>
<path d="M557.30,736.40 C558.58,736.33 562.05,736.07 565.00,736.00 C567.95,735.93 571.83,736.08 575.00,736.00 C578.17,735.92 582.00,736.00 584.00,735.50 C586.00,735.00 586.28,735.25 587.00,733.00 C587.72,730.75 587.85,724.12 588.30,722.00 C588.75,719.88 589.22,719.63 589.70,720.30 C590.18,720.97 590.65,724.00 591.20,726.00 C591.75,728.00 592.40,731.97 593.00,732.30 C593.60,732.63 594.23,728.88 594.80,728.00 C595.37,727.12 595.87,726.50 596.40,727.00 C596.93,727.50 597.40,729.67 598.00,731.00 C598.60,732.33 599.17,734.30 600.00,735.00 C600.83,735.70 601.00,735.03 603.00,735.20 C605.00,735.37 610.17,736.70 612.00,736.00 C613.83,735.30 613.37,732.68 614.00,731.00 C614.63,729.32 615.20,726.40 615.80,725.90 C616.40,725.40 617.00,727.28 617.60,728.00 C618.20,728.72 618.75,730.53 619.40,730.20 C620.05,729.87 620.82,727.10 621.50,726.00 C622.18,724.90 622.83,723.77 623.50,723.60 C624.17,723.43 624.92,723.93 625.50,725.00 C626.08,726.07 626.45,728.07 627.00,730.00 C627.55,731.93 628.50,735.50 628.80,736.60" fill="none" stroke="#c95f59" stroke-width="3.2" stroke-linecap="round" stroke-linejoin="round"/>
<path d="M557.30,785.50 C558.58,785.50 562.05,785.50 565.00,785.50 C567.95,785.50 571.83,785.62 575.00,785.50 C578.17,785.38 582.00,785.38 584.00,784.80 C586.00,784.22 586.28,783.38 587.00,782.00 C587.72,780.62 587.92,777.67 588.30,776.50 C588.68,775.33 588.88,774.75 589.30,775.00 C589.72,775.25 590.18,776.92 590.80,778.00 C591.42,779.08 592.30,781.58 593.00,781.50 C593.70,781.42 594.43,778.40 595.00,777.50 C595.57,776.60 595.90,775.85 596.40,776.10 C596.90,776.35 597.40,777.72 598.00,779.00 C598.60,780.28 599.17,782.88 600.00,783.80 C600.83,784.72 601.08,784.30 603.00,784.50 C604.92,784.70 609.95,787.08 611.50,785.00 C613.05,782.92 612.00,776.25 612.30,772.00 C612.60,767.75 612.92,760.17 613.30,759.50 C613.68,758.83 614.17,768.15 614.60,768.00 C615.03,767.85 615.45,758.60 615.90,758.60 C616.35,758.60 616.82,767.97 617.30,768.00 C617.78,768.03 618.27,759.13 618.80,758.80 C619.33,758.47 619.88,767.17 620.50,766.00 C621.12,764.83 621.88,753.13 622.50,751.80 C623.12,750.47 623.67,754.63 624.20,758.00 C624.73,761.37 625.18,768.00 625.70,772.00 C626.22,776.00 626.78,779.67 627.30,782.00 C627.82,784.33 628.55,785.33 628.80,786.00" fill="none" stroke="#c95f59" stroke-width="3.2" stroke-linecap="round" stroke-linejoin="round"/>
<path d="M557.30,835.40 C558.58,835.40 562.05,835.43 565.00,835.40 C567.95,835.37 571.67,835.37 575.00,835.20 C578.33,835.03 583.00,835.10 585.00,834.40 C587.00,833.70 586.42,833.15 587.00,831.00 C587.58,828.85 588.05,823.38 588.50,821.50 C588.95,819.62 589.25,819.28 589.70,819.70 C590.15,820.12 590.65,822.15 591.20,824.00 C591.75,825.85 592.37,830.55 593.00,830.80 C593.63,831.05 594.25,826.87 595.00,825.50 C595.75,824.13 596.80,822.18 597.50,822.60 C598.20,823.02 598.65,826.07 599.20,828.00 C599.75,829.93 600.00,833.03 600.80,834.20 C601.60,835.37 602.32,834.87 604.00,835.00 C605.68,835.13 609.53,836.67 610.90,835.00 C612.27,833.33 611.77,830.33 612.20,825.00 C612.63,819.67 613.05,807.78 613.50,803.00 C613.95,798.22 614.48,795.80 614.90,796.30 C615.32,796.80 615.65,802.47 616.00,806.00 C616.35,809.53 616.67,817.50 617.00,817.50 C617.33,817.50 617.70,809.95 618.00,806.00 C618.30,802.05 618.50,794.13 618.80,793.80 C619.10,793.47 619.50,800.47 619.80,804.00 C620.10,807.53 620.30,815.17 620.60,815.00 C620.90,814.83 621.10,806.50 621.60,803.00 C622.10,799.50 623.03,793.67 623.60,794.00 C624.17,794.33 624.52,799.83 625.00,805.00 C625.48,810.17 625.87,819.93 626.50,825.00 C627.13,830.07 628.42,833.67 628.80,835.40" fill="none" stroke="#c95f59" stroke-width="3.2" stroke-linecap="round" stroke-linejoin="round"/>
<line x1="387.40" y1="849.90" x2="434.40" y2="849.90" stroke="#222" stroke-width="2.8" />
<line x1="467.90" y1="849.90" x2="476.80" y2="849.90" stroke="#222" stroke-width="2.8" />
<line x1="498.00" y1="849.90" x2="526.00" y2="849.90" stroke="#222" stroke-width="2.8" />
<line x1="584.50" y1="849.90" x2="634.40" y2="849.90" stroke="#222" stroke-width="2.8" />
</svg>
</body></html>
